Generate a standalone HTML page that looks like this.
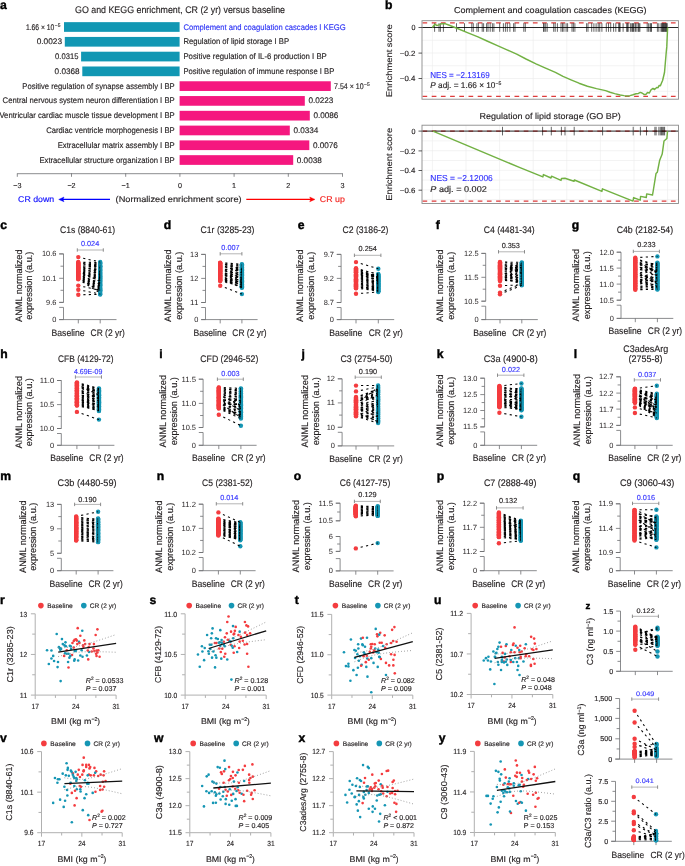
<!DOCTYPE html><html><head><meta charset="utf-8"><style>html,body{margin:0;padding:0;background:#fff;}svg{display:block;will-change:transform;}text{font-family:"Liberation Sans", sans-serif;}</style></head><body><svg width="685" height="866" viewBox="0 0 685 866" text-rendering="geometricPrecision" fill="#231f20"><text x="-0.1" y="8.8" font-size="12.2" fill="#000" font-weight="bold" stroke="#000" stroke-width="0.4">a</text>
<text x="75" y="12.9" font-size="9.6" textLength="210" lengthAdjust="spacingAndGlyphs" stroke="#231f20" stroke-width="0.15">GO and KEGG enrichment, CR (2 yr) versus baseline</text>
<rect x="64" y="22.15" width="115.6" height="9.7" fill="#1197b3"/>
<text x="183.4" y="29.5" font-size="8.2" fill="#2f35f5" textLength="162.3" lengthAdjust="spacingAndGlyphs" stroke="#2f35f5" stroke-width="0.15">Complement and coagulation cascades I KEGG</text>
<text x="25.9" y="29.5" font-size="8.1" textLength="28.5" lengthAdjust="spacingAndGlyphs" stroke="#231f20" stroke-width="0.15">1.66 × 10</text>
<text x="54.8" y="26.6" font-size="5.2" textLength="5.6" lengthAdjust="spacingAndGlyphs" stroke="#231f20" stroke-width="0.15">−5</text>
<rect x="64.8" y="36.93" width="114.8" height="9.7" fill="#1197b3"/>
<text x="183.4" y="44.28" font-size="8.2" textLength="105.7" lengthAdjust="spacingAndGlyphs" stroke="#231f20" stroke-width="0.15">Regulation of lipid storage I BP</text>
<text x="62.1" y="44.28" font-size="8.1" text-anchor="end" textLength="25.4" lengthAdjust="spacingAndGlyphs" stroke="#231f20" stroke-width="0.15">0.0023</text>
<rect x="81.1" y="51.71" width="98.5" height="9.7" fill="#1197b3"/>
<text x="183.4" y="59.06" font-size="8.2" textLength="143.4" lengthAdjust="spacingAndGlyphs" stroke="#231f20" stroke-width="0.15">Positive regulation of IL-6 production I BP</text>
<text x="78.4" y="59.06" font-size="8.1" text-anchor="end" textLength="23.3" lengthAdjust="spacingAndGlyphs" stroke="#231f20" stroke-width="0.15">0.0315</text>
<rect x="82.3" y="66.49" width="97.3" height="9.7" fill="#1197b3"/>
<text x="183.4" y="73.84" font-size="8.2" textLength="150.9" lengthAdjust="spacingAndGlyphs" stroke="#231f20" stroke-width="0.15">Positive regulation of immune response I BP</text>
<text x="79.6" y="73.84" font-size="8.1" text-anchor="end" textLength="25" lengthAdjust="spacingAndGlyphs" stroke="#231f20" stroke-width="0.15">0.0368</text>
<rect x="179.6" y="81.27" width="151.2" height="9.7" fill="#f5177f"/>
<text x="174.7" y="88.62" font-size="8.2" text-anchor="end" textLength="152.4" lengthAdjust="spacingAndGlyphs" stroke="#231f20" stroke-width="0.15">Positive regulation of synapse assembly I BP</text>
<text x="334.1" y="88.62" font-size="8.1" textLength="29.5" lengthAdjust="spacingAndGlyphs" stroke="#231f20" stroke-width="0.15">7.54 × 10</text>
<text x="364.1" y="85.72" font-size="5.2" textLength="5.6" lengthAdjust="spacingAndGlyphs" stroke="#231f20" stroke-width="0.15">−5</text>
<rect x="179.6" y="96.05" width="125.2" height="9.7" fill="#f5177f"/>
<text x="174.7" y="103.4" font-size="8.2" text-anchor="end" textLength="172.1" lengthAdjust="spacingAndGlyphs" stroke="#231f20" stroke-width="0.15">Central nervous system neuron differentiation I BP</text>
<text x="308.4" y="103.4" font-size="8.1" textLength="25" lengthAdjust="spacingAndGlyphs" stroke="#231f20" stroke-width="0.15">0.0223</text>
<rect x="179.6" y="110.83" width="130.2" height="9.7" fill="#f5177f"/>
<text x="174.7" y="118.18" font-size="8.2" text-anchor="end" textLength="175.3" lengthAdjust="spacingAndGlyphs" stroke="#231f20" stroke-width="0.15">Ventricular cardiac muscle tissue development I BP</text>
<text x="313.4" y="118.18" font-size="8.1" textLength="25" lengthAdjust="spacingAndGlyphs" stroke="#231f20" stroke-width="0.15">0.0086</text>
<rect x="179.6" y="125.61" width="110.2" height="9.7" fill="#f5177f"/>
<text x="174.7" y="132.96" font-size="8.2" text-anchor="end" textLength="128.5" lengthAdjust="spacingAndGlyphs" stroke="#231f20" stroke-width="0.15">Cardiac ventricle morphogenesis I BP</text>
<text x="293.4" y="132.96" font-size="8.1" textLength="25" lengthAdjust="spacingAndGlyphs" stroke="#231f20" stroke-width="0.15">0.0334</text>
<rect x="179.6" y="140.39" width="129.7" height="9.7" fill="#f5177f"/>
<text x="174.7" y="147.74" font-size="8.2" text-anchor="end" textLength="117" lengthAdjust="spacingAndGlyphs" stroke="#231f20" stroke-width="0.15">Extracellular matrix assembly I BP</text>
<text x="312.9" y="147.74" font-size="8.1" textLength="25" lengthAdjust="spacingAndGlyphs" stroke="#231f20" stroke-width="0.15">0.0076</text>
<rect x="179.6" y="155.17" width="113.6" height="9.7" fill="#f5177f"/>
<text x="174.7" y="162.52" font-size="8.2" text-anchor="end" textLength="135.3" lengthAdjust="spacingAndGlyphs" stroke="#231f20" stroke-width="0.15">Extracellular structure organization I BP</text>
<text x="296.8" y="162.52" font-size="8.1" textLength="25" lengthAdjust="spacingAndGlyphs" stroke="#231f20" stroke-width="0.15">0.0038</text>
<line x1="17.3" y1="173.7" x2="342.5" y2="173.7" stroke="#6d6e71" stroke-width="0.8"/>
<line x1="17.3" y1="173.3" x2="17.3" y2="176.8" stroke="#6d6e71" stroke-width="0.8"/>
<text x="17.3" y="187.6" font-size="7.2" text-anchor="middle" stroke="#231f20" stroke-width="0.15">−3</text>
<line x1="71.5" y1="173.3" x2="71.5" y2="176.8" stroke="#6d6e71" stroke-width="0.8"/>
<text x="71.5" y="187.6" font-size="7.2" text-anchor="middle" stroke="#231f20" stroke-width="0.15">−2</text>
<line x1="125.7" y1="173.3" x2="125.7" y2="176.8" stroke="#6d6e71" stroke-width="0.8"/>
<text x="125.7" y="187.6" font-size="7.2" text-anchor="middle" stroke="#231f20" stroke-width="0.15">−1</text>
<line x1="179.9" y1="173.3" x2="179.9" y2="176.8" stroke="#6d6e71" stroke-width="0.8"/>
<text x="179.9" y="187.6" font-size="7.2" text-anchor="middle" stroke="#231f20" stroke-width="0.15">0</text>
<line x1="234.1" y1="173.3" x2="234.1" y2="176.8" stroke="#6d6e71" stroke-width="0.8"/>
<text x="234.1" y="187.6" font-size="7.2" text-anchor="middle" stroke="#231f20" stroke-width="0.15">1</text>
<line x1="288.3" y1="173.3" x2="288.3" y2="176.8" stroke="#6d6e71" stroke-width="0.8"/>
<text x="288.3" y="187.6" font-size="7.2" text-anchor="middle" stroke="#231f20" stroke-width="0.15">2</text>
<line x1="342.5" y1="173.3" x2="342.5" y2="176.8" stroke="#6d6e71" stroke-width="0.8"/>
<text x="342.5" y="187.6" font-size="7.2" text-anchor="middle" stroke="#231f20" stroke-width="0.15">3</text>
<text x="18.1" y="201.8" font-size="8.4" fill="#1010ff" textLength="36.1" lengthAdjust="spacingAndGlyphs" stroke="#1010ff" stroke-width="0.15">CR down</text>
<path d="M110 199.4 H62" stroke="#0000ff" stroke-width="1.3" fill="none"/>
<path d="M58.7 199.4 L64 197 L63 199.4 L64 201.8 Z" stroke="#0000ff" stroke-width="0.4" fill="#0000ff"/>
<text x="115.6" y="201.8" font-size="8.4" textLength="126" lengthAdjust="spacingAndGlyphs" stroke="#231f20" stroke-width="0.15">(Normalized enrichment score)</text>
<path d="M246.3 199.4 H311" stroke="#ff0000" stroke-width="1.3" fill="none"/>
<path d="M315 199.4 L309.7 197 L310.7 199.4 L309.7 201.8 Z" stroke="#ff0000" stroke-width="0.4" fill="#ff0000"/>
<text x="319.8" y="201.8" font-size="8.4" fill="#f3211d" textLength="25" lengthAdjust="spacingAndGlyphs" stroke="#f3211d" stroke-width="0.15">CR up</text>
<text x="385.1" y="8.8" font-size="12.2" fill="#000" font-weight="bold" stroke="#000" stroke-width="0.4">b</text>
<g stroke="#ebebeb" stroke-width="0.6">
<line x1="432.4" y1="20.7" x2="432.4" y2="99.2"/>
<line x1="466" y1="20.7" x2="466" y2="99.2"/>
<line x1="499.6" y1="20.7" x2="499.6" y2="99.2"/>
<line x1="533.2" y1="20.7" x2="533.2" y2="99.2"/>
<line x1="566.8" y1="20.7" x2="566.8" y2="99.2"/>
<line x1="600.4" y1="20.7" x2="600.4" y2="99.2"/>
<line x1="634" y1="20.7" x2="634" y2="99.2"/>
<line x1="667.6" y1="20.7" x2="667.6" y2="99.2"/>
<line x1="422" y1="27.5" x2="678.5" y2="27.5"/>
<line x1="422" y1="40.25" x2="678.5" y2="40.25"/>
<line x1="422" y1="53" x2="678.5" y2="53"/>
<line x1="422" y1="65.75" x2="678.5" y2="65.75"/>
<line x1="422" y1="78.5" x2="678.5" y2="78.5"/>
<line x1="422" y1="91.25" x2="678.5" y2="91.25"/>
</g>
<line x1="422.5" y1="22.8" x2="678" y2="22.8" stroke="#de3b3b" stroke-width="1.2" stroke-dasharray="4.7 4.5"/>
<line x1="422.5" y1="96.4" x2="678" y2="96.4" stroke="#de3b3b" stroke-width="1.2" stroke-dasharray="4.7 4.5"/>
<line x1="422" y1="27.5" x2="678.5" y2="27.5" stroke="#111" stroke-width="0.9"/>
<path d="M434.6 23.2V31.8M439 23.2V31.8M440.4 23.2V31.8M443.4 23.2V31.8M456.5 23.2V31.8M464.5 23.2V31.8M471.8 23.2V31.8M473.3 23.2V31.8M476.9 23.2V31.8M478.4 23.2V31.8M482.2 23.2V31.8M483.6 23.2V31.8M486.6 23.2V31.8M488 23.2V31.8M490.2 23.2V31.8M492.4 23.2V31.8M493.9 23.2V31.8M499.7 23.2V31.8M503.4 23.2V31.8M505.4 23.2V31.8M507.3 23.2V31.8M509.9 23.2V31.8M513.6 23.2V31.8M515 23.2V31.8M523.8 23.2V31.8M525.3 23.2V31.8M543.5 23.2V31.8M544.2 23.2V31.8M545.7 23.2V31.8M547.2 23.2V31.8M553.7 23.2V31.8M555.2 23.2V31.8M557.4 23.2V31.8M561 23.2V31.8M562.5 23.2V31.8M563.9 23.2V31.8M566.1 23.2V31.8M567.6 23.2V31.8M572 23.2V31.8M573.4 23.2V31.8M574.9 23.2V31.8M586.6 23.2V31.8M588 23.2V31.8M591.7 23.2V31.8M593.9 23.2V31.8M596.1 23.2V31.8M598.2 23.2V31.8M599.7 23.2V31.8M601.9 23.2V31.8M606.3 23.2V31.8M608.5 23.2V31.8M610.7 23.2V31.8M613.6 23.2V31.8M615.8 23.2V31.8M618.7 23.2V31.8M619.4 23.2V31.8M620.1 23.2V31.8M623.1 23.2V31.8M626.7 23.2V31.8M627.4 23.2V31.8M628.2 23.2V31.8M630.4 23.2V31.8M631.8 23.2V31.8M632.6 23.2V31.8M633.3 23.2V31.8M634 23.2V31.8M635.5 23.2V31.8M636.9 23.2V31.8M638.4 23.2V31.8M639.1 23.2V31.8M639.9 23.2V31.8M647.2 23.2V31.8M648.6 23.2V31.8M650.1 23.2V31.8M650.8 23.2V31.8M651.5 23.2V31.8M657.4 23.2V31.8M658.8 23.2V31.8M661 23.2V31.8M661.8 23.2V31.8M662.4 23.2V31.8M663 23.2V31.8M663.6 23.2V31.8M664.2 23.2V31.8M664.8 23.2V31.8M665.4 23.2V31.8M666 23.2V31.8M666.6 23.2V31.8M667.2 23.2V31.8" stroke="#000" stroke-width="0.6" fill="none"/>
<path d="M432.4 27.5 L434.9 24.2 L437 25.6 L439.5 24.6 L441.5 23.8 L445 23.6 L450 25.5 L458.7 29 L468 32.8 L478 36.8 L487 41 L497.4 45.6 L507 49.8 L516.7 54.2 L526 59 L536 63.8 L545 67.8 L555.4 72.4 L563 76.4 L571 79.8 L579 83.2 L587.4 86.2 L596.5 88.6 L605.6 90.6 L610 92.2 L614.7 93.6 L620.2 95 L624 95.6 L627.5 96 L630 95.6 L633 94.8 L636 93.8 L638 93.6 L640.3 92.4 L642 93 L644 94.4 L645.8 94.4 L647.5 92.5 L649.4 93 L651 89.8 L653 88.4 L654.5 89.6 L656.7 87.4 L658 87.8 L659.2 85.4 L660.4 85.8 L661.6 82.8 L662.6 80.5 L664.5 72.5 L666 55 L666.8 46.4 L667.6 27.5" stroke="#72b143" stroke-width="1.45" fill="none" stroke-linejoin="round"/>
<rect x="422" y="20.7" width="256.5" height="78.5" fill="none" stroke="#8a8a8a" stroke-width="0.9"/>
<line x1="418.5" y1="27.5" x2="422" y2="27.5" stroke="#333" stroke-width="0.8"/>
<text x="415.4" y="30.1" font-size="7.5" text-anchor="end" textLength="3.96" lengthAdjust="spacingAndGlyphs" stroke="#231f20" stroke-width="0.15">0</text>
<line x1="418.5" y1="53.1" x2="422" y2="53.1" stroke="#333" stroke-width="0.8"/>
<text x="415.4" y="55.7" font-size="7.5" text-anchor="end" textLength="15.51" lengthAdjust="spacingAndGlyphs" stroke="#231f20" stroke-width="0.15">−0.2</text>
<line x1="418.5" y1="78.5" x2="422" y2="78.5" stroke="#333" stroke-width="0.8"/>
<text x="415.4" y="81.1" font-size="7.5" text-anchor="end" textLength="15.51" lengthAdjust="spacingAndGlyphs" stroke="#231f20" stroke-width="0.15">−0.4</text>
<text x="550.2" y="13.2" font-size="8.5" text-anchor="middle" textLength="192.6" lengthAdjust="spacingAndGlyphs" stroke="#231f20" stroke-width="0.15">Complement and coagulation cascades (KEGG)</text>
<text x="430.3" y="77.7" font-size="8.6" fill="#3333ff" textLength="59.3" lengthAdjust="spacingAndGlyphs" stroke="#3333ff" stroke-width="0.15">NES = −2.13169</text>
<text x="430.3" y="87.6" font-size="8.4" textLength="71" lengthAdjust="spacingAndGlyphs" stroke="#231f20" stroke-width="0.15"><tspan font-style="italic">P</tspan> adj. = 1.66 × 10<tspan font-size="5.2" dy="-3">−5</tspan></text>
<g stroke="#ebebeb" stroke-width="0.6">
<line x1="432.4" y1="125.2" x2="432.4" y2="203.5"/>
<line x1="466" y1="125.2" x2="466" y2="203.5"/>
<line x1="499.6" y1="125.2" x2="499.6" y2="203.5"/>
<line x1="533.2" y1="125.2" x2="533.2" y2="203.5"/>
<line x1="566.8" y1="125.2" x2="566.8" y2="203.5"/>
<line x1="600.4" y1="125.2" x2="600.4" y2="203.5"/>
<line x1="634" y1="125.2" x2="634" y2="203.5"/>
<line x1="667.6" y1="125.2" x2="667.6" y2="203.5"/>
<line x1="422" y1="131.1" x2="678.5" y2="131.1"/>
<line x1="422" y1="140.9" x2="678.5" y2="140.9"/>
<line x1="422" y1="150.7" x2="678.5" y2="150.7"/>
<line x1="422" y1="160.5" x2="678.5" y2="160.5"/>
<line x1="422" y1="170.3" x2="678.5" y2="170.3"/>
<line x1="422" y1="180.1" x2="678.5" y2="180.1"/>
<line x1="422" y1="189.9" x2="678.5" y2="189.9"/>
<line x1="422" y1="199.7" x2="678.5" y2="199.7"/>
</g>
<line x1="422.5" y1="131.1" x2="678" y2="131.1" stroke="#de3b3b" stroke-width="1.2" stroke-dasharray="4.7 4.5"/>
<line x1="422.5" y1="201.1" x2="678" y2="201.1" stroke="#de3b3b" stroke-width="1.2" stroke-dasharray="4.7 4.5"/>
<line x1="422" y1="131.1" x2="678.5" y2="131.1" stroke="#111" stroke-width="0.9"/>
<path d="M502.5 126.8V135.4M542.6 126.8V135.4M551.3 126.8V135.4M561.4 126.8V135.4M565 126.8V135.4M574.2 126.8V135.4M602.6 126.8V135.4M633.2 126.8V135.4M640.4 126.8V135.4M646.5 126.8V135.4M654.9 126.8V135.4M656.1 126.8V135.4M658.9 126.8V135.4M660.3 126.8V135.4M661.5 126.8V135.4M662.6 126.8V135.4M663.7 126.8V135.4M664.6 126.8V135.4" stroke="#000" stroke-width="0.6" fill="none"/>
<path d="M432.9 131.1 L520 167.7 L542.9 176.9 L543.4 174.6 L551 178 L551.5 176.2 L561 180.4 L561.5 178.5 L565 178.3 L574 181.2 L574.4 180 L601.9 191.4 L602.4 188.8 L633 201.1 L633.6 197.6 L640.2 200.2 L640.6 196.4 L646.3 197.5 L646.7 193.9 L652.5 195 L653.2 191 L656 173.6 L657.3 172.3 L659.7 160.2 L662.2 154.1 L664 141 L666.9 138.5 L667.5 131.1" stroke="#72b143" stroke-width="1.45" fill="none" stroke-linejoin="round"/>
<rect x="422" y="125.2" width="256.5" height="78.3" fill="none" stroke="#8a8a8a" stroke-width="0.9"/>
<line x1="418.5" y1="131.1" x2="422" y2="131.1" stroke="#333" stroke-width="0.8"/>
<text x="415.4" y="133.7" font-size="7.5" text-anchor="end" textLength="3.96" lengthAdjust="spacingAndGlyphs" stroke="#231f20" stroke-width="0.15">0</text>
<line x1="418.5" y1="150.9" x2="422" y2="150.9" stroke="#333" stroke-width="0.8"/>
<text x="415.4" y="153.5" font-size="7.5" text-anchor="end" textLength="15.51" lengthAdjust="spacingAndGlyphs" stroke="#231f20" stroke-width="0.15">−0.2</text>
<line x1="418.5" y1="170.5" x2="422" y2="170.5" stroke="#333" stroke-width="0.8"/>
<text x="415.4" y="173.1" font-size="7.5" text-anchor="end" textLength="15.51" lengthAdjust="spacingAndGlyphs" stroke="#231f20" stroke-width="0.15">−0.4</text>
<line x1="418.5" y1="190.2" x2="422" y2="190.2" stroke="#333" stroke-width="0.8"/>
<text x="415.4" y="192.8" font-size="7.5" text-anchor="end" textLength="15.51" lengthAdjust="spacingAndGlyphs" stroke="#231f20" stroke-width="0.15">−0.6</text>
<text x="550.1" y="118.7" font-size="8.5" text-anchor="middle" textLength="141.1" lengthAdjust="spacingAndGlyphs" stroke="#231f20" stroke-width="0.15">Regulation of lipid storage (GO BP)</text>
<text x="430.3" y="181.1" font-size="8.6" fill="#3333ff" textLength="62.5" lengthAdjust="spacingAndGlyphs" stroke="#3333ff" stroke-width="0.15">NES = −2.12006</text>
<text x="430.3" y="191.6" font-size="8.4" textLength="56.5" lengthAdjust="spacingAndGlyphs" stroke="#231f20" stroke-width="0.15"><tspan font-style="italic">P</tspan> adj. = 0.002</text>
<text x="391.9" y="60.7" font-size="8.3" text-anchor="middle" textLength="73" lengthAdjust="spacingAndGlyphs" transform="rotate(-90 391.9 60.7)" stroke="#231f20" stroke-width="0.15">Enrichment score</text>
<text x="392.2" y="164.3" font-size="8.3" text-anchor="middle" textLength="73" lengthAdjust="spacingAndGlyphs" transform="rotate(-90 392.2 164.3)" stroke="#231f20" stroke-width="0.15">Enrichment score</text>
<text x="0.2" y="228.6" font-size="12.2" fill="#000" font-weight="bold" stroke="#000" stroke-width="0.4">c</text>
<text x="87.5" y="232.9" font-size="9.5" text-anchor="middle" textLength="55.2" lengthAdjust="spacingAndGlyphs" stroke="#231f20" stroke-width="0.15">C1s (8840-61)</text>
<text x="90.1" y="245.7" font-size="7.3" text-anchor="middle" fill="#3a3aff" textLength="18.3" lengthAdjust="spacingAndGlyphs" stroke="#3a3aff" stroke-width="0.15">0.024</text>
<path d="M77.3 250H103.3" stroke="#b5b5b5" stroke-width="1" fill="none"/>
<path d="M77.3 248.3V251.7M103.3 248.3V251.7" stroke="#808080" stroke-width="0.9" fill="none"/>
<path d="M63.5 253.9V302.4M63.5 307.4V319.6M59.2 253.9H63.5M59.2 302.4H63.5M59.2 307.4H63.5M59.2 319.6H63.5M60.5 266.2H63.5M60.5 290.3H63.5M59.2 253.9H63.5M59.2 278.3H63.5M59.2 302.4H63.5M59.2 319.6H116.5M78.3 319.6V323.4M100.2 319.6V323.4" stroke="#6d6e71" stroke-width="0.8" fill="none"/>
<text x="56.4" y="256.4" font-size="7.5" text-anchor="end" textLength="14.51" lengthAdjust="spacingAndGlyphs" stroke-width="0">10.6</text>
<text x="56.4" y="280.8" font-size="7.5" text-anchor="end" textLength="14.51" lengthAdjust="spacingAndGlyphs" stroke-width="0">10.1</text>
<text x="56.4" y="304.9" font-size="7.5" text-anchor="end" textLength="10.36" lengthAdjust="spacingAndGlyphs" stroke-width="0">9.6</text>
<text x="56.4" y="322.1" font-size="7.5" text-anchor="end" textLength="4.14" lengthAdjust="spacingAndGlyphs" stroke-width="0">0</text>
<text x="84.6" y="335.5" font-size="9.5" text-anchor="end" textLength="33" lengthAdjust="spacingAndGlyphs" stroke="#231f20" stroke-width="0.15">Baseline</text>
<text x="90.6" y="335.5" font-size="9.5" textLength="34.2" lengthAdjust="spacingAndGlyphs" stroke="#231f20" stroke-width="0.15">CR (2 yr)</text>
<text x="22.3" y="285.7" font-size="9.4" text-anchor="middle" textLength="72.5" lengthAdjust="spacingAndGlyphs" transform="rotate(-90 22.3 285.7)" stroke="#231f20" stroke-width="0.15">ANML normalized</text>
<text x="32.3" y="285.7" font-size="9.4" text-anchor="middle" textLength="68" lengthAdjust="spacingAndGlyphs" transform="rotate(-90 32.3 285.7)" stroke="#231f20" stroke-width="0.15">expression (a.u.)</text>
<circle cx="100.2" cy="262.03" r="2.2" fill="#1596b4"/>
<circle cx="100.2" cy="262.68" r="2.2" fill="#1596b4"/>
<circle cx="100.2" cy="263.57" r="2.2" fill="#1596b4"/>
<circle cx="100.2" cy="267.56" r="2.2" fill="#1596b4"/>
<circle cx="100.2" cy="266.23" r="2.2" fill="#1596b4"/>
<circle cx="100.2" cy="265.48" r="2.2" fill="#1596b4"/>
<circle cx="100.2" cy="264.1" r="2.2" fill="#1596b4"/>
<circle cx="100.2" cy="268.66" r="2.2" fill="#1596b4"/>
<circle cx="100.2" cy="266.58" r="2.2" fill="#1596b4"/>
<circle cx="100.2" cy="272.08" r="2.2" fill="#1596b4"/>
<circle cx="100.2" cy="270.48" r="2.2" fill="#1596b4"/>
<circle cx="100.2" cy="270.97" r="2.2" fill="#1596b4"/>
<circle cx="100.2" cy="274.44" r="2.2" fill="#1596b4"/>
<circle cx="100.2" cy="269.49" r="2.2" fill="#1596b4"/>
<circle cx="100.2" cy="272.81" r="2.2" fill="#1596b4"/>
<circle cx="100.2" cy="273.41" r="2.2" fill="#1596b4"/>
<circle cx="100.2" cy="275.47" r="2.2" fill="#1596b4"/>
<circle cx="100.2" cy="276.29" r="2.2" fill="#1596b4"/>
<circle cx="100.2" cy="281.7" r="2.2" fill="#1596b4"/>
<circle cx="100.2" cy="277.79" r="2.2" fill="#1596b4"/>
<circle cx="100.2" cy="276.9" r="2.2" fill="#1596b4"/>
<circle cx="100.2" cy="279.24" r="2.2" fill="#1596b4"/>
<circle cx="100.2" cy="281.03" r="2.2" fill="#1596b4"/>
<circle cx="100.2" cy="278.26" r="2.2" fill="#1596b4"/>
<circle cx="100.2" cy="280.45" r="2.2" fill="#1596b4"/>
<circle cx="100.2" cy="284.56" r="2.2" fill="#1596b4"/>
<circle cx="100.2" cy="283.74" r="2.2" fill="#1596b4"/>
<circle cx="100.2" cy="282.79" r="2.2" fill="#1596b4"/>
<circle cx="100.2" cy="285.19" r="2.2" fill="#1596b4"/>
<circle cx="100.2" cy="286.96" r="2.2" fill="#1596b4"/>
<circle cx="100.2" cy="286.07" r="2.2" fill="#1596b4"/>
<circle cx="100.2" cy="287.98" r="2.2" fill="#1596b4"/>
<circle cx="100.2" cy="291.68" r="2.2" fill="#1596b4"/>
<circle cx="100.2" cy="288.64" r="2.2" fill="#1596b4"/>
<circle cx="100.2" cy="289.4" r="2.2" fill="#1596b4"/>
<circle cx="100.2" cy="290.83" r="2.2" fill="#1596b4"/>
<circle cx="100.2" cy="292.96" r="2.2" fill="#1596b4"/>
<circle cx="100.2" cy="290.3" r="2.2" fill="#1596b4"/>
<circle cx="100.2" cy="293.99" r="2.2" fill="#1596b4"/>
<circle cx="100.2" cy="294.5" r="2.2" fill="#1596b4"/>
<path d="M78.3 257.1L100.2 262.03M78.3 262L100.2 262.68M78.3 262.64L100.2 263.57M78.3 263.11L100.2 267.56M78.3 263.4L100.2 266.23M78.3 264L100.2 265.48M78.3 264.48L100.2 264.1M78.3 265.06L100.2 268.66M78.3 265.62L100.2 266.58M78.3 265.84L100.2 272.08M78.3 266.31L100.2 270.48M78.3 267.13L100.2 270.97M78.3 267.47L100.2 274.44M78.3 268.1L100.2 269.49M78.3 268.3L100.2 272.81M78.3 268.98L100.2 273.41M78.3 269.59L100.2 275.47M78.3 269.89L100.2 276.29M78.3 270.68L100.2 281.7M78.3 271.16L100.2 277.79M78.3 271.31L100.2 276.9M78.3 271.81L100.2 279.24M78.3 272.52L100.2 281.03M78.3 273.18L100.2 278.26M78.3 273.45L100.2 280.45M78.3 273.89L100.2 284.56M78.3 274.47L100.2 283.74M78.3 274.81L100.2 282.79M78.3 275.39L100.2 285.19M78.3 275.98L100.2 286.96M78.3 276.5L100.2 286.07M78.3 276.89L100.2 287.98M78.3 277.39L100.2 291.68M78.3 277.89L100.2 288.64M78.3 278.48L100.2 289.4M78.3 278.92L100.2 290.83M78.3 279.31L100.2 292.96M78.3 285.6L100.2 290.3M78.3 289.7L100.2 293.99M78.3 294.7L100.2 294.5" stroke="#000" stroke-width="1.05" fill="none" stroke-dasharray="2.2 3.3" stroke-dashoffset="0.5"/>
<circle cx="78.3" cy="257.1" r="2.2" fill="#f43c3f"/>
<circle cx="78.3" cy="262" r="2.2" fill="#f43c3f"/>
<circle cx="78.3" cy="262.64" r="2.2" fill="#f43c3f"/>
<circle cx="78.3" cy="263.11" r="2.2" fill="#f43c3f"/>
<circle cx="78.3" cy="263.4" r="2.2" fill="#f43c3f"/>
<circle cx="78.3" cy="264" r="2.2" fill="#f43c3f"/>
<circle cx="78.3" cy="264.48" r="2.2" fill="#f43c3f"/>
<circle cx="78.3" cy="265.06" r="2.2" fill="#f43c3f"/>
<circle cx="78.3" cy="265.62" r="2.2" fill="#f43c3f"/>
<circle cx="78.3" cy="265.84" r="2.2" fill="#f43c3f"/>
<circle cx="78.3" cy="266.31" r="2.2" fill="#f43c3f"/>
<circle cx="78.3" cy="267.13" r="2.2" fill="#f43c3f"/>
<circle cx="78.3" cy="267.47" r="2.2" fill="#f43c3f"/>
<circle cx="78.3" cy="268.1" r="2.2" fill="#f43c3f"/>
<circle cx="78.3" cy="268.3" r="2.2" fill="#f43c3f"/>
<circle cx="78.3" cy="268.98" r="2.2" fill="#f43c3f"/>
<circle cx="78.3" cy="269.59" r="2.2" fill="#f43c3f"/>
<circle cx="78.3" cy="269.89" r="2.2" fill="#f43c3f"/>
<circle cx="78.3" cy="270.68" r="2.2" fill="#f43c3f"/>
<circle cx="78.3" cy="271.16" r="2.2" fill="#f43c3f"/>
<circle cx="78.3" cy="271.31" r="2.2" fill="#f43c3f"/>
<circle cx="78.3" cy="271.81" r="2.2" fill="#f43c3f"/>
<circle cx="78.3" cy="272.52" r="2.2" fill="#f43c3f"/>
<circle cx="78.3" cy="273.18" r="2.2" fill="#f43c3f"/>
<circle cx="78.3" cy="273.45" r="2.2" fill="#f43c3f"/>
<circle cx="78.3" cy="273.89" r="2.2" fill="#f43c3f"/>
<circle cx="78.3" cy="274.47" r="2.2" fill="#f43c3f"/>
<circle cx="78.3" cy="274.81" r="2.2" fill="#f43c3f"/>
<circle cx="78.3" cy="275.39" r="2.2" fill="#f43c3f"/>
<circle cx="78.3" cy="275.98" r="2.2" fill="#f43c3f"/>
<circle cx="78.3" cy="276.5" r="2.2" fill="#f43c3f"/>
<circle cx="78.3" cy="276.89" r="2.2" fill="#f43c3f"/>
<circle cx="78.3" cy="277.39" r="2.2" fill="#f43c3f"/>
<circle cx="78.3" cy="277.89" r="2.2" fill="#f43c3f"/>
<circle cx="78.3" cy="278.48" r="2.2" fill="#f43c3f"/>
<circle cx="78.3" cy="278.92" r="2.2" fill="#f43c3f"/>
<circle cx="78.3" cy="279.31" r="2.2" fill="#f43c3f"/>
<circle cx="78.3" cy="285.6" r="2.2" fill="#f43c3f"/>
<circle cx="78.3" cy="289.7" r="2.2" fill="#f43c3f"/>
<circle cx="78.3" cy="294.7" r="2.2" fill="#f43c3f"/>
<text x="163.8" y="228.6" font-size="12.2" fill="#000" font-weight="bold" stroke="#000" stroke-width="0.4">d</text>
<text x="227.5" y="232.9" font-size="9.5" text-anchor="middle" textLength="54" lengthAdjust="spacingAndGlyphs" stroke="#231f20" stroke-width="0.15">C1r (3285-23)</text>
<text x="230.5" y="249.8" font-size="7.3" text-anchor="middle" fill="#3a3aff" textLength="18.3" lengthAdjust="spacingAndGlyphs" stroke="#3a3aff" stroke-width="0.15">0.007</text>
<path d="M220.2 253.8H241.9" stroke="#b5b5b5" stroke-width="1" fill="none"/>
<path d="M220.2 252.1V255.5M241.9 252.1V255.5" stroke="#808080" stroke-width="0.9" fill="none"/>
<path d="M205.5 254.4V302.5M205.5 307.5V319.6M201.2 254.4H205.5M201.2 302.5H205.5M201.2 307.5H205.5M201.2 319.6H205.5M202.5 266.4H205.5M202.5 290.4H205.5M201.2 254.4H205.5M201.2 278.4H205.5M201.2 302.5H205.5M201.2 319.6H257.6M220.2 319.6V323.4M241.9 319.6V323.4" stroke="#6d6e71" stroke-width="0.8" fill="none"/>
<text x="198.4" y="256.9" font-size="7.5" text-anchor="end" textLength="8.29" lengthAdjust="spacingAndGlyphs" stroke-width="0">13</text>
<text x="198.4" y="280.9" font-size="7.5" text-anchor="end" textLength="8.29" lengthAdjust="spacingAndGlyphs" stroke-width="0">12</text>
<text x="198.4" y="305" font-size="7.5" text-anchor="end" textLength="8.29" lengthAdjust="spacingAndGlyphs" stroke-width="0">11</text>
<text x="198.4" y="322.1" font-size="7.5" text-anchor="end" textLength="4.14" lengthAdjust="spacingAndGlyphs" stroke-width="0">0</text>
<text x="226.5" y="335.5" font-size="9.5" text-anchor="end" textLength="33" lengthAdjust="spacingAndGlyphs" stroke="#231f20" stroke-width="0.15">Baseline</text>
<text x="232.3" y="335.5" font-size="9.5" textLength="34.2" lengthAdjust="spacingAndGlyphs" stroke="#231f20" stroke-width="0.15">CR (2 yr)</text>
<text x="170.6" y="285.7" font-size="9.4" text-anchor="middle" textLength="72.5" lengthAdjust="spacingAndGlyphs" transform="rotate(-90 170.6 285.7)" stroke="#231f20" stroke-width="0.15">ANML normalized</text>
<text x="181.6" y="285.7" font-size="9.4" text-anchor="middle" textLength="68" lengthAdjust="spacingAndGlyphs" transform="rotate(-90 181.6 285.7)" stroke="#231f20" stroke-width="0.15">expression (a.u.)</text>
<circle cx="241.9" cy="264.21" r="2.2" fill="#1596b4"/>
<circle cx="241.9" cy="269.66" r="2.2" fill="#1596b4"/>
<circle cx="241.9" cy="265.82" r="2.2" fill="#1596b4"/>
<circle cx="241.9" cy="268.55" r="2.2" fill="#1596b4"/>
<circle cx="241.9" cy="265.41" r="2.2" fill="#1596b4"/>
<circle cx="241.9" cy="273.01" r="2.2" fill="#1596b4"/>
<circle cx="241.9" cy="270.94" r="2.2" fill="#1596b4"/>
<circle cx="241.9" cy="271.79" r="2.2" fill="#1596b4"/>
<circle cx="241.9" cy="267.39" r="2.2" fill="#1596b4"/>
<circle cx="241.9" cy="264.76" r="2.2" fill="#1596b4"/>
<circle cx="241.9" cy="266.77" r="2.2" fill="#1596b4"/>
<circle cx="241.9" cy="274.94" r="2.2" fill="#1596b4"/>
<circle cx="241.9" cy="275.35" r="2.2" fill="#1596b4"/>
<circle cx="241.9" cy="277.89" r="2.2" fill="#1596b4"/>
<circle cx="241.9" cy="269.16" r="2.2" fill="#1596b4"/>
<circle cx="241.9" cy="270.33" r="2.2" fill="#1596b4"/>
<circle cx="241.9" cy="267.62" r="2.2" fill="#1596b4"/>
<circle cx="241.9" cy="273.4" r="2.2" fill="#1596b4"/>
<circle cx="241.9" cy="279.07" r="2.2" fill="#1596b4"/>
<circle cx="241.9" cy="280.25" r="2.2" fill="#1596b4"/>
<circle cx="241.9" cy="276.84" r="2.2" fill="#1596b4"/>
<circle cx="241.9" cy="281.57" r="2.2" fill="#1596b4"/>
<circle cx="241.9" cy="278.39" r="2.2" fill="#1596b4"/>
<circle cx="241.9" cy="282.85" r="2.2" fill="#1596b4"/>
<circle cx="241.9" cy="272.21" r="2.2" fill="#1596b4"/>
<circle cx="241.9" cy="274.3" r="2.2" fill="#1596b4"/>
<circle cx="241.9" cy="277.38" r="2.2" fill="#1596b4"/>
<circle cx="241.9" cy="283.81" r="2.2" fill="#1596b4"/>
<circle cx="241.9" cy="284.84" r="2.2" fill="#1596b4"/>
<circle cx="241.9" cy="276.03" r="2.2" fill="#1596b4"/>
<circle cx="241.9" cy="285.48" r="2.2" fill="#1596b4"/>
<circle cx="241.9" cy="287.27" r="2.2" fill="#1596b4"/>
<circle cx="241.9" cy="279.89" r="2.2" fill="#1596b4"/>
<circle cx="241.9" cy="287.85" r="2.2" fill="#1596b4"/>
<circle cx="241.9" cy="282.52" r="2.2" fill="#1596b4"/>
<circle cx="241.9" cy="286.78" r="2.2" fill="#1596b4"/>
<circle cx="241.9" cy="281.26" r="2.2" fill="#1596b4"/>
<circle cx="241.9" cy="284.31" r="2.2" fill="#1596b4"/>
<circle cx="241.9" cy="286.18" r="2.2" fill="#1596b4"/>
<circle cx="241.9" cy="294.1" r="2.2" fill="#1596b4"/>
<path d="M220.2 262.58L241.9 264.21M220.2 263.06L241.9 269.66M220.2 263.21L241.9 265.82M220.2 263.71L241.9 268.55M220.2 264.49L241.9 265.41M220.2 264.94L241.9 273.01M220.2 265.4L241.9 270.94M220.2 265.75L241.9 271.79M220.2 266.36L241.9 267.39M220.2 266.85L241.9 264.76M220.2 267.33L241.9 266.77M220.2 267.65L241.9 274.94M220.2 268.25L241.9 275.35M220.2 268.72L241.9 277.89M220.2 269.34L241.9 269.16M220.2 269.94L241.9 270.33M220.2 270.41L241.9 267.62M220.2 270.74L241.9 273.4M220.2 271.19L241.9 279.07M220.2 271.61L241.9 280.25M220.2 272.01L241.9 276.84M220.2 272.49L241.9 281.57M220.2 273.15L241.9 278.39M220.2 273.59L241.9 282.85M220.2 274.1L241.9 272.21M220.2 274.79L241.9 274.3M220.2 275.14L241.9 277.38M220.2 275.64L241.9 283.81M220.2 276L241.9 284.84M220.2 276.41L241.9 276.03M220.2 277.02L241.9 285.48M220.2 277.43L241.9 287.27M220.2 278.07L241.9 279.89M220.2 278.75L241.9 287.85M220.2 279.11L241.9 282.52M220.2 279.41L241.9 286.78M220.2 280.18L241.9 281.26M220.2 280.63L241.9 284.31M220.2 281L241.9 286.18M220.2 285.7L241.9 294.1" stroke="#000" stroke-width="1.05" fill="none" stroke-dasharray="2.2 3.3" stroke-dashoffset="0.5"/>
<circle cx="220.2" cy="262.58" r="2.2" fill="#f43c3f"/>
<circle cx="220.2" cy="263.06" r="2.2" fill="#f43c3f"/>
<circle cx="220.2" cy="263.21" r="2.2" fill="#f43c3f"/>
<circle cx="220.2" cy="263.71" r="2.2" fill="#f43c3f"/>
<circle cx="220.2" cy="264.49" r="2.2" fill="#f43c3f"/>
<circle cx="220.2" cy="264.94" r="2.2" fill="#f43c3f"/>
<circle cx="220.2" cy="265.4" r="2.2" fill="#f43c3f"/>
<circle cx="220.2" cy="265.75" r="2.2" fill="#f43c3f"/>
<circle cx="220.2" cy="266.36" r="2.2" fill="#f43c3f"/>
<circle cx="220.2" cy="266.85" r="2.2" fill="#f43c3f"/>
<circle cx="220.2" cy="267.33" r="2.2" fill="#f43c3f"/>
<circle cx="220.2" cy="267.65" r="2.2" fill="#f43c3f"/>
<circle cx="220.2" cy="268.25" r="2.2" fill="#f43c3f"/>
<circle cx="220.2" cy="268.72" r="2.2" fill="#f43c3f"/>
<circle cx="220.2" cy="269.34" r="2.2" fill="#f43c3f"/>
<circle cx="220.2" cy="269.94" r="2.2" fill="#f43c3f"/>
<circle cx="220.2" cy="270.41" r="2.2" fill="#f43c3f"/>
<circle cx="220.2" cy="270.74" r="2.2" fill="#f43c3f"/>
<circle cx="220.2" cy="271.19" r="2.2" fill="#f43c3f"/>
<circle cx="220.2" cy="271.61" r="2.2" fill="#f43c3f"/>
<circle cx="220.2" cy="272.01" r="2.2" fill="#f43c3f"/>
<circle cx="220.2" cy="272.49" r="2.2" fill="#f43c3f"/>
<circle cx="220.2" cy="273.15" r="2.2" fill="#f43c3f"/>
<circle cx="220.2" cy="273.59" r="2.2" fill="#f43c3f"/>
<circle cx="220.2" cy="274.1" r="2.2" fill="#f43c3f"/>
<circle cx="220.2" cy="274.79" r="2.2" fill="#f43c3f"/>
<circle cx="220.2" cy="275.14" r="2.2" fill="#f43c3f"/>
<circle cx="220.2" cy="275.64" r="2.2" fill="#f43c3f"/>
<circle cx="220.2" cy="276" r="2.2" fill="#f43c3f"/>
<circle cx="220.2" cy="276.41" r="2.2" fill="#f43c3f"/>
<circle cx="220.2" cy="277.02" r="2.2" fill="#f43c3f"/>
<circle cx="220.2" cy="277.43" r="2.2" fill="#f43c3f"/>
<circle cx="220.2" cy="278.07" r="2.2" fill="#f43c3f"/>
<circle cx="220.2" cy="278.75" r="2.2" fill="#f43c3f"/>
<circle cx="220.2" cy="279.11" r="2.2" fill="#f43c3f"/>
<circle cx="220.2" cy="279.41" r="2.2" fill="#f43c3f"/>
<circle cx="220.2" cy="280.18" r="2.2" fill="#f43c3f"/>
<circle cx="220.2" cy="280.63" r="2.2" fill="#f43c3f"/>
<circle cx="220.2" cy="281" r="2.2" fill="#f43c3f"/>
<circle cx="220.2" cy="285.7" r="2.2" fill="#f43c3f"/>
<text x="297.7" y="228.6" font-size="12.2" fill="#000" font-weight="bold" stroke="#000" stroke-width="0.4">e</text>
<text x="365.5" y="232.9" font-size="9.5" text-anchor="middle" textLength="46" lengthAdjust="spacingAndGlyphs" stroke="#231f20" stroke-width="0.15">C2 (3186-2)</text>
<text x="367.7" y="250.8" font-size="7.3" text-anchor="middle" textLength="18.3" lengthAdjust="spacingAndGlyphs" stroke="#231f20" stroke-width="0.15">0.254</text>
<path d="M354.4 255.3H380.9" stroke="#b5b5b5" stroke-width="1" fill="none"/>
<path d="M354.4 253.6V257M380.9 253.6V257" stroke="#808080" stroke-width="0.9" fill="none"/>
<path d="M341.1 254.4V302.5M341.1 307.5V319.6M336.8 254.4H341.1M336.8 302.5H341.1M336.8 307.5H341.1M336.8 319.6H341.1M338.1 266.4H341.1M338.1 290.4H341.1M336.8 254.4H341.1M336.8 278.4H341.1M336.8 302.5H341.1M336.8 319.6H394.2M356 319.6V323.4M378.3 319.6V323.4" stroke="#6d6e71" stroke-width="0.8" fill="none"/>
<text x="334" y="256.9" font-size="7.5" text-anchor="end" textLength="10.36" lengthAdjust="spacingAndGlyphs" stroke-width="0">9.7</text>
<text x="334" y="280.9" font-size="7.5" text-anchor="end" textLength="10.36" lengthAdjust="spacingAndGlyphs" stroke-width="0">9.2</text>
<text x="334" y="305" font-size="7.5" text-anchor="end" textLength="10.36" lengthAdjust="spacingAndGlyphs" stroke-width="0">8.7</text>
<text x="334" y="322.1" font-size="7.5" text-anchor="end" textLength="4.14" lengthAdjust="spacingAndGlyphs" stroke-width="0">0</text>
<text x="362.3" y="335.5" font-size="9.5" text-anchor="end" textLength="33" lengthAdjust="spacingAndGlyphs" stroke="#231f20" stroke-width="0.15">Baseline</text>
<text x="368.7" y="335.5" font-size="9.5" textLength="34.2" lengthAdjust="spacingAndGlyphs" stroke="#231f20" stroke-width="0.15">CR (2 yr)</text>
<text x="303.5" y="285.7" font-size="9.4" text-anchor="middle" textLength="72.5" lengthAdjust="spacingAndGlyphs" transform="rotate(-90 303.5 285.7)" stroke="#231f20" stroke-width="0.15">ANML normalized</text>
<text x="314.5" y="285.7" font-size="9.4" text-anchor="middle" textLength="68" lengthAdjust="spacingAndGlyphs" transform="rotate(-90 314.5 285.7)" stroke="#231f20" stroke-width="0.15">expression (a.u.)</text>
<circle cx="378.3" cy="268.7" r="2.2" fill="#1596b4"/>
<circle cx="378.3" cy="274.37" r="2.2" fill="#1596b4"/>
<circle cx="378.3" cy="277.27" r="2.2" fill="#1596b4"/>
<circle cx="378.3" cy="274" r="2.2" fill="#1596b4"/>
<circle cx="378.3" cy="278.3" r="2.2" fill="#1596b4"/>
<circle cx="378.3" cy="276.84" r="2.2" fill="#1596b4"/>
<circle cx="378.3" cy="275.94" r="2.2" fill="#1596b4"/>
<circle cx="378.3" cy="278.77" r="2.2" fill="#1596b4"/>
<circle cx="378.3" cy="275.12" r="2.2" fill="#1596b4"/>
<circle cx="378.3" cy="280.77" r="2.2" fill="#1596b4"/>
<circle cx="378.3" cy="275.4" r="2.2" fill="#1596b4"/>
<circle cx="378.3" cy="280.32" r="2.2" fill="#1596b4"/>
<circle cx="378.3" cy="277.73" r="2.2" fill="#1596b4"/>
<circle cx="378.3" cy="279.36" r="2.2" fill="#1596b4"/>
<circle cx="378.3" cy="276.29" r="2.2" fill="#1596b4"/>
<circle cx="378.3" cy="279.75" r="2.2" fill="#1596b4"/>
<circle cx="378.3" cy="281.64" r="2.2" fill="#1596b4"/>
<circle cx="378.3" cy="283.18" r="2.2" fill="#1596b4"/>
<circle cx="378.3" cy="281.29" r="2.2" fill="#1596b4"/>
<circle cx="378.3" cy="283.63" r="2.2" fill="#1596b4"/>
<circle cx="378.3" cy="283.97" r="2.2" fill="#1596b4"/>
<circle cx="378.3" cy="281.92" r="2.2" fill="#1596b4"/>
<circle cx="378.3" cy="282.66" r="2.2" fill="#1596b4"/>
<circle cx="378.3" cy="284.5" r="2.2" fill="#1596b4"/>
<circle cx="378.3" cy="284.79" r="2.2" fill="#1596b4"/>
<circle cx="378.3" cy="285.49" r="2.2" fill="#1596b4"/>
<circle cx="378.3" cy="285.87" r="2.2" fill="#1596b4"/>
<circle cx="378.3" cy="288.05" r="2.2" fill="#1596b4"/>
<circle cx="378.3" cy="286.62" r="2.2" fill="#1596b4"/>
<circle cx="378.3" cy="287.4" r="2.2" fill="#1596b4"/>
<circle cx="378.3" cy="288.8" r="2.2" fill="#1596b4"/>
<circle cx="378.3" cy="290.68" r="2.2" fill="#1596b4"/>
<circle cx="378.3" cy="286.23" r="2.2" fill="#1596b4"/>
<circle cx="378.3" cy="287.92" r="2.2" fill="#1596b4"/>
<circle cx="378.3" cy="291.35" r="2.2" fill="#1596b4"/>
<circle cx="378.3" cy="289.5" r="2.2" fill="#1596b4"/>
<circle cx="378.3" cy="290.03" r="2.2" fill="#1596b4"/>
<circle cx="378.3" cy="291.19" r="2.2" fill="#1596b4"/>
<circle cx="378.3" cy="289.12" r="2.2" fill="#1596b4"/>
<circle cx="378.3" cy="292" r="2.2" fill="#1596b4"/>
<path d="M356 262.1L378.3 268.7M356 268.3L378.3 274.37M356 268.86L378.3 277.27M356 269.33L378.3 274M356 269.97L378.3 278.3M356 270.53L378.3 276.84M356 270.83L378.3 275.94M356 271.35L378.3 278.77M356 272.25L378.3 275.12M356 272.54L378.3 280.77M356 273.07L378.3 275.4M356 273.95L378.3 280.32M356 274.26L378.3 277.73M356 274.97L378.3 279.36M356 275.35L378.3 276.29M356 275.97L378.3 279.75M356 276.3L378.3 281.64M356 277.05L378.3 283.18M356 277.7L378.3 281.29M356 278.09L378.3 283.63M356 278.73L378.3 283.97M356 279.24L378.3 281.92M356 279.52L378.3 282.66M356 280.36L378.3 284.5M356 280.83L378.3 284.79M356 281.25L378.3 285.49M356 281.68L378.3 285.87M356 282.58L378.3 288.05M356 282.96L378.3 286.62M356 283.61L378.3 287.4M356 284.22L378.3 288.8M356 284.69L378.3 290.68M356 285.32L378.3 286.23M356 285.64L378.3 287.92M356 286.36L378.3 291.35M356 286.75L378.3 289.5M356 287.5L378.3 290.03M356 288.02L378.3 291.19M356 288.23L378.3 289.12M356 293.7L378.3 292" stroke="#000" stroke-width="1.05" fill="none" stroke-dasharray="2.2 3.3" stroke-dashoffset="0.5"/>
<circle cx="356" cy="262.1" r="2.2" fill="#f43c3f"/>
<circle cx="356" cy="268.3" r="2.2" fill="#f43c3f"/>
<circle cx="356" cy="268.86" r="2.2" fill="#f43c3f"/>
<circle cx="356" cy="269.33" r="2.2" fill="#f43c3f"/>
<circle cx="356" cy="269.97" r="2.2" fill="#f43c3f"/>
<circle cx="356" cy="270.53" r="2.2" fill="#f43c3f"/>
<circle cx="356" cy="270.83" r="2.2" fill="#f43c3f"/>
<circle cx="356" cy="271.35" r="2.2" fill="#f43c3f"/>
<circle cx="356" cy="272.25" r="2.2" fill="#f43c3f"/>
<circle cx="356" cy="272.54" r="2.2" fill="#f43c3f"/>
<circle cx="356" cy="273.07" r="2.2" fill="#f43c3f"/>
<circle cx="356" cy="273.95" r="2.2" fill="#f43c3f"/>
<circle cx="356" cy="274.26" r="2.2" fill="#f43c3f"/>
<circle cx="356" cy="274.97" r="2.2" fill="#f43c3f"/>
<circle cx="356" cy="275.35" r="2.2" fill="#f43c3f"/>
<circle cx="356" cy="275.97" r="2.2" fill="#f43c3f"/>
<circle cx="356" cy="276.3" r="2.2" fill="#f43c3f"/>
<circle cx="356" cy="277.05" r="2.2" fill="#f43c3f"/>
<circle cx="356" cy="277.7" r="2.2" fill="#f43c3f"/>
<circle cx="356" cy="278.09" r="2.2" fill="#f43c3f"/>
<circle cx="356" cy="278.73" r="2.2" fill="#f43c3f"/>
<circle cx="356" cy="279.24" r="2.2" fill="#f43c3f"/>
<circle cx="356" cy="279.52" r="2.2" fill="#f43c3f"/>
<circle cx="356" cy="280.36" r="2.2" fill="#f43c3f"/>
<circle cx="356" cy="280.83" r="2.2" fill="#f43c3f"/>
<circle cx="356" cy="281.25" r="2.2" fill="#f43c3f"/>
<circle cx="356" cy="281.68" r="2.2" fill="#f43c3f"/>
<circle cx="356" cy="282.58" r="2.2" fill="#f43c3f"/>
<circle cx="356" cy="282.96" r="2.2" fill="#f43c3f"/>
<circle cx="356" cy="283.61" r="2.2" fill="#f43c3f"/>
<circle cx="356" cy="284.22" r="2.2" fill="#f43c3f"/>
<circle cx="356" cy="284.69" r="2.2" fill="#f43c3f"/>
<circle cx="356" cy="285.32" r="2.2" fill="#f43c3f"/>
<circle cx="356" cy="285.64" r="2.2" fill="#f43c3f"/>
<circle cx="356" cy="286.36" r="2.2" fill="#f43c3f"/>
<circle cx="356" cy="286.75" r="2.2" fill="#f43c3f"/>
<circle cx="356" cy="287.5" r="2.2" fill="#f43c3f"/>
<circle cx="356" cy="288.02" r="2.2" fill="#f43c3f"/>
<circle cx="356" cy="288.23" r="2.2" fill="#f43c3f"/>
<circle cx="356" cy="293.7" r="2.2" fill="#f43c3f"/>
<text x="435.7" y="228.6" font-size="12.2" fill="#000" font-weight="bold" stroke="#000" stroke-width="0.4">f</text>
<text x="509.2" y="232.9" font-size="9.5" text-anchor="middle" textLength="51" lengthAdjust="spacingAndGlyphs" stroke="#231f20" stroke-width="0.15">C4 (4481-34)</text>
<text x="510.8" y="247.7" font-size="7.3" text-anchor="middle" textLength="18.3" lengthAdjust="spacingAndGlyphs" stroke="#231f20" stroke-width="0.15">0.353</text>
<path d="M498.5 251.8H524.5" stroke="#b5b5b5" stroke-width="1" fill="none"/>
<path d="M498.5 250.1V253.5M524.5 250.1V253.5" stroke="#808080" stroke-width="0.9" fill="none"/>
<path d="M485.7 253.4V301.2M485.7 306.2V319.6M481.4 253.4H485.7M481.4 301.2H485.7M481.4 306.2H485.7M481.4 319.6H485.7M482.7 265.3H485.7M482.7 289.2H485.7M481.4 253.4H485.7M481.4 277.3H485.7M481.4 301.2H485.7M481.4 319.6H537.8M500 319.6V323.4M521.8 319.6V323.4" stroke="#6d6e71" stroke-width="0.8" fill="none"/>
<text x="478.6" y="255.9" font-size="7.5" text-anchor="end" textLength="14.51" lengthAdjust="spacingAndGlyphs" stroke-width="0">12.5</text>
<text x="478.6" y="279.8" font-size="7.5" text-anchor="end" textLength="14.51" lengthAdjust="spacingAndGlyphs" stroke-width="0">11.5</text>
<text x="478.6" y="303.7" font-size="7.5" text-anchor="end" textLength="14.51" lengthAdjust="spacingAndGlyphs" stroke-width="0">10.5</text>
<text x="478.6" y="322.1" font-size="7.5" text-anchor="end" textLength="4.14" lengthAdjust="spacingAndGlyphs" stroke-width="0">0</text>
<text x="506.3" y="335.5" font-size="9.5" text-anchor="end" textLength="33" lengthAdjust="spacingAndGlyphs" stroke="#231f20" stroke-width="0.15">Baseline</text>
<text x="512.2" y="335.5" font-size="9.5" textLength="34.2" lengthAdjust="spacingAndGlyphs" stroke="#231f20" stroke-width="0.15">CR (2 yr)</text>
<text x="442.6" y="285.7" font-size="9.4" text-anchor="middle" textLength="72.5" lengthAdjust="spacingAndGlyphs" transform="rotate(-90 442.6 285.7)" stroke="#231f20" stroke-width="0.15">ANML normalized</text>
<text x="453.6" y="285.7" font-size="9.4" text-anchor="middle" textLength="68" lengthAdjust="spacingAndGlyphs" transform="rotate(-90 453.6 285.7)" stroke="#231f20" stroke-width="0.15">expression (a.u.)</text>
<circle cx="521.8" cy="262.33" r="2.2" fill="#1596b4"/>
<circle cx="521.8" cy="264.62" r="2.2" fill="#1596b4"/>
<circle cx="521.8" cy="269.44" r="2.2" fill="#1596b4"/>
<circle cx="521.8" cy="270.57" r="2.2" fill="#1596b4"/>
<circle cx="521.8" cy="272.77" r="2.2" fill="#1596b4"/>
<circle cx="521.8" cy="266.27" r="2.2" fill="#1596b4"/>
<circle cx="521.8" cy="268.57" r="2.2" fill="#1596b4"/>
<circle cx="521.8" cy="273.46" r="2.2" fill="#1596b4"/>
<circle cx="521.8" cy="263.07" r="2.2" fill="#1596b4"/>
<circle cx="521.8" cy="273.95" r="2.2" fill="#1596b4"/>
<circle cx="521.8" cy="269.86" r="2.2" fill="#1596b4"/>
<circle cx="521.8" cy="271.13" r="2.2" fill="#1596b4"/>
<circle cx="521.8" cy="272.56" r="2.2" fill="#1596b4"/>
<circle cx="521.8" cy="267.76" r="2.2" fill="#1596b4"/>
<circle cx="521.8" cy="276.57" r="2.2" fill="#1596b4"/>
<circle cx="521.8" cy="264.07" r="2.2" fill="#1596b4"/>
<circle cx="521.8" cy="265.81" r="2.2" fill="#1596b4"/>
<circle cx="521.8" cy="263.64" r="2.2" fill="#1596b4"/>
<circle cx="521.8" cy="278.62" r="2.2" fill="#1596b4"/>
<circle cx="521.8" cy="279.2" r="2.2" fill="#1596b4"/>
<circle cx="521.8" cy="275.8" r="2.2" fill="#1596b4"/>
<circle cx="521.8" cy="265.3" r="2.2" fill="#1596b4"/>
<circle cx="521.8" cy="275.17" r="2.2" fill="#1596b4"/>
<circle cx="521.8" cy="278.41" r="2.2" fill="#1596b4"/>
<circle cx="521.8" cy="267.98" r="2.2" fill="#1596b4"/>
<circle cx="521.8" cy="281.64" r="2.2" fill="#1596b4"/>
<circle cx="521.8" cy="266.93" r="2.2" fill="#1596b4"/>
<circle cx="521.8" cy="279.86" r="2.2" fill="#1596b4"/>
<circle cx="521.8" cy="281.23" r="2.2" fill="#1596b4"/>
<circle cx="521.8" cy="277.66" r="2.2" fill="#1596b4"/>
<circle cx="521.8" cy="283.9" r="2.2" fill="#1596b4"/>
<circle cx="521.8" cy="282.79" r="2.2" fill="#1596b4"/>
<circle cx="521.8" cy="271.66" r="2.2" fill="#1596b4"/>
<circle cx="521.8" cy="274.75" r="2.2" fill="#1596b4"/>
<circle cx="521.8" cy="282.27" r="2.2" fill="#1596b4"/>
<circle cx="521.8" cy="280.71" r="2.2" fill="#1596b4"/>
<circle cx="521.8" cy="276.96" r="2.2" fill="#1596b4"/>
<circle cx="521.8" cy="284.8" r="2.2" fill="#1596b4"/>
<circle cx="521.8" cy="283.51" r="2.2" fill="#1596b4"/>
<circle cx="521.8" cy="285.3" r="2.2" fill="#1596b4"/>
<path d="M500 262L521.8 262.33M500 262.36L521.8 264.62M500 263.01L521.8 269.44M500 263.44L521.8 270.57M500 263.93L521.8 272.77M500 264.6L521.8 266.27M500 265.34L521.8 268.57M500 265.82L521.8 273.46M500 266.33L521.8 263.07M500 266.63L521.8 273.95M500 267.29L521.8 269.86M500 267.71L521.8 271.13M500 268.2L521.8 272.56M500 268.69L521.8 267.76M500 269.27L521.8 276.57M500 270.1L521.8 264.07M500 270.58L521.8 265.81M500 271.1L521.8 263.64M500 271.63L521.8 278.62M500 271.9L521.8 279.2M500 272.48L521.8 275.8M500 273.14L521.8 265.3M500 273.71L521.8 275.17M500 274.29L521.8 278.41M500 274.83L521.8 267.98M500 275.02L521.8 281.64M500 275.77L521.8 266.93M500 276.32L521.8 279.86M500 276.78L521.8 281.23M500 277.17L521.8 277.66M500 277.82L521.8 283.9M500 278.19L521.8 282.79M500 279.07L521.8 271.66M500 279.57L521.8 274.75M500 279.96L521.8 282.27M500 280.39L521.8 280.71M500 281L521.8 276.96M500 285.7L521.8 284.8M500 292.6L521.8 283.51M500 294.2L521.8 285.3" stroke="#000" stroke-width="1.05" fill="none" stroke-dasharray="2.2 3.3" stroke-dashoffset="0.5"/>
<circle cx="500" cy="262" r="2.2" fill="#f43c3f"/>
<circle cx="500" cy="262.36" r="2.2" fill="#f43c3f"/>
<circle cx="500" cy="263.01" r="2.2" fill="#f43c3f"/>
<circle cx="500" cy="263.44" r="2.2" fill="#f43c3f"/>
<circle cx="500" cy="263.93" r="2.2" fill="#f43c3f"/>
<circle cx="500" cy="264.6" r="2.2" fill="#f43c3f"/>
<circle cx="500" cy="265.34" r="2.2" fill="#f43c3f"/>
<circle cx="500" cy="265.82" r="2.2" fill="#f43c3f"/>
<circle cx="500" cy="266.33" r="2.2" fill="#f43c3f"/>
<circle cx="500" cy="266.63" r="2.2" fill="#f43c3f"/>
<circle cx="500" cy="267.29" r="2.2" fill="#f43c3f"/>
<circle cx="500" cy="267.71" r="2.2" fill="#f43c3f"/>
<circle cx="500" cy="268.2" r="2.2" fill="#f43c3f"/>
<circle cx="500" cy="268.69" r="2.2" fill="#f43c3f"/>
<circle cx="500" cy="269.27" r="2.2" fill="#f43c3f"/>
<circle cx="500" cy="270.1" r="2.2" fill="#f43c3f"/>
<circle cx="500" cy="270.58" r="2.2" fill="#f43c3f"/>
<circle cx="500" cy="271.1" r="2.2" fill="#f43c3f"/>
<circle cx="500" cy="271.63" r="2.2" fill="#f43c3f"/>
<circle cx="500" cy="271.9" r="2.2" fill="#f43c3f"/>
<circle cx="500" cy="272.48" r="2.2" fill="#f43c3f"/>
<circle cx="500" cy="273.14" r="2.2" fill="#f43c3f"/>
<circle cx="500" cy="273.71" r="2.2" fill="#f43c3f"/>
<circle cx="500" cy="274.29" r="2.2" fill="#f43c3f"/>
<circle cx="500" cy="274.83" r="2.2" fill="#f43c3f"/>
<circle cx="500" cy="275.02" r="2.2" fill="#f43c3f"/>
<circle cx="500" cy="275.77" r="2.2" fill="#f43c3f"/>
<circle cx="500" cy="276.32" r="2.2" fill="#f43c3f"/>
<circle cx="500" cy="276.78" r="2.2" fill="#f43c3f"/>
<circle cx="500" cy="277.17" r="2.2" fill="#f43c3f"/>
<circle cx="500" cy="277.82" r="2.2" fill="#f43c3f"/>
<circle cx="500" cy="278.19" r="2.2" fill="#f43c3f"/>
<circle cx="500" cy="279.07" r="2.2" fill="#f43c3f"/>
<circle cx="500" cy="279.57" r="2.2" fill="#f43c3f"/>
<circle cx="500" cy="279.96" r="2.2" fill="#f43c3f"/>
<circle cx="500" cy="280.39" r="2.2" fill="#f43c3f"/>
<circle cx="500" cy="281" r="2.2" fill="#f43c3f"/>
<circle cx="500" cy="285.7" r="2.2" fill="#f43c3f"/>
<circle cx="500" cy="292.6" r="2.2" fill="#f43c3f"/>
<circle cx="500" cy="294.2" r="2.2" fill="#f43c3f"/>
<text x="571.8" y="228.6" font-size="12.2" fill="#000" font-weight="bold" stroke="#000" stroke-width="0.4">g</text>
<text x="644.9" y="232.9" font-size="9.5" text-anchor="middle" textLength="56.5" lengthAdjust="spacingAndGlyphs" stroke="#231f20" stroke-width="0.15">C4b (2182-54)</text>
<text x="646.4" y="247.1" font-size="7.3" text-anchor="middle" textLength="18.3" lengthAdjust="spacingAndGlyphs" stroke="#231f20" stroke-width="0.15">0.233</text>
<path d="M633.3 251.4H659.4" stroke="#b5b5b5" stroke-width="1" fill="none"/>
<path d="M633.3 249.7V253.1M659.4 249.7V253.1" stroke="#808080" stroke-width="0.9" fill="none"/>
<path d="M621 252.2V300.2M621 305.2V318.4M616.7 252.2H621M616.7 300.2H621M616.7 305.2H621M616.7 318.4H621M618 260.15H621M618 276.1H621M618 292.15H621M616.7 252.2H621M616.7 268.1H621M616.7 284.1H621M616.7 300.2H621M616.7 318.4H673.3M635.3 318.4V322.2M657.4 318.4V322.2" stroke="#6d6e71" stroke-width="0.8" fill="none"/>
<text x="613.9" y="254.7" font-size="7.5" text-anchor="end" textLength="14.51" lengthAdjust="spacingAndGlyphs" stroke-width="0">12.0</text>
<text x="613.9" y="270.6" font-size="7.5" text-anchor="end" textLength="14.51" lengthAdjust="spacingAndGlyphs" stroke-width="0">11.5</text>
<text x="613.9" y="286.6" font-size="7.5" text-anchor="end" textLength="14.51" lengthAdjust="spacingAndGlyphs" stroke-width="0">11.0</text>
<text x="613.9" y="302.7" font-size="7.5" text-anchor="end" textLength="14.51" lengthAdjust="spacingAndGlyphs" stroke-width="0">10.5</text>
<text x="613.9" y="320.9" font-size="7.5" text-anchor="end" textLength="4.14" lengthAdjust="spacingAndGlyphs" stroke-width="0">0</text>
<text x="641.6" y="334.3" font-size="9.5" text-anchor="end" textLength="33" lengthAdjust="spacingAndGlyphs" stroke="#231f20" stroke-width="0.15">Baseline</text>
<text x="647.8" y="334.3" font-size="9.5" textLength="34.2" lengthAdjust="spacingAndGlyphs" stroke="#231f20" stroke-width="0.15">CR (2 yr)</text>
<text x="578.6" y="285.2" font-size="9.4" text-anchor="middle" textLength="72.5" lengthAdjust="spacingAndGlyphs" transform="rotate(-90 578.6 285.2)" stroke="#231f20" stroke-width="0.15">ANML normalized</text>
<text x="589.6" y="285.2" font-size="9.4" text-anchor="middle" textLength="68" lengthAdjust="spacingAndGlyphs" transform="rotate(-90 589.6 285.2)" stroke="#231f20" stroke-width="0.15">expression (a.u.)</text>
<circle cx="657.4" cy="256.4" r="2.2" fill="#1596b4"/>
<circle cx="657.4" cy="265.25" r="2.2" fill="#1596b4"/>
<circle cx="657.4" cy="265.92" r="2.2" fill="#1596b4"/>
<circle cx="657.4" cy="272.48" r="2.2" fill="#1596b4"/>
<circle cx="657.4" cy="268.02" r="2.2" fill="#1596b4"/>
<circle cx="657.4" cy="271.86" r="2.2" fill="#1596b4"/>
<circle cx="657.4" cy="273.29" r="2.2" fill="#1596b4"/>
<circle cx="657.4" cy="270.34" r="2.2" fill="#1596b4"/>
<circle cx="657.4" cy="263.95" r="2.2" fill="#1596b4"/>
<circle cx="657.4" cy="275.88" r="2.2" fill="#1596b4"/>
<circle cx="657.4" cy="271.34" r="2.2" fill="#1596b4"/>
<circle cx="657.4" cy="262.82" r="2.2" fill="#1596b4"/>
<circle cx="657.4" cy="275.71" r="2.2" fill="#1596b4"/>
<circle cx="657.4" cy="266.77" r="2.2" fill="#1596b4"/>
<circle cx="657.4" cy="263.2" r="2.2" fill="#1596b4"/>
<circle cx="657.4" cy="269.64" r="2.2" fill="#1596b4"/>
<circle cx="657.4" cy="264.55" r="2.2" fill="#1596b4"/>
<circle cx="657.4" cy="282.39" r="2.2" fill="#1596b4"/>
<circle cx="657.4" cy="279.17" r="2.2" fill="#1596b4"/>
<circle cx="657.4" cy="283.82" r="2.2" fill="#1596b4"/>
<circle cx="657.4" cy="267.65" r="2.2" fill="#1596b4"/>
<circle cx="657.4" cy="278.01" r="2.2" fill="#1596b4"/>
<circle cx="657.4" cy="269.12" r="2.2" fill="#1596b4"/>
<circle cx="657.4" cy="274.13" r="2.2" fill="#1596b4"/>
<circle cx="657.4" cy="277.77" r="2.2" fill="#1596b4"/>
<circle cx="657.4" cy="286.39" r="2.2" fill="#1596b4"/>
<circle cx="657.4" cy="280.86" r="2.2" fill="#1596b4"/>
<circle cx="657.4" cy="281.6" r="2.2" fill="#1596b4"/>
<circle cx="657.4" cy="279.64" r="2.2" fill="#1596b4"/>
<circle cx="657.4" cy="287.48" r="2.2" fill="#1596b4"/>
<circle cx="657.4" cy="284.85" r="2.2" fill="#1596b4"/>
<circle cx="657.4" cy="274.47" r="2.2" fill="#1596b4"/>
<circle cx="657.4" cy="277.01" r="2.2" fill="#1596b4"/>
<circle cx="657.4" cy="280.47" r="2.2" fill="#1596b4"/>
<circle cx="657.4" cy="288.29" r="2.2" fill="#1596b4"/>
<circle cx="657.4" cy="286.76" r="2.2" fill="#1596b4"/>
<circle cx="657.4" cy="283.54" r="2.2" fill="#1596b4"/>
<circle cx="657.4" cy="285.67" r="2.2" fill="#1596b4"/>
<circle cx="657.4" cy="289.14" r="2.2" fill="#1596b4"/>
<circle cx="657.4" cy="289.48" r="2.2" fill="#1596b4"/>
<path d="M635.3 257.68L657.4 256.4M635.3 258.58L657.4 265.25M635.3 259.44L657.4 265.92M635.3 260.36L657.4 272.48M635.3 261.05L657.4 268.02M635.3 261.99L657.4 271.86M635.3 262.23L657.4 273.29M635.3 263.34L657.4 270.34M635.3 264.48L657.4 263.95M635.3 265.11L657.4 275.88M635.3 266.09L657.4 271.34M635.3 266.4L657.4 262.82M635.3 267.46L657.4 275.71M635.3 268.13L657.4 266.77M635.3 269.15L657.4 263.2M635.3 269.99L657.4 269.64M635.3 270.45L657.4 264.55M635.3 271.41L657.4 282.39M635.3 272.27L657.4 279.17M635.3 273.51L657.4 283.82M635.3 274.24L657.4 267.65M635.3 274.66L657.4 278.01M635.3 275.9L657.4 269.12M635.3 276.29L657.4 274.13M635.3 277.43L657.4 277.77M635.3 277.93L657.4 286.39M635.3 278.67L657.4 280.86M635.3 280.07L657.4 281.6M635.3 280.45L657.4 279.64M635.3 281.28L657.4 287.48M635.3 282.61L657.4 284.85M635.3 283.36L657.4 274.47M635.3 283.8L657.4 277.01M635.3 285.07L657.4 280.47M635.3 285.61L657.4 288.29M635.3 286.52L657.4 286.76M635.3 287.04L657.4 283.54M635.3 288.34L657.4 285.67M635.3 289L657.4 289.14M635.3 289.7L657.4 289.48" stroke="#000" stroke-width="1.05" fill="none" stroke-dasharray="2.2 3.3" stroke-dashoffset="0.5"/>
<circle cx="635.3" cy="257.68" r="2.2" fill="#f43c3f"/>
<circle cx="635.3" cy="258.58" r="2.2" fill="#f43c3f"/>
<circle cx="635.3" cy="259.44" r="2.2" fill="#f43c3f"/>
<circle cx="635.3" cy="260.36" r="2.2" fill="#f43c3f"/>
<circle cx="635.3" cy="261.05" r="2.2" fill="#f43c3f"/>
<circle cx="635.3" cy="261.99" r="2.2" fill="#f43c3f"/>
<circle cx="635.3" cy="262.23" r="2.2" fill="#f43c3f"/>
<circle cx="635.3" cy="263.34" r="2.2" fill="#f43c3f"/>
<circle cx="635.3" cy="264.48" r="2.2" fill="#f43c3f"/>
<circle cx="635.3" cy="265.11" r="2.2" fill="#f43c3f"/>
<circle cx="635.3" cy="266.09" r="2.2" fill="#f43c3f"/>
<circle cx="635.3" cy="266.4" r="2.2" fill="#f43c3f"/>
<circle cx="635.3" cy="267.46" r="2.2" fill="#f43c3f"/>
<circle cx="635.3" cy="268.13" r="2.2" fill="#f43c3f"/>
<circle cx="635.3" cy="269.15" r="2.2" fill="#f43c3f"/>
<circle cx="635.3" cy="269.99" r="2.2" fill="#f43c3f"/>
<circle cx="635.3" cy="270.45" r="2.2" fill="#f43c3f"/>
<circle cx="635.3" cy="271.41" r="2.2" fill="#f43c3f"/>
<circle cx="635.3" cy="272.27" r="2.2" fill="#f43c3f"/>
<circle cx="635.3" cy="273.51" r="2.2" fill="#f43c3f"/>
<circle cx="635.3" cy="274.24" r="2.2" fill="#f43c3f"/>
<circle cx="635.3" cy="274.66" r="2.2" fill="#f43c3f"/>
<circle cx="635.3" cy="275.9" r="2.2" fill="#f43c3f"/>
<circle cx="635.3" cy="276.29" r="2.2" fill="#f43c3f"/>
<circle cx="635.3" cy="277.43" r="2.2" fill="#f43c3f"/>
<circle cx="635.3" cy="277.93" r="2.2" fill="#f43c3f"/>
<circle cx="635.3" cy="278.67" r="2.2" fill="#f43c3f"/>
<circle cx="635.3" cy="280.07" r="2.2" fill="#f43c3f"/>
<circle cx="635.3" cy="280.45" r="2.2" fill="#f43c3f"/>
<circle cx="635.3" cy="281.28" r="2.2" fill="#f43c3f"/>
<circle cx="635.3" cy="282.61" r="2.2" fill="#f43c3f"/>
<circle cx="635.3" cy="283.36" r="2.2" fill="#f43c3f"/>
<circle cx="635.3" cy="283.8" r="2.2" fill="#f43c3f"/>
<circle cx="635.3" cy="285.07" r="2.2" fill="#f43c3f"/>
<circle cx="635.3" cy="285.61" r="2.2" fill="#f43c3f"/>
<circle cx="635.3" cy="286.52" r="2.2" fill="#f43c3f"/>
<circle cx="635.3" cy="287.04" r="2.2" fill="#f43c3f"/>
<circle cx="635.3" cy="288.34" r="2.2" fill="#f43c3f"/>
<circle cx="635.3" cy="289" r="2.2" fill="#f43c3f"/>
<circle cx="635.3" cy="289.7" r="2.2" fill="#f43c3f"/>
<text x="0.2" y="358.4" font-size="12.2" fill="#000" font-weight="bold" stroke="#000" stroke-width="0.4">h</text>
<text x="85.8" y="362.1" font-size="9.5" text-anchor="middle" textLength="55.5" lengthAdjust="spacingAndGlyphs" stroke="#231f20" stroke-width="0.15">CFB (4129-72)</text>
<text x="88.2" y="374.3" font-size="7.3" text-anchor="middle" fill="#3a3aff" textLength="28.4" lengthAdjust="spacingAndGlyphs" stroke="#3a3aff" stroke-width="0.15">4.69E-09</text>
<path d="M75.4 377H101.5" stroke="#b5b5b5" stroke-width="1" fill="none"/>
<path d="M75.4 375.3V378.7M101.5 375.3V378.7" stroke="#808080" stroke-width="0.9" fill="none"/>
<path d="M61.3 380.5V428.5M61.3 433.5V445.3M57 380.5H61.3M57 428.5H61.3M57 433.5H61.3M57 445.3H61.3M58.3 392.5H61.3M58.3 416.6H61.3M57 380.5H61.3M57 404.6H61.3M57 428.5H61.3M57 445.3H114.4M76.9 445.3V449.1M98.95 445.3V449.1" stroke="#6d6e71" stroke-width="0.8" fill="none"/>
<text x="54.2" y="383" font-size="7.5" text-anchor="end" textLength="14.51" lengthAdjust="spacingAndGlyphs" stroke-width="0">11.0</text>
<text x="54.2" y="407.1" font-size="7.5" text-anchor="end" textLength="14.51" lengthAdjust="spacingAndGlyphs" stroke-width="0">10.5</text>
<text x="54.2" y="431" font-size="7.5" text-anchor="end" textLength="14.51" lengthAdjust="spacingAndGlyphs" stroke-width="0">10.0</text>
<text x="54.2" y="447.8" font-size="7.5" text-anchor="end" textLength="4.14" lengthAdjust="spacingAndGlyphs" stroke-width="0">0</text>
<text x="83.2" y="461.2" font-size="9.5" text-anchor="end" textLength="33" lengthAdjust="spacingAndGlyphs" stroke="#231f20" stroke-width="0.15">Baseline</text>
<text x="89.35" y="461.2" font-size="9.5" textLength="34.2" lengthAdjust="spacingAndGlyphs" stroke="#231f20" stroke-width="0.15">CR (2 yr)</text>
<text x="22.3" y="412.2" font-size="9.4" text-anchor="middle" textLength="72.5" lengthAdjust="spacingAndGlyphs" transform="rotate(-90 22.3 412.2)" stroke="#231f20" stroke-width="0.15">ANML normalized</text>
<text x="32.3" y="412.2" font-size="9.4" text-anchor="middle" textLength="68" lengthAdjust="spacingAndGlyphs" transform="rotate(-90 32.3 412.2)" stroke="#231f20" stroke-width="0.15">expression (a.u.)</text>
<circle cx="98.95" cy="388.41" r="2.2" fill="#1596b4"/>
<circle cx="98.95" cy="389.69" r="2.2" fill="#1596b4"/>
<circle cx="98.95" cy="389.07" r="2.2" fill="#1596b4"/>
<circle cx="98.95" cy="391.02" r="2.2" fill="#1596b4"/>
<circle cx="98.95" cy="395.15" r="2.2" fill="#1596b4"/>
<circle cx="98.95" cy="392.63" r="2.2" fill="#1596b4"/>
<circle cx="98.95" cy="393.09" r="2.2" fill="#1596b4"/>
<circle cx="98.95" cy="390.34" r="2.2" fill="#1596b4"/>
<circle cx="98.95" cy="394.18" r="2.2" fill="#1596b4"/>
<circle cx="98.95" cy="391.16" r="2.2" fill="#1596b4"/>
<circle cx="98.95" cy="391.92" r="2.2" fill="#1596b4"/>
<circle cx="98.95" cy="395.98" r="2.2" fill="#1596b4"/>
<circle cx="98.95" cy="398.55" r="2.2" fill="#1596b4"/>
<circle cx="98.95" cy="393.82" r="2.2" fill="#1596b4"/>
<circle cx="98.95" cy="397.81" r="2.2" fill="#1596b4"/>
<circle cx="98.95" cy="398.98" r="2.2" fill="#1596b4"/>
<circle cx="98.95" cy="396.84" r="2.2" fill="#1596b4"/>
<circle cx="98.95" cy="395.58" r="2.2" fill="#1596b4"/>
<circle cx="98.95" cy="401.04" r="2.2" fill="#1596b4"/>
<circle cx="98.95" cy="400.52" r="2.2" fill="#1596b4"/>
<circle cx="98.95" cy="397.27" r="2.2" fill="#1596b4"/>
<circle cx="98.95" cy="399.61" r="2.2" fill="#1596b4"/>
<circle cx="98.95" cy="402.51" r="2.2" fill="#1596b4"/>
<circle cx="98.95" cy="401.31" r="2.2" fill="#1596b4"/>
<circle cx="98.95" cy="403.25" r="2.2" fill="#1596b4"/>
<circle cx="98.95" cy="405.03" r="2.2" fill="#1596b4"/>
<circle cx="98.95" cy="406.74" r="2.2" fill="#1596b4"/>
<circle cx="98.95" cy="402.27" r="2.2" fill="#1596b4"/>
<circle cx="98.95" cy="404.59" r="2.2" fill="#1596b4"/>
<circle cx="98.95" cy="405.67" r="2.2" fill="#1596b4"/>
<circle cx="98.95" cy="406.27" r="2.2" fill="#1596b4"/>
<circle cx="98.95" cy="407.75" r="2.2" fill="#1596b4"/>
<circle cx="98.95" cy="404.12" r="2.2" fill="#1596b4"/>
<circle cx="98.95" cy="407.9" r="2.2" fill="#1596b4"/>
<circle cx="98.95" cy="409.43" r="2.2" fill="#1596b4"/>
<circle cx="98.95" cy="410.98" r="2.2" fill="#1596b4"/>
<circle cx="98.95" cy="408.67" r="2.2" fill="#1596b4"/>
<circle cx="98.95" cy="409.86" r="2.2" fill="#1596b4"/>
<circle cx="98.95" cy="410.73" r="2.2" fill="#1596b4"/>
<circle cx="98.95" cy="419.6" r="2.2" fill="#1596b4"/>
<path d="M76.9 382.34L98.95 388.41M76.9 382.97L98.95 389.69M76.9 383.42L98.95 389.07M76.9 383.93L98.95 391.02M76.9 384.42L98.95 395.15M76.9 385.36L98.95 392.63M76.9 385.88L98.95 393.09M76.9 386.64L98.95 390.34M76.9 387.06L98.95 394.18M76.9 387.88L98.95 391.16M76.9 388.25L98.95 391.92M76.9 389.12L98.95 395.98M76.9 389.7L98.95 398.55M76.9 390.16L98.95 393.82M76.9 390.84L98.95 397.81M76.9 391.53L98.95 398.98M76.9 391.9L98.95 396.84M76.9 392.69L98.95 395.58M76.9 393.43L98.95 401.04M76.9 393.78L98.95 400.52M76.9 394.67L98.95 397.27M76.9 395.22L98.95 399.61M76.9 395.92L98.95 402.51M76.9 396.28L98.95 401.31M76.9 396.78L98.95 403.25M76.9 397.74L98.95 405.03M76.9 398.36L98.95 406.74M76.9 398.8L98.95 402.27M76.9 399.24L98.95 404.59M76.9 399.91L98.95 405.67M76.9 400.74L98.95 406.27M76.9 401.19L98.95 407.75M76.9 402.13L98.95 404.12M76.9 402.56L98.95 407.9M76.9 402.99L98.95 409.43M76.9 403.83L98.95 410.98M76.9 404.3L98.95 408.67M76.9 405.2L98.95 409.86M76.9 405.6L98.95 410.73M76.9 411.9L98.95 419.6" stroke="#000" stroke-width="1.05" fill="none" stroke-dasharray="2.2 3.3" stroke-dashoffset="0.5"/>
<circle cx="76.9" cy="382.34" r="2.2" fill="#f43c3f"/>
<circle cx="76.9" cy="382.97" r="2.2" fill="#f43c3f"/>
<circle cx="76.9" cy="383.42" r="2.2" fill="#f43c3f"/>
<circle cx="76.9" cy="383.93" r="2.2" fill="#f43c3f"/>
<circle cx="76.9" cy="384.42" r="2.2" fill="#f43c3f"/>
<circle cx="76.9" cy="385.36" r="2.2" fill="#f43c3f"/>
<circle cx="76.9" cy="385.88" r="2.2" fill="#f43c3f"/>
<circle cx="76.9" cy="386.64" r="2.2" fill="#f43c3f"/>
<circle cx="76.9" cy="387.06" r="2.2" fill="#f43c3f"/>
<circle cx="76.9" cy="387.88" r="2.2" fill="#f43c3f"/>
<circle cx="76.9" cy="388.25" r="2.2" fill="#f43c3f"/>
<circle cx="76.9" cy="389.12" r="2.2" fill="#f43c3f"/>
<circle cx="76.9" cy="389.7" r="2.2" fill="#f43c3f"/>
<circle cx="76.9" cy="390.16" r="2.2" fill="#f43c3f"/>
<circle cx="76.9" cy="390.84" r="2.2" fill="#f43c3f"/>
<circle cx="76.9" cy="391.53" r="2.2" fill="#f43c3f"/>
<circle cx="76.9" cy="391.9" r="2.2" fill="#f43c3f"/>
<circle cx="76.9" cy="392.69" r="2.2" fill="#f43c3f"/>
<circle cx="76.9" cy="393.43" r="2.2" fill="#f43c3f"/>
<circle cx="76.9" cy="393.78" r="2.2" fill="#f43c3f"/>
<circle cx="76.9" cy="394.67" r="2.2" fill="#f43c3f"/>
<circle cx="76.9" cy="395.22" r="2.2" fill="#f43c3f"/>
<circle cx="76.9" cy="395.92" r="2.2" fill="#f43c3f"/>
<circle cx="76.9" cy="396.28" r="2.2" fill="#f43c3f"/>
<circle cx="76.9" cy="396.78" r="2.2" fill="#f43c3f"/>
<circle cx="76.9" cy="397.74" r="2.2" fill="#f43c3f"/>
<circle cx="76.9" cy="398.36" r="2.2" fill="#f43c3f"/>
<circle cx="76.9" cy="398.8" r="2.2" fill="#f43c3f"/>
<circle cx="76.9" cy="399.24" r="2.2" fill="#f43c3f"/>
<circle cx="76.9" cy="399.91" r="2.2" fill="#f43c3f"/>
<circle cx="76.9" cy="400.74" r="2.2" fill="#f43c3f"/>
<circle cx="76.9" cy="401.19" r="2.2" fill="#f43c3f"/>
<circle cx="76.9" cy="402.13" r="2.2" fill="#f43c3f"/>
<circle cx="76.9" cy="402.56" r="2.2" fill="#f43c3f"/>
<circle cx="76.9" cy="402.99" r="2.2" fill="#f43c3f"/>
<circle cx="76.9" cy="403.83" r="2.2" fill="#f43c3f"/>
<circle cx="76.9" cy="404.3" r="2.2" fill="#f43c3f"/>
<circle cx="76.9" cy="405.2" r="2.2" fill="#f43c3f"/>
<circle cx="76.9" cy="405.6" r="2.2" fill="#f43c3f"/>
<circle cx="76.9" cy="411.9" r="2.2" fill="#f43c3f"/>
<text x="159.3" y="358.4" font-size="12.2" fill="#000" font-weight="bold" stroke="#000" stroke-width="0.4">i</text>
<text x="229.3" y="362.1" font-size="9.5" text-anchor="middle" textLength="58" lengthAdjust="spacingAndGlyphs" stroke="#231f20" stroke-width="0.15">CFD (2946-52)</text>
<text x="230.5" y="375.8" font-size="7.3" text-anchor="middle" fill="#3a3aff" textLength="18.3" lengthAdjust="spacingAndGlyphs" stroke="#3a3aff" stroke-width="0.15">0.003</text>
<path d="M217.4 379.2H243.3" stroke="#b5b5b5" stroke-width="1" fill="none"/>
<path d="M217.4 377.5V380.9M243.3 377.5V380.9" stroke="#808080" stroke-width="0.9" fill="none"/>
<path d="M203.1 379.2V427.5M203.1 432.5V445.3M198.8 379.2H203.1M198.8 427.5H203.1M198.8 432.5H203.1M198.8 445.3H203.1M200.1 391.3H203.1M200.1 415.5H203.1M198.8 379.2H203.1M198.8 403.4H203.1M198.8 427.5H203.1M198.8 445.3H256.6M218.8 445.3V449.1M240.9 445.3V449.1" stroke="#6d6e71" stroke-width="0.8" fill="none"/>
<text x="196" y="381.7" font-size="7.5" text-anchor="end" textLength="14.51" lengthAdjust="spacingAndGlyphs" stroke-width="0">11.5</text>
<text x="196" y="405.9" font-size="7.5" text-anchor="end" textLength="14.51" lengthAdjust="spacingAndGlyphs" stroke-width="0">11.0</text>
<text x="196" y="430" font-size="7.5" text-anchor="end" textLength="14.51" lengthAdjust="spacingAndGlyphs" stroke-width="0">10.5</text>
<text x="196" y="447.8" font-size="7.5" text-anchor="end" textLength="4.14" lengthAdjust="spacingAndGlyphs" stroke-width="0">0</text>
<text x="225.1" y="461.2" font-size="9.5" text-anchor="end" textLength="33" lengthAdjust="spacingAndGlyphs" stroke="#231f20" stroke-width="0.15">Baseline</text>
<text x="231.3" y="461.2" font-size="9.5" textLength="34.2" lengthAdjust="spacingAndGlyphs" stroke="#231f20" stroke-width="0.15">CR (2 yr)</text>
<text x="165.6" y="411.2" font-size="9.4" text-anchor="middle" textLength="72.5" lengthAdjust="spacingAndGlyphs" transform="rotate(-90 165.6 411.2)" stroke="#231f20" stroke-width="0.15">ANML normalized</text>
<text x="176.6" y="411.2" font-size="9.4" text-anchor="middle" textLength="68" lengthAdjust="spacingAndGlyphs" transform="rotate(-90 176.6 411.2)" stroke="#231f20" stroke-width="0.15">expression (a.u.)</text>
<circle cx="240.9" cy="388.35" r="2.2" fill="#1596b4"/>
<circle cx="240.9" cy="391.62" r="2.2" fill="#1596b4"/>
<circle cx="240.9" cy="390.88" r="2.2" fill="#1596b4"/>
<circle cx="240.9" cy="389.77" r="2.2" fill="#1596b4"/>
<circle cx="240.9" cy="393.13" r="2.2" fill="#1596b4"/>
<circle cx="240.9" cy="396.14" r="2.2" fill="#1596b4"/>
<circle cx="240.9" cy="389.07" r="2.2" fill="#1596b4"/>
<circle cx="240.9" cy="393.9" r="2.2" fill="#1596b4"/>
<circle cx="240.9" cy="394.92" r="2.2" fill="#1596b4"/>
<circle cx="240.9" cy="397.38" r="2.2" fill="#1596b4"/>
<circle cx="240.9" cy="401.05" r="2.2" fill="#1596b4"/>
<circle cx="240.9" cy="392.12" r="2.2" fill="#1596b4"/>
<circle cx="240.9" cy="405.28" r="2.2" fill="#1596b4"/>
<circle cx="240.9" cy="397.62" r="2.2" fill="#1596b4"/>
<circle cx="240.9" cy="405.72" r="2.2" fill="#1596b4"/>
<circle cx="240.9" cy="402.76" r="2.2" fill="#1596b4"/>
<circle cx="240.9" cy="401.56" r="2.2" fill="#1596b4"/>
<circle cx="240.9" cy="410.91" r="2.2" fill="#1596b4"/>
<circle cx="240.9" cy="406.76" r="2.2" fill="#1596b4"/>
<circle cx="240.9" cy="407.5" r="2.2" fill="#1596b4"/>
<circle cx="240.9" cy="395.62" r="2.2" fill="#1596b4"/>
<circle cx="240.9" cy="410.05" r="2.2" fill="#1596b4"/>
<circle cx="240.9" cy="399.63" r="2.2" fill="#1596b4"/>
<circle cx="240.9" cy="398.61" r="2.2" fill="#1596b4"/>
<circle cx="240.9" cy="400.04" r="2.2" fill="#1596b4"/>
<circle cx="240.9" cy="408.29" r="2.2" fill="#1596b4"/>
<circle cx="240.9" cy="417.73" r="2.2" fill="#1596b4"/>
<circle cx="240.9" cy="412.33" r="2.2" fill="#1596b4"/>
<circle cx="240.9" cy="411.41" r="2.2" fill="#1596b4"/>
<circle cx="240.9" cy="409" r="2.2" fill="#1596b4"/>
<circle cx="240.9" cy="403.62" r="2.2" fill="#1596b4"/>
<circle cx="240.9" cy="404.29" r="2.2" fill="#1596b4"/>
<circle cx="240.9" cy="412.74" r="2.2" fill="#1596b4"/>
<circle cx="240.9" cy="415.73" r="2.2" fill="#1596b4"/>
<circle cx="240.9" cy="414.71" r="2.2" fill="#1596b4"/>
<circle cx="240.9" cy="416.41" r="2.2" fill="#1596b4"/>
<circle cx="240.9" cy="416.87" r="2.2" fill="#1596b4"/>
<circle cx="240.9" cy="413.94" r="2.2" fill="#1596b4"/>
<circle cx="240.9" cy="418.6" r="2.2" fill="#1596b4"/>
<circle cx="240.9" cy="425.7" r="2.2" fill="#1596b4"/>
<path d="M218.8 387.4L240.9 388.35M218.8 387.8L240.9 391.62M218.8 388.59L240.9 390.88M218.8 388.89L240.9 389.77M218.8 389.66L240.9 393.13M218.8 390.14L240.9 396.14M218.8 390.56L240.9 389.07M218.8 391.33L240.9 393.9M218.8 391.68L240.9 394.92M218.8 392.41L240.9 397.38M218.8 392.81L240.9 401.05M218.8 393.38L240.9 392.12M218.8 394.09L240.9 405.28M218.8 394.83L240.9 397.62M218.8 395.08L240.9 405.72M218.8 395.68L240.9 402.76M218.8 396.43L240.9 401.56M218.8 397.13L240.9 410.91M218.8 397.52L240.9 406.76M218.8 398L240.9 407.5M218.8 398.82L240.9 395.62M218.8 398.97L240.9 410.05M218.8 399.89L240.9 399.63M218.8 400.2L240.9 398.61M218.8 400.69L240.9 400.04M218.8 401.24L240.9 408.29M218.8 401.89L240.9 417.73M218.8 402.68L240.9 412.33M218.8 402.95L240.9 411.41M218.8 403.69L240.9 409M218.8 404.28L240.9 403.62M218.8 404.72L240.9 404.29M218.8 405.36L240.9 412.74M218.8 405.7L240.9 415.73M218.8 406.26L240.9 414.71M218.8 406.89L240.9 416.41M218.8 407.66L240.9 416.87M218.8 408.11L240.9 413.94M218.8 408.62L240.9 418.6M218.8 414.7L240.9 425.7" stroke="#000" stroke-width="1.05" fill="none" stroke-dasharray="2.2 3.3" stroke-dashoffset="0.5"/>
<circle cx="218.8" cy="387.4" r="2.2" fill="#f43c3f"/>
<circle cx="218.8" cy="387.8" r="2.2" fill="#f43c3f"/>
<circle cx="218.8" cy="388.59" r="2.2" fill="#f43c3f"/>
<circle cx="218.8" cy="388.89" r="2.2" fill="#f43c3f"/>
<circle cx="218.8" cy="389.66" r="2.2" fill="#f43c3f"/>
<circle cx="218.8" cy="390.14" r="2.2" fill="#f43c3f"/>
<circle cx="218.8" cy="390.56" r="2.2" fill="#f43c3f"/>
<circle cx="218.8" cy="391.33" r="2.2" fill="#f43c3f"/>
<circle cx="218.8" cy="391.68" r="2.2" fill="#f43c3f"/>
<circle cx="218.8" cy="392.41" r="2.2" fill="#f43c3f"/>
<circle cx="218.8" cy="392.81" r="2.2" fill="#f43c3f"/>
<circle cx="218.8" cy="393.38" r="2.2" fill="#f43c3f"/>
<circle cx="218.8" cy="394.09" r="2.2" fill="#f43c3f"/>
<circle cx="218.8" cy="394.83" r="2.2" fill="#f43c3f"/>
<circle cx="218.8" cy="395.08" r="2.2" fill="#f43c3f"/>
<circle cx="218.8" cy="395.68" r="2.2" fill="#f43c3f"/>
<circle cx="218.8" cy="396.43" r="2.2" fill="#f43c3f"/>
<circle cx="218.8" cy="397.13" r="2.2" fill="#f43c3f"/>
<circle cx="218.8" cy="397.52" r="2.2" fill="#f43c3f"/>
<circle cx="218.8" cy="398" r="2.2" fill="#f43c3f"/>
<circle cx="218.8" cy="398.82" r="2.2" fill="#f43c3f"/>
<circle cx="218.8" cy="398.97" r="2.2" fill="#f43c3f"/>
<circle cx="218.8" cy="399.89" r="2.2" fill="#f43c3f"/>
<circle cx="218.8" cy="400.2" r="2.2" fill="#f43c3f"/>
<circle cx="218.8" cy="400.69" r="2.2" fill="#f43c3f"/>
<circle cx="218.8" cy="401.24" r="2.2" fill="#f43c3f"/>
<circle cx="218.8" cy="401.89" r="2.2" fill="#f43c3f"/>
<circle cx="218.8" cy="402.68" r="2.2" fill="#f43c3f"/>
<circle cx="218.8" cy="402.95" r="2.2" fill="#f43c3f"/>
<circle cx="218.8" cy="403.69" r="2.2" fill="#f43c3f"/>
<circle cx="218.8" cy="404.28" r="2.2" fill="#f43c3f"/>
<circle cx="218.8" cy="404.72" r="2.2" fill="#f43c3f"/>
<circle cx="218.8" cy="405.36" r="2.2" fill="#f43c3f"/>
<circle cx="218.8" cy="405.7" r="2.2" fill="#f43c3f"/>
<circle cx="218.8" cy="406.26" r="2.2" fill="#f43c3f"/>
<circle cx="218.8" cy="406.89" r="2.2" fill="#f43c3f"/>
<circle cx="218.8" cy="407.66" r="2.2" fill="#f43c3f"/>
<circle cx="218.8" cy="408.11" r="2.2" fill="#f43c3f"/>
<circle cx="218.8" cy="408.62" r="2.2" fill="#f43c3f"/>
<circle cx="218.8" cy="414.7" r="2.2" fill="#f43c3f"/>
<text x="301.4" y="358.4" font-size="12.2" fill="#000" font-weight="bold" stroke="#000" stroke-width="0.4">j</text>
<text x="366.5" y="362.1" font-size="9.5" text-anchor="middle" textLength="52" lengthAdjust="spacingAndGlyphs" stroke="#231f20" stroke-width="0.15">C3 (2754-50)</text>
<text x="368" y="373.8" font-size="7.3" text-anchor="middle" textLength="18.3" lengthAdjust="spacingAndGlyphs" stroke="#231f20" stroke-width="0.15">0.190</text>
<path d="M355.2 377.2H381.3" stroke="#b5b5b5" stroke-width="1" fill="none"/>
<path d="M355.2 375.5V378.9M381.3 375.5V378.9" stroke="#808080" stroke-width="0.9" fill="none"/>
<path d="M342.1 378.8V427.3M342.1 432.3V445.9M337.8 378.8H342.1M337.8 427.3H342.1M337.8 432.3H342.1M337.8 445.9H342.1M339.1 390.85H342.1M339.1 415.1H342.1M337.8 378.8H342.1M337.8 402.9H342.1M337.8 427.3H342.1M337.8 445.9H394.2M356 445.9V449.7M378.1 445.9V449.7" stroke="#6d6e71" stroke-width="0.8" fill="none"/>
<text x="335" y="381.3" font-size="7.5" text-anchor="end" textLength="8.29" lengthAdjust="spacingAndGlyphs" stroke-width="0">12</text>
<text x="335" y="405.4" font-size="7.5" text-anchor="end" textLength="8.29" lengthAdjust="spacingAndGlyphs" stroke-width="0">11</text>
<text x="335" y="429.8" font-size="7.5" text-anchor="end" textLength="8.29" lengthAdjust="spacingAndGlyphs" stroke-width="0">10</text>
<text x="335" y="448.4" font-size="7.5" text-anchor="end" textLength="4.14" lengthAdjust="spacingAndGlyphs" stroke-width="0">0</text>
<text x="362.3" y="461.8" font-size="9.5" text-anchor="end" textLength="33" lengthAdjust="spacingAndGlyphs" stroke="#231f20" stroke-width="0.15">Baseline</text>
<text x="368.5" y="461.8" font-size="9.5" textLength="34.2" lengthAdjust="spacingAndGlyphs" stroke="#231f20" stroke-width="0.15">CR (2 yr)</text>
<text x="307.6" y="411.2" font-size="9.4" text-anchor="middle" textLength="72.5" lengthAdjust="spacingAndGlyphs" transform="rotate(-90 307.6 411.2)" stroke="#231f20" stroke-width="0.15">ANML normalized</text>
<text x="318.6" y="411.2" font-size="9.4" text-anchor="middle" textLength="68" lengthAdjust="spacingAndGlyphs" transform="rotate(-90 318.6 411.2)" stroke="#231f20" stroke-width="0.15">expression (a.u.)</text>
<circle cx="378.1" cy="385.5" r="2.2" fill="#1596b4"/>
<circle cx="378.1" cy="386.81" r="2.2" fill="#1596b4"/>
<circle cx="378.1" cy="389.65" r="2.2" fill="#1596b4"/>
<circle cx="378.1" cy="391.17" r="2.2" fill="#1596b4"/>
<circle cx="378.1" cy="388.57" r="2.2" fill="#1596b4"/>
<circle cx="378.1" cy="397.23" r="2.2" fill="#1596b4"/>
<circle cx="378.1" cy="398.38" r="2.2" fill="#1596b4"/>
<circle cx="378.1" cy="399.26" r="2.2" fill="#1596b4"/>
<circle cx="378.1" cy="390.16" r="2.2" fill="#1596b4"/>
<circle cx="378.1" cy="392.54" r="2.2" fill="#1596b4"/>
<circle cx="378.1" cy="396.25" r="2.2" fill="#1596b4"/>
<circle cx="378.1" cy="392.93" r="2.2" fill="#1596b4"/>
<circle cx="378.1" cy="394.38" r="2.2" fill="#1596b4"/>
<circle cx="378.1" cy="406.72" r="2.2" fill="#1596b4"/>
<circle cx="378.1" cy="406.06" r="2.2" fill="#1596b4"/>
<circle cx="378.1" cy="387.49" r="2.2" fill="#1596b4"/>
<circle cx="378.1" cy="400.69" r="2.2" fill="#1596b4"/>
<circle cx="378.1" cy="394.83" r="2.2" fill="#1596b4"/>
<circle cx="378.1" cy="407.83" r="2.2" fill="#1596b4"/>
<circle cx="378.1" cy="413.4" r="2.2" fill="#1596b4"/>
<circle cx="378.1" cy="399.96" r="2.2" fill="#1596b4"/>
<circle cx="378.1" cy="402.88" r="2.2" fill="#1596b4"/>
<circle cx="378.1" cy="417.06" r="2.2" fill="#1596b4"/>
<circle cx="378.1" cy="408.42" r="2.2" fill="#1596b4"/>
<circle cx="378.1" cy="411.41" r="2.2" fill="#1596b4"/>
<circle cx="378.1" cy="415.65" r="2.2" fill="#1596b4"/>
<circle cx="378.1" cy="403.83" r="2.2" fill="#1596b4"/>
<circle cx="378.1" cy="401.62" r="2.2" fill="#1596b4"/>
<circle cx="378.1" cy="409.41" r="2.2" fill="#1596b4"/>
<circle cx="378.1" cy="421.91" r="2.2" fill="#1596b4"/>
<circle cx="378.1" cy="410.19" r="2.2" fill="#1596b4"/>
<circle cx="378.1" cy="404.45" r="2.2" fill="#1596b4"/>
<circle cx="378.1" cy="421.54" r="2.2" fill="#1596b4"/>
<circle cx="378.1" cy="414.33" r="2.2" fill="#1596b4"/>
<circle cx="378.1" cy="412.32" r="2.2" fill="#1596b4"/>
<circle cx="378.1" cy="418.99" r="2.2" fill="#1596b4"/>
<circle cx="378.1" cy="416.65" r="2.2" fill="#1596b4"/>
<circle cx="378.1" cy="418.2" r="2.2" fill="#1596b4"/>
<circle cx="378.1" cy="420.33" r="2.2" fill="#1596b4"/>
<circle cx="378.1" cy="423.1" r="2.2" fill="#1596b4"/>
<path d="M356 385.6L378.1 385.5M356 391.4L378.1 386.81M356 397L378.1 389.65M356 397.71L378.1 391.17M356 397.88L378.1 388.57M356 398.64L378.1 397.23M356 398.9L378.1 398.38M356 399.49L378.1 399.26M356 400.32L378.1 390.16M356 400.51L378.1 392.54M356 401.21L378.1 396.25M356 401.65L378.1 392.93M356 402.17L378.1 394.38M356 402.71L378.1 406.72M356 403.1L378.1 406.06M356 403.88L378.1 387.49M356 404.09L378.1 400.69M356 404.67L378.1 394.83M356 405.1L378.1 407.83M356 405.72L378.1 413.4M356 406.3L378.1 399.96M356 407.03L378.1 402.88M356 407.33L378.1 417.06M356 407.74L378.1 408.42M356 408.32L378.1 411.41M356 409.14L378.1 415.65M356 409.27L378.1 403.83M356 410.02L378.1 401.62M356 410.44L378.1 409.41M356 411.08L378.1 421.91M356 411.46L378.1 410.19M356 412.13L378.1 404.45M356 412.57L378.1 421.54M356 413.15L378.1 414.33M356 413.77L378.1 412.32M356 414.16L378.1 418.99M356 414.49L378.1 416.65M356 414.98L378.1 418.2M356 415.87L378.1 420.33M356 416.2L378.1 423.1" stroke="#000" stroke-width="1.05" fill="none" stroke-dasharray="2.2 3.3" stroke-dashoffset="0.5"/>
<circle cx="356" cy="385.6" r="2.2" fill="#f43c3f"/>
<circle cx="356" cy="391.4" r="2.2" fill="#f43c3f"/>
<circle cx="356" cy="397" r="2.2" fill="#f43c3f"/>
<circle cx="356" cy="397.71" r="2.2" fill="#f43c3f"/>
<circle cx="356" cy="397.88" r="2.2" fill="#f43c3f"/>
<circle cx="356" cy="398.64" r="2.2" fill="#f43c3f"/>
<circle cx="356" cy="398.9" r="2.2" fill="#f43c3f"/>
<circle cx="356" cy="399.49" r="2.2" fill="#f43c3f"/>
<circle cx="356" cy="400.32" r="2.2" fill="#f43c3f"/>
<circle cx="356" cy="400.51" r="2.2" fill="#f43c3f"/>
<circle cx="356" cy="401.21" r="2.2" fill="#f43c3f"/>
<circle cx="356" cy="401.65" r="2.2" fill="#f43c3f"/>
<circle cx="356" cy="402.17" r="2.2" fill="#f43c3f"/>
<circle cx="356" cy="402.71" r="2.2" fill="#f43c3f"/>
<circle cx="356" cy="403.1" r="2.2" fill="#f43c3f"/>
<circle cx="356" cy="403.88" r="2.2" fill="#f43c3f"/>
<circle cx="356" cy="404.09" r="2.2" fill="#f43c3f"/>
<circle cx="356" cy="404.67" r="2.2" fill="#f43c3f"/>
<circle cx="356" cy="405.1" r="2.2" fill="#f43c3f"/>
<circle cx="356" cy="405.72" r="2.2" fill="#f43c3f"/>
<circle cx="356" cy="406.3" r="2.2" fill="#f43c3f"/>
<circle cx="356" cy="407.03" r="2.2" fill="#f43c3f"/>
<circle cx="356" cy="407.33" r="2.2" fill="#f43c3f"/>
<circle cx="356" cy="407.74" r="2.2" fill="#f43c3f"/>
<circle cx="356" cy="408.32" r="2.2" fill="#f43c3f"/>
<circle cx="356" cy="409.14" r="2.2" fill="#f43c3f"/>
<circle cx="356" cy="409.27" r="2.2" fill="#f43c3f"/>
<circle cx="356" cy="410.02" r="2.2" fill="#f43c3f"/>
<circle cx="356" cy="410.44" r="2.2" fill="#f43c3f"/>
<circle cx="356" cy="411.08" r="2.2" fill="#f43c3f"/>
<circle cx="356" cy="411.46" r="2.2" fill="#f43c3f"/>
<circle cx="356" cy="412.13" r="2.2" fill="#f43c3f"/>
<circle cx="356" cy="412.57" r="2.2" fill="#f43c3f"/>
<circle cx="356" cy="413.15" r="2.2" fill="#f43c3f"/>
<circle cx="356" cy="413.77" r="2.2" fill="#f43c3f"/>
<circle cx="356" cy="414.16" r="2.2" fill="#f43c3f"/>
<circle cx="356" cy="414.49" r="2.2" fill="#f43c3f"/>
<circle cx="356" cy="414.98" r="2.2" fill="#f43c3f"/>
<circle cx="356" cy="415.87" r="2.2" fill="#f43c3f"/>
<circle cx="356" cy="416.2" r="2.2" fill="#f43c3f"/>
<text x="436.8" y="358.4" font-size="12.2" fill="#000" font-weight="bold" stroke="#000" stroke-width="0.4">k</text>
<text x="510.7" y="362.1" font-size="9.5" text-anchor="middle" textLength="54" lengthAdjust="spacingAndGlyphs" stroke="#231f20" stroke-width="0.15">C3a (4900-8)</text>
<text x="511" y="371.7" font-size="7.3" text-anchor="middle" fill="#3a3aff" textLength="18.3" lengthAdjust="spacingAndGlyphs" stroke="#3a3aff" stroke-width="0.15">0.022</text>
<path d="M497.5 375.2H523.9" stroke="#b5b5b5" stroke-width="1" fill="none"/>
<path d="M497.5 373.5V376.9M523.9 373.5V376.9" stroke="#808080" stroke-width="0.9" fill="none"/>
<path d="M484.6 378.2V426.9M484.6 431.9V445.3M480.3 378.2H484.6M480.3 426.9H484.6M480.3 431.9H484.6M480.3 445.3H484.6M481.6 386.4H484.6M481.6 402.55H484.6M481.6 418.7H484.6M480.3 378.2H484.6M480.3 394.6H484.6M480.3 410.5H484.6M480.3 426.9H484.6M480.3 445.3H537.2M499.4 445.3V449.1M521.4 445.3V449.1" stroke="#6d6e71" stroke-width="0.8" fill="none"/>
<text x="477.5" y="380.7" font-size="7.5" text-anchor="end" textLength="14.51" lengthAdjust="spacingAndGlyphs" stroke-width="0">13.0</text>
<text x="477.5" y="397.1" font-size="7.5" text-anchor="end" textLength="14.51" lengthAdjust="spacingAndGlyphs" stroke-width="0">12.5</text>
<text x="477.5" y="413" font-size="7.5" text-anchor="end" textLength="14.51" lengthAdjust="spacingAndGlyphs" stroke-width="0">12.0</text>
<text x="477.5" y="429.4" font-size="7.5" text-anchor="end" textLength="14.51" lengthAdjust="spacingAndGlyphs" stroke-width="0">11.5</text>
<text x="477.5" y="447.8" font-size="7.5" text-anchor="end" textLength="4.14" lengthAdjust="spacingAndGlyphs" stroke-width="0">0</text>
<text x="505.7" y="461.2" font-size="9.5" text-anchor="end" textLength="33" lengthAdjust="spacingAndGlyphs" stroke="#231f20" stroke-width="0.15">Baseline</text>
<text x="511.8" y="461.2" font-size="9.5" textLength="34.2" lengthAdjust="spacingAndGlyphs" stroke="#231f20" stroke-width="0.15">CR (2 yr)</text>
<text x="442.6" y="410.7" font-size="9.4" text-anchor="middle" textLength="72.5" lengthAdjust="spacingAndGlyphs" transform="rotate(-90 442.6 410.7)" stroke="#231f20" stroke-width="0.15">ANML normalized</text>
<text x="453.6" y="410.7" font-size="9.4" text-anchor="middle" textLength="68" lengthAdjust="spacingAndGlyphs" transform="rotate(-90 453.6 410.7)" stroke="#231f20" stroke-width="0.15">expression (a.u.)</text>
<circle cx="521.4" cy="383.5" r="2.2" fill="#1596b4"/>
<circle cx="521.4" cy="390.39" r="2.2" fill="#1596b4"/>
<circle cx="521.4" cy="394.77" r="2.2" fill="#1596b4"/>
<circle cx="521.4" cy="390.6" r="2.2" fill="#1596b4"/>
<circle cx="521.4" cy="388.77" r="2.2" fill="#1596b4"/>
<circle cx="521.4" cy="388.4" r="2.2" fill="#1596b4"/>
<circle cx="521.4" cy="393.37" r="2.2" fill="#1596b4"/>
<circle cx="521.4" cy="392.62" r="2.2" fill="#1596b4"/>
<circle cx="521.4" cy="399.1" r="2.2" fill="#1596b4"/>
<circle cx="521.4" cy="397.36" r="2.2" fill="#1596b4"/>
<circle cx="521.4" cy="395.93" r="2.2" fill="#1596b4"/>
<circle cx="521.4" cy="391.8" r="2.2" fill="#1596b4"/>
<circle cx="521.4" cy="401.38" r="2.2" fill="#1596b4"/>
<circle cx="521.4" cy="400.15" r="2.2" fill="#1596b4"/>
<circle cx="521.4" cy="389.56" r="2.2" fill="#1596b4"/>
<circle cx="521.4" cy="394.14" r="2.2" fill="#1596b4"/>
<circle cx="521.4" cy="398.52" r="2.2" fill="#1596b4"/>
<circle cx="521.4" cy="396.56" r="2.2" fill="#1596b4"/>
<circle cx="521.4" cy="398.16" r="2.2" fill="#1596b4"/>
<circle cx="521.4" cy="391.43" r="2.2" fill="#1596b4"/>
<circle cx="521.4" cy="404.58" r="2.2" fill="#1596b4"/>
<circle cx="521.4" cy="395.59" r="2.2" fill="#1596b4"/>
<circle cx="521.4" cy="406.56" r="2.2" fill="#1596b4"/>
<circle cx="521.4" cy="393.63" r="2.2" fill="#1596b4"/>
<circle cx="521.4" cy="399.81" r="2.2" fill="#1596b4"/>
<circle cx="521.4" cy="403.12" r="2.2" fill="#1596b4"/>
<circle cx="521.4" cy="405.61" r="2.2" fill="#1596b4"/>
<circle cx="521.4" cy="410.28" r="2.2" fill="#1596b4"/>
<circle cx="521.4" cy="400.98" r="2.2" fill="#1596b4"/>
<circle cx="521.4" cy="407.33" r="2.2" fill="#1596b4"/>
<circle cx="521.4" cy="408.21" r="2.2" fill="#1596b4"/>
<circle cx="521.4" cy="402.19" r="2.2" fill="#1596b4"/>
<circle cx="521.4" cy="409.18" r="2.2" fill="#1596b4"/>
<circle cx="521.4" cy="403.96" r="2.2" fill="#1596b4"/>
<circle cx="521.4" cy="402.95" r="2.2" fill="#1596b4"/>
<circle cx="521.4" cy="404.96" r="2.2" fill="#1596b4"/>
<circle cx="521.4" cy="409.96" r="2.2" fill="#1596b4"/>
<circle cx="521.4" cy="407.15" r="2.2" fill="#1596b4"/>
<circle cx="521.4" cy="408.92" r="2.2" fill="#1596b4"/>
<circle cx="521.4" cy="416.8" r="2.2" fill="#1596b4"/>
<path d="M499.4 386L521.4 383.5M499.4 386.5L521.4 390.39M499.4 386.96L521.4 394.77M499.4 387.85L521.4 390.6M499.4 388.02L521.4 388.77M499.4 388.8L521.4 388.4M499.4 389.54L521.4 393.37M499.4 389.74L521.4 392.62M499.4 390.51L521.4 399.1M499.4 391.1L521.4 397.36M499.4 391.4L521.4 395.93M499.4 392.11L521.4 391.8M499.4 392.82L521.4 401.38M499.4 393.27L521.4 400.15M499.4 393.95L521.4 389.56M499.4 394.25L521.4 394.14M499.4 394.85L521.4 398.52M499.4 395.35L521.4 396.56M499.4 396.09L521.4 398.16M499.4 396.84L521.4 391.43M499.4 397.25L521.4 404.58M499.4 397.89L521.4 395.59M499.4 398.28L521.4 406.56M499.4 399L521.4 393.63M499.4 399.27L521.4 399.81M499.4 399.92L521.4 403.12M499.4 400.65L521.4 405.61M499.4 401.24L521.4 410.28M499.4 401.66L521.4 400.98M499.4 402.07L521.4 407.33M499.4 402.71L521.4 408.21M499.4 403.25L521.4 402.19M499.4 403.84L521.4 409.18M499.4 404.64L521.4 403.96M499.4 404.92L521.4 402.95M499.4 405.79L521.4 404.96M499.4 406.35L521.4 409.96M499.4 406.54L521.4 407.15M499.4 407.25L521.4 408.92M499.4 412.7L521.4 416.8" stroke="#000" stroke-width="1.05" fill="none" stroke-dasharray="2.2 3.3" stroke-dashoffset="0.5"/>
<circle cx="499.4" cy="386" r="2.2" fill="#f43c3f"/>
<circle cx="499.4" cy="386.5" r="2.2" fill="#f43c3f"/>
<circle cx="499.4" cy="386.96" r="2.2" fill="#f43c3f"/>
<circle cx="499.4" cy="387.85" r="2.2" fill="#f43c3f"/>
<circle cx="499.4" cy="388.02" r="2.2" fill="#f43c3f"/>
<circle cx="499.4" cy="388.8" r="2.2" fill="#f43c3f"/>
<circle cx="499.4" cy="389.54" r="2.2" fill="#f43c3f"/>
<circle cx="499.4" cy="389.74" r="2.2" fill="#f43c3f"/>
<circle cx="499.4" cy="390.51" r="2.2" fill="#f43c3f"/>
<circle cx="499.4" cy="391.1" r="2.2" fill="#f43c3f"/>
<circle cx="499.4" cy="391.4" r="2.2" fill="#f43c3f"/>
<circle cx="499.4" cy="392.11" r="2.2" fill="#f43c3f"/>
<circle cx="499.4" cy="392.82" r="2.2" fill="#f43c3f"/>
<circle cx="499.4" cy="393.27" r="2.2" fill="#f43c3f"/>
<circle cx="499.4" cy="393.95" r="2.2" fill="#f43c3f"/>
<circle cx="499.4" cy="394.25" r="2.2" fill="#f43c3f"/>
<circle cx="499.4" cy="394.85" r="2.2" fill="#f43c3f"/>
<circle cx="499.4" cy="395.35" r="2.2" fill="#f43c3f"/>
<circle cx="499.4" cy="396.09" r="2.2" fill="#f43c3f"/>
<circle cx="499.4" cy="396.84" r="2.2" fill="#f43c3f"/>
<circle cx="499.4" cy="397.25" r="2.2" fill="#f43c3f"/>
<circle cx="499.4" cy="397.89" r="2.2" fill="#f43c3f"/>
<circle cx="499.4" cy="398.28" r="2.2" fill="#f43c3f"/>
<circle cx="499.4" cy="399" r="2.2" fill="#f43c3f"/>
<circle cx="499.4" cy="399.27" r="2.2" fill="#f43c3f"/>
<circle cx="499.4" cy="399.92" r="2.2" fill="#f43c3f"/>
<circle cx="499.4" cy="400.65" r="2.2" fill="#f43c3f"/>
<circle cx="499.4" cy="401.24" r="2.2" fill="#f43c3f"/>
<circle cx="499.4" cy="401.66" r="2.2" fill="#f43c3f"/>
<circle cx="499.4" cy="402.07" r="2.2" fill="#f43c3f"/>
<circle cx="499.4" cy="402.71" r="2.2" fill="#f43c3f"/>
<circle cx="499.4" cy="403.25" r="2.2" fill="#f43c3f"/>
<circle cx="499.4" cy="403.84" r="2.2" fill="#f43c3f"/>
<circle cx="499.4" cy="404.64" r="2.2" fill="#f43c3f"/>
<circle cx="499.4" cy="404.92" r="2.2" fill="#f43c3f"/>
<circle cx="499.4" cy="405.79" r="2.2" fill="#f43c3f"/>
<circle cx="499.4" cy="406.35" r="2.2" fill="#f43c3f"/>
<circle cx="499.4" cy="406.54" r="2.2" fill="#f43c3f"/>
<circle cx="499.4" cy="407.25" r="2.2" fill="#f43c3f"/>
<circle cx="499.4" cy="412.7" r="2.2" fill="#f43c3f"/>
<text x="573.8" y="358.4" font-size="12.2" fill="#000" font-weight="bold" stroke="#000" stroke-width="0.4">l</text>
<text x="645.8" y="352.3" font-size="9.5" text-anchor="middle" textLength="45" lengthAdjust="spacingAndGlyphs" stroke="#231f20" stroke-width="0.15">C3adesArg</text>
<text x="645.6" y="362.1" font-size="9.5" text-anchor="middle" textLength="34" lengthAdjust="spacingAndGlyphs" stroke="#231f20" stroke-width="0.15">(2755-8)</text>
<text x="647.2" y="376.8" font-size="7.3" text-anchor="middle" fill="#3a3aff" textLength="18.3" lengthAdjust="spacingAndGlyphs" stroke="#3a3aff" stroke-width="0.15">0.037</text>
<path d="M634.3 379.9H660.5" stroke="#b5b5b5" stroke-width="1" fill="none"/>
<path d="M634.3 378.2V381.6M660.5 378.2V381.6" stroke="#808080" stroke-width="0.9" fill="none"/>
<path d="M620.6 376.8V425.4M620.6 430.4V445.3M616.3 376.8H620.6M616.3 425.4H620.6M616.3 430.4H620.6M616.3 445.3H620.6M617.6 384.95H620.6M617.6 401.1H620.6M617.6 417.25H620.6M616.3 376.8H620.6M616.3 393.1H620.6M616.3 409.1H620.6M616.3 425.4H620.6M616.3 445.3H672.7M634.9 445.3V449.1M656.8 445.3V449.1" stroke="#6d6e71" stroke-width="0.8" fill="none"/>
<text x="613.5" y="379.3" font-size="7.5" text-anchor="end" textLength="14.51" lengthAdjust="spacingAndGlyphs" stroke-width="0">12.7</text>
<text x="613.5" y="395.6" font-size="7.5" text-anchor="end" textLength="14.51" lengthAdjust="spacingAndGlyphs" stroke-width="0">12.2</text>
<text x="613.5" y="411.6" font-size="7.5" text-anchor="end" textLength="14.51" lengthAdjust="spacingAndGlyphs" stroke-width="0">11.7</text>
<text x="613.5" y="427.9" font-size="7.5" text-anchor="end" textLength="14.51" lengthAdjust="spacingAndGlyphs" stroke-width="0">11.2</text>
<text x="613.5" y="447.8" font-size="7.5" text-anchor="end" textLength="4.14" lengthAdjust="spacingAndGlyphs" stroke-width="0">0</text>
<text x="641.2" y="461.2" font-size="9.5" text-anchor="end" textLength="33" lengthAdjust="spacingAndGlyphs" stroke="#231f20" stroke-width="0.15">Baseline</text>
<text x="647.2" y="461.2" font-size="9.5" textLength="34.2" lengthAdjust="spacingAndGlyphs" stroke="#231f20" stroke-width="0.15">CR (2 yr)</text>
<text x="579.6" y="410.2" font-size="9.4" text-anchor="middle" textLength="72.5" lengthAdjust="spacingAndGlyphs" transform="rotate(-90 579.6 410.2)" stroke="#231f20" stroke-width="0.15">ANML normalized</text>
<text x="590.6" y="410.2" font-size="9.4" text-anchor="middle" textLength="68" lengthAdjust="spacingAndGlyphs" transform="rotate(-90 590.6 410.2)" stroke="#231f20" stroke-width="0.15">expression (a.u.)</text>
<circle cx="656.8" cy="385.8" r="2.2" fill="#1596b4"/>
<circle cx="656.8" cy="393.64" r="2.2" fill="#1596b4"/>
<circle cx="656.8" cy="400.51" r="2.2" fill="#1596b4"/>
<circle cx="656.8" cy="397.47" r="2.2" fill="#1596b4"/>
<circle cx="656.8" cy="394.42" r="2.2" fill="#1596b4"/>
<circle cx="656.8" cy="395.39" r="2.2" fill="#1596b4"/>
<circle cx="656.8" cy="394.71" r="2.2" fill="#1596b4"/>
<circle cx="656.8" cy="398.28" r="2.2" fill="#1596b4"/>
<circle cx="656.8" cy="399.42" r="2.2" fill="#1596b4"/>
<circle cx="656.8" cy="406.01" r="2.2" fill="#1596b4"/>
<circle cx="656.8" cy="396.58" r="2.2" fill="#1596b4"/>
<circle cx="656.8" cy="408.3" r="2.2" fill="#1596b4"/>
<circle cx="656.8" cy="408.96" r="2.2" fill="#1596b4"/>
<circle cx="656.8" cy="402.68" r="2.2" fill="#1596b4"/>
<circle cx="656.8" cy="401.37" r="2.2" fill="#1596b4"/>
<circle cx="656.8" cy="401.92" r="2.2" fill="#1596b4"/>
<circle cx="656.8" cy="403.07" r="2.2" fill="#1596b4"/>
<circle cx="656.8" cy="400.23" r="2.2" fill="#1596b4"/>
<circle cx="656.8" cy="410.2" r="2.2" fill="#1596b4"/>
<circle cx="656.8" cy="396.13" r="2.2" fill="#1596b4"/>
<circle cx="656.8" cy="410.81" r="2.2" fill="#1596b4"/>
<circle cx="656.8" cy="411.63" r="2.2" fill="#1596b4"/>
<circle cx="656.8" cy="405.03" r="2.2" fill="#1596b4"/>
<circle cx="656.8" cy="404.35" r="2.2" fill="#1596b4"/>
<circle cx="656.8" cy="406.73" r="2.2" fill="#1596b4"/>
<circle cx="656.8" cy="404.06" r="2.2" fill="#1596b4"/>
<circle cx="656.8" cy="398.84" r="2.2" fill="#1596b4"/>
<circle cx="656.8" cy="407.74" r="2.2" fill="#1596b4"/>
<circle cx="656.8" cy="409.78" r="2.2" fill="#1596b4"/>
<circle cx="656.8" cy="412.12" r="2.2" fill="#1596b4"/>
<circle cx="656.8" cy="413.75" r="2.2" fill="#1596b4"/>
<circle cx="656.8" cy="414.37" r="2.2" fill="#1596b4"/>
<circle cx="656.8" cy="414.87" r="2.2" fill="#1596b4"/>
<circle cx="656.8" cy="416.13" r="2.2" fill="#1596b4"/>
<circle cx="656.8" cy="415.44" r="2.2" fill="#1596b4"/>
<circle cx="656.8" cy="407.11" r="2.2" fill="#1596b4"/>
<circle cx="656.8" cy="416.56" r="2.2" fill="#1596b4"/>
<circle cx="656.8" cy="417.56" r="2.2" fill="#1596b4"/>
<circle cx="656.8" cy="413.02" r="2.2" fill="#1596b4"/>
<circle cx="656.8" cy="418.01" r="2.2" fill="#1596b4"/>
<path d="M634.9 388.62L656.8 385.8M634.9 388.97L656.8 393.64M634.9 389.4L656.8 400.51M634.9 389.68L656.8 397.47M634.9 390.25L656.8 394.42M634.9 390.65L656.8 395.39M634.9 390.98L656.8 394.71M634.9 391.22L656.8 398.28M634.9 391.72L656.8 399.42M634.9 392.05L656.8 406.01M634.9 392.41L656.8 396.58M634.9 393.02L656.8 408.3M634.9 393.42L656.8 408.96M634.9 393.52L656.8 402.68M634.9 394.16L656.8 401.37M634.9 394.47L656.8 401.92M634.9 394.79L656.8 403.07M634.9 395.15L656.8 400.23M634.9 395.66L656.8 410.2M634.9 395.98L656.8 396.13M634.9 396.44L656.8 410.81M634.9 396.82L656.8 411.63M634.9 397.05L656.8 405.03M634.9 397.63L656.8 404.35M634.9 398.09L656.8 406.73M634.9 398.48L656.8 404.06M634.9 398.75L656.8 398.84M634.9 398.97L656.8 407.74M634.9 399.34L656.8 409.78M634.9 399.77L656.8 412.12M634.9 400.41L656.8 413.75M634.9 400.6L656.8 414.37M634.9 401.01L656.8 414.87M634.9 401.57L656.8 416.13M634.9 401.77L656.8 415.44M634.9 402.24L656.8 407.11M634.9 402.59L656.8 416.56M634.9 402.86L656.8 417.56M634.9 407.4L656.8 413.02M634.9 413L656.8 418.01" stroke="#000" stroke-width="1.05" fill="none" stroke-dasharray="2.2 3.3" stroke-dashoffset="0.5"/>
<circle cx="634.9" cy="388.62" r="2.2" fill="#f43c3f"/>
<circle cx="634.9" cy="388.97" r="2.2" fill="#f43c3f"/>
<circle cx="634.9" cy="389.4" r="2.2" fill="#f43c3f"/>
<circle cx="634.9" cy="389.68" r="2.2" fill="#f43c3f"/>
<circle cx="634.9" cy="390.25" r="2.2" fill="#f43c3f"/>
<circle cx="634.9" cy="390.65" r="2.2" fill="#f43c3f"/>
<circle cx="634.9" cy="390.98" r="2.2" fill="#f43c3f"/>
<circle cx="634.9" cy="391.22" r="2.2" fill="#f43c3f"/>
<circle cx="634.9" cy="391.72" r="2.2" fill="#f43c3f"/>
<circle cx="634.9" cy="392.05" r="2.2" fill="#f43c3f"/>
<circle cx="634.9" cy="392.41" r="2.2" fill="#f43c3f"/>
<circle cx="634.9" cy="393.02" r="2.2" fill="#f43c3f"/>
<circle cx="634.9" cy="393.42" r="2.2" fill="#f43c3f"/>
<circle cx="634.9" cy="393.52" r="2.2" fill="#f43c3f"/>
<circle cx="634.9" cy="394.16" r="2.2" fill="#f43c3f"/>
<circle cx="634.9" cy="394.47" r="2.2" fill="#f43c3f"/>
<circle cx="634.9" cy="394.79" r="2.2" fill="#f43c3f"/>
<circle cx="634.9" cy="395.15" r="2.2" fill="#f43c3f"/>
<circle cx="634.9" cy="395.66" r="2.2" fill="#f43c3f"/>
<circle cx="634.9" cy="395.98" r="2.2" fill="#f43c3f"/>
<circle cx="634.9" cy="396.44" r="2.2" fill="#f43c3f"/>
<circle cx="634.9" cy="396.82" r="2.2" fill="#f43c3f"/>
<circle cx="634.9" cy="397.05" r="2.2" fill="#f43c3f"/>
<circle cx="634.9" cy="397.63" r="2.2" fill="#f43c3f"/>
<circle cx="634.9" cy="398.09" r="2.2" fill="#f43c3f"/>
<circle cx="634.9" cy="398.48" r="2.2" fill="#f43c3f"/>
<circle cx="634.9" cy="398.75" r="2.2" fill="#f43c3f"/>
<circle cx="634.9" cy="398.97" r="2.2" fill="#f43c3f"/>
<circle cx="634.9" cy="399.34" r="2.2" fill="#f43c3f"/>
<circle cx="634.9" cy="399.77" r="2.2" fill="#f43c3f"/>
<circle cx="634.9" cy="400.41" r="2.2" fill="#f43c3f"/>
<circle cx="634.9" cy="400.6" r="2.2" fill="#f43c3f"/>
<circle cx="634.9" cy="401.01" r="2.2" fill="#f43c3f"/>
<circle cx="634.9" cy="401.57" r="2.2" fill="#f43c3f"/>
<circle cx="634.9" cy="401.77" r="2.2" fill="#f43c3f"/>
<circle cx="634.9" cy="402.24" r="2.2" fill="#f43c3f"/>
<circle cx="634.9" cy="402.59" r="2.2" fill="#f43c3f"/>
<circle cx="634.9" cy="402.86" r="2.2" fill="#f43c3f"/>
<circle cx="634.9" cy="407.4" r="2.2" fill="#f43c3f"/>
<circle cx="634.9" cy="413" r="2.2" fill="#f43c3f"/>
<text x="0.2" y="479.8" font-size="12.2" fill="#000" font-weight="bold" stroke="#000" stroke-width="0.4">m</text>
<text x="87.1" y="485.5" font-size="9.5" text-anchor="middle" textLength="59" lengthAdjust="spacingAndGlyphs" stroke="#231f20" stroke-width="0.15">C3b (4480-59)</text>
<text x="87.4" y="502.2" font-size="7.3" text-anchor="middle" textLength="18.3" lengthAdjust="spacingAndGlyphs" stroke="#231f20" stroke-width="0.15">0.190</text>
<path d="M74.6 504.4H100.6" stroke="#b5b5b5" stroke-width="1" fill="none"/>
<path d="M74.6 502.7V506.1M100.6 502.7V506.1" stroke="#808080" stroke-width="0.9" fill="none"/>
<path d="M61.3 504.4V553.3M61.3 558.3V570.7M57 504.4H61.3M57 553.3H61.3M57 558.3H61.3M57 570.7H61.3M58.3 516.6H61.3M58.3 541H61.3M57 504.4H61.3M57 528.8H61.3M57 553.3H61.3M57 570.7H113.4M76.2 570.7V574.5M98.1 570.7V574.5" stroke="#6d6e71" stroke-width="0.8" fill="none"/>
<text x="54.2" y="506.9" font-size="7.5" text-anchor="end" textLength="8.29" lengthAdjust="spacingAndGlyphs" stroke-width="0">13</text>
<text x="54.2" y="531.3" font-size="7.5" text-anchor="end" textLength="4.14" lengthAdjust="spacingAndGlyphs" stroke-width="0">9</text>
<text x="54.2" y="555.8" font-size="7.5" text-anchor="end" textLength="4.14" lengthAdjust="spacingAndGlyphs" stroke-width="0">5</text>
<text x="54.2" y="573.2" font-size="7.5" text-anchor="end" textLength="4.14" lengthAdjust="spacingAndGlyphs" stroke-width="0">0</text>
<text x="82.5" y="586.6" font-size="9.5" text-anchor="end" textLength="33" lengthAdjust="spacingAndGlyphs" stroke="#231f20" stroke-width="0.15">Baseline</text>
<text x="88.5" y="586.6" font-size="9.5" textLength="34.2" lengthAdjust="spacingAndGlyphs" stroke="#231f20" stroke-width="0.15">CR (2 yr)</text>
<text x="26.4" y="536.7" font-size="9.4" text-anchor="middle" textLength="72.5" lengthAdjust="spacingAndGlyphs" transform="rotate(-90 26.4 536.7)" stroke="#231f20" stroke-width="0.15">ANML normalized</text>
<text x="36.4" y="536.7" font-size="9.4" text-anchor="middle" textLength="68" lengthAdjust="spacingAndGlyphs" transform="rotate(-90 36.4 536.7)" stroke="#231f20" stroke-width="0.15">expression (a.u.)</text>
<circle cx="98.1" cy="511.8" r="2.2" fill="#1596b4"/>
<circle cx="98.1" cy="519.55" r="2.2" fill="#1596b4"/>
<circle cx="98.1" cy="521.05" r="2.2" fill="#1596b4"/>
<circle cx="98.1" cy="523.66" r="2.2" fill="#1596b4"/>
<circle cx="98.1" cy="521.49" r="2.2" fill="#1596b4"/>
<circle cx="98.1" cy="518.89" r="2.2" fill="#1596b4"/>
<circle cx="98.1" cy="518.4" r="2.2" fill="#1596b4"/>
<circle cx="98.1" cy="524.44" r="2.2" fill="#1596b4"/>
<circle cx="98.1" cy="520.07" r="2.2" fill="#1596b4"/>
<circle cx="98.1" cy="525.17" r="2.2" fill="#1596b4"/>
<circle cx="98.1" cy="522.75" r="2.2" fill="#1596b4"/>
<circle cx="98.1" cy="527.78" r="2.2" fill="#1596b4"/>
<circle cx="98.1" cy="522.35" r="2.2" fill="#1596b4"/>
<circle cx="98.1" cy="526.56" r="2.2" fill="#1596b4"/>
<circle cx="98.1" cy="528.25" r="2.2" fill="#1596b4"/>
<circle cx="98.1" cy="527.45" r="2.2" fill="#1596b4"/>
<circle cx="98.1" cy="524.24" r="2.2" fill="#1596b4"/>
<circle cx="98.1" cy="529.86" r="2.2" fill="#1596b4"/>
<circle cx="98.1" cy="526.15" r="2.2" fill="#1596b4"/>
<circle cx="98.1" cy="529.16" r="2.2" fill="#1596b4"/>
<circle cx="98.1" cy="530.77" r="2.2" fill="#1596b4"/>
<circle cx="98.1" cy="530.23" r="2.2" fill="#1596b4"/>
<circle cx="98.1" cy="531.52" r="2.2" fill="#1596b4"/>
<circle cx="98.1" cy="534.55" r="2.2" fill="#1596b4"/>
<circle cx="98.1" cy="533" r="2.2" fill="#1596b4"/>
<circle cx="98.1" cy="535.16" r="2.2" fill="#1596b4"/>
<circle cx="98.1" cy="533.3" r="2.2" fill="#1596b4"/>
<circle cx="98.1" cy="537.3" r="2.2" fill="#1596b4"/>
<circle cx="98.1" cy="537.87" r="2.2" fill="#1596b4"/>
<circle cx="98.1" cy="532.47" r="2.2" fill="#1596b4"/>
<circle cx="98.1" cy="534" r="2.2" fill="#1596b4"/>
<circle cx="98.1" cy="539.6" r="2.2" fill="#1596b4"/>
<circle cx="98.1" cy="536.48" r="2.2" fill="#1596b4"/>
<circle cx="98.1" cy="536.16" r="2.2" fill="#1596b4"/>
<circle cx="98.1" cy="538.37" r="2.2" fill="#1596b4"/>
<circle cx="98.1" cy="540.85" r="2.2" fill="#1596b4"/>
<circle cx="98.1" cy="541.63" r="2.2" fill="#1596b4"/>
<circle cx="98.1" cy="539.27" r="2.2" fill="#1596b4"/>
<circle cx="98.1" cy="540.49" r="2.2" fill="#1596b4"/>
<circle cx="98.1" cy="542.16" r="2.2" fill="#1596b4"/>
<path d="M76.2 516.4L98.1 511.8M76.2 517.05L98.1 519.55M76.2 517.85L98.1 521.05M76.2 518.24L98.1 523.66M76.2 518.89L98.1 521.49M76.2 519.55L98.1 518.89M76.2 519.97L98.1 518.4M76.2 520.75L98.1 524.44M76.2 521.43L98.1 520.07M76.2 522.13L98.1 525.17M76.2 522.4L98.1 522.75M76.2 523.13L98.1 527.78M76.2 523.64L98.1 522.35M76.2 524.62L98.1 526.56M76.2 525.18L98.1 528.25M76.2 525.48L98.1 527.45M76.2 526.57L98.1 524.24M76.2 527.18L98.1 529.86M76.2 527.65L98.1 526.15M76.2 528.25L98.1 529.16M76.2 528.64L98.1 530.77M76.2 529.19L98.1 530.23M76.2 530.07L98.1 531.52M76.2 530.45L98.1 534.55M76.2 531.14L98.1 533M76.2 531.78L98.1 535.16M76.2 532.3L98.1 533.3M76.2 533.14L98.1 537.3M76.2 533.74L98.1 537.87M76.2 534.56L98.1 532.47M76.2 535.02L98.1 534M76.2 535.71L98.1 539.6M76.2 536.26L98.1 536.48M76.2 536.96L98.1 536.16M76.2 537.48L98.1 538.37M76.2 538.01L98.1 540.85M76.2 538.99L98.1 541.63M76.2 539.61L98.1 539.27M76.2 540.15L98.1 540.49M76.2 540.6L98.1 542.16" stroke="#000" stroke-width="1.05" fill="none" stroke-dasharray="2.2 3.3" stroke-dashoffset="0.5"/>
<circle cx="76.2" cy="516.4" r="2.2" fill="#f43c3f"/>
<circle cx="76.2" cy="517.05" r="2.2" fill="#f43c3f"/>
<circle cx="76.2" cy="517.85" r="2.2" fill="#f43c3f"/>
<circle cx="76.2" cy="518.24" r="2.2" fill="#f43c3f"/>
<circle cx="76.2" cy="518.89" r="2.2" fill="#f43c3f"/>
<circle cx="76.2" cy="519.55" r="2.2" fill="#f43c3f"/>
<circle cx="76.2" cy="519.97" r="2.2" fill="#f43c3f"/>
<circle cx="76.2" cy="520.75" r="2.2" fill="#f43c3f"/>
<circle cx="76.2" cy="521.43" r="2.2" fill="#f43c3f"/>
<circle cx="76.2" cy="522.13" r="2.2" fill="#f43c3f"/>
<circle cx="76.2" cy="522.4" r="2.2" fill="#f43c3f"/>
<circle cx="76.2" cy="523.13" r="2.2" fill="#f43c3f"/>
<circle cx="76.2" cy="523.64" r="2.2" fill="#f43c3f"/>
<circle cx="76.2" cy="524.62" r="2.2" fill="#f43c3f"/>
<circle cx="76.2" cy="525.18" r="2.2" fill="#f43c3f"/>
<circle cx="76.2" cy="525.48" r="2.2" fill="#f43c3f"/>
<circle cx="76.2" cy="526.57" r="2.2" fill="#f43c3f"/>
<circle cx="76.2" cy="527.18" r="2.2" fill="#f43c3f"/>
<circle cx="76.2" cy="527.65" r="2.2" fill="#f43c3f"/>
<circle cx="76.2" cy="528.25" r="2.2" fill="#f43c3f"/>
<circle cx="76.2" cy="528.64" r="2.2" fill="#f43c3f"/>
<circle cx="76.2" cy="529.19" r="2.2" fill="#f43c3f"/>
<circle cx="76.2" cy="530.07" r="2.2" fill="#f43c3f"/>
<circle cx="76.2" cy="530.45" r="2.2" fill="#f43c3f"/>
<circle cx="76.2" cy="531.14" r="2.2" fill="#f43c3f"/>
<circle cx="76.2" cy="531.78" r="2.2" fill="#f43c3f"/>
<circle cx="76.2" cy="532.3" r="2.2" fill="#f43c3f"/>
<circle cx="76.2" cy="533.14" r="2.2" fill="#f43c3f"/>
<circle cx="76.2" cy="533.74" r="2.2" fill="#f43c3f"/>
<circle cx="76.2" cy="534.56" r="2.2" fill="#f43c3f"/>
<circle cx="76.2" cy="535.02" r="2.2" fill="#f43c3f"/>
<circle cx="76.2" cy="535.71" r="2.2" fill="#f43c3f"/>
<circle cx="76.2" cy="536.26" r="2.2" fill="#f43c3f"/>
<circle cx="76.2" cy="536.96" r="2.2" fill="#f43c3f"/>
<circle cx="76.2" cy="537.48" r="2.2" fill="#f43c3f"/>
<circle cx="76.2" cy="538.01" r="2.2" fill="#f43c3f"/>
<circle cx="76.2" cy="538.99" r="2.2" fill="#f43c3f"/>
<circle cx="76.2" cy="539.61" r="2.2" fill="#f43c3f"/>
<circle cx="76.2" cy="540.15" r="2.2" fill="#f43c3f"/>
<circle cx="76.2" cy="540.6" r="2.2" fill="#f43c3f"/>
<text x="156.7" y="479.8" font-size="12.2" fill="#000" font-weight="bold" stroke="#000" stroke-width="0.4">n</text>
<text x="227.3" y="485.5" font-size="9.5" text-anchor="middle" textLength="50.5" lengthAdjust="spacingAndGlyphs" stroke="#231f20" stroke-width="0.15">C5 (2381-52)</text>
<text x="229.3" y="500.2" font-size="7.3" text-anchor="middle" fill="#3a3aff" textLength="18.3" lengthAdjust="spacingAndGlyphs" stroke="#3a3aff" stroke-width="0.15">0.014</text>
<path d="M216.3 503.8H242.7" stroke="#b5b5b5" stroke-width="1" fill="none"/>
<path d="M216.3 502.1V505.5M242.7 502.1V505.5" stroke="#808080" stroke-width="0.9" fill="none"/>
<path d="M203.1 504.2V552.5M203.1 557.5V570.7M198.8 504.2H203.1M198.8 552.5H203.1M198.8 557.5H203.1M198.8 570.7H203.1M200.1 516.3H203.1M200.1 540.45H203.1M198.8 504.2H203.1M198.8 528.4H203.1M198.8 552.5H203.1M198.8 570.7H255.6M218.4 570.7V574.5M240.3 570.7V574.5" stroke="#6d6e71" stroke-width="0.8" fill="none"/>
<text x="196" y="506.7" font-size="7.5" text-anchor="end" textLength="14.51" lengthAdjust="spacingAndGlyphs" stroke-width="0">11.2</text>
<text x="196" y="530.9" font-size="7.5" text-anchor="end" textLength="14.51" lengthAdjust="spacingAndGlyphs" stroke-width="0">10.7</text>
<text x="196" y="555" font-size="7.5" text-anchor="end" textLength="14.51" lengthAdjust="spacingAndGlyphs" stroke-width="0">10.2</text>
<text x="196" y="573.2" font-size="7.5" text-anchor="end" textLength="4.14" lengthAdjust="spacingAndGlyphs" stroke-width="0">0</text>
<text x="224.7" y="586.6" font-size="9.5" text-anchor="end" textLength="33" lengthAdjust="spacingAndGlyphs" stroke="#231f20" stroke-width="0.15">Baseline</text>
<text x="230.7" y="586.6" font-size="9.5" textLength="34.2" lengthAdjust="spacingAndGlyphs" stroke="#231f20" stroke-width="0.15">CR (2 yr)</text>
<text x="162.5" y="536.7" font-size="9.4" text-anchor="middle" textLength="72.5" lengthAdjust="spacingAndGlyphs" transform="rotate(-90 162.5 536.7)" stroke="#231f20" stroke-width="0.15">ANML normalized</text>
<text x="173.5" y="536.7" font-size="9.4" text-anchor="middle" textLength="68" lengthAdjust="spacingAndGlyphs" transform="rotate(-90 173.5 536.7)" stroke="#231f20" stroke-width="0.15">expression (a.u.)</text>
<circle cx="240.3" cy="522.32" r="2.2" fill="#1596b4"/>
<circle cx="240.3" cy="522.64" r="2.2" fill="#1596b4"/>
<circle cx="240.3" cy="523.12" r="2.2" fill="#1596b4"/>
<circle cx="240.3" cy="524.88" r="2.2" fill="#1596b4"/>
<circle cx="240.3" cy="524.1" r="2.2" fill="#1596b4"/>
<circle cx="240.3" cy="526.67" r="2.2" fill="#1596b4"/>
<circle cx="240.3" cy="526.19" r="2.2" fill="#1596b4"/>
<circle cx="240.3" cy="527.86" r="2.2" fill="#1596b4"/>
<circle cx="240.3" cy="523.67" r="2.2" fill="#1596b4"/>
<circle cx="240.3" cy="524.54" r="2.2" fill="#1596b4"/>
<circle cx="240.3" cy="528.46" r="2.2" fill="#1596b4"/>
<circle cx="240.3" cy="525.62" r="2.2" fill="#1596b4"/>
<circle cx="240.3" cy="530.25" r="2.2" fill="#1596b4"/>
<circle cx="240.3" cy="527.03" r="2.2" fill="#1596b4"/>
<circle cx="240.3" cy="530.78" r="2.2" fill="#1596b4"/>
<circle cx="240.3" cy="529.72" r="2.2" fill="#1596b4"/>
<circle cx="240.3" cy="529.2" r="2.2" fill="#1596b4"/>
<circle cx="240.3" cy="527.38" r="2.2" fill="#1596b4"/>
<circle cx="240.3" cy="528.93" r="2.2" fill="#1596b4"/>
<circle cx="240.3" cy="533.13" r="2.2" fill="#1596b4"/>
<circle cx="240.3" cy="531.37" r="2.2" fill="#1596b4"/>
<circle cx="240.3" cy="532.8" r="2.2" fill="#1596b4"/>
<circle cx="240.3" cy="533.64" r="2.2" fill="#1596b4"/>
<circle cx="240.3" cy="531.73" r="2.2" fill="#1596b4"/>
<circle cx="240.3" cy="535.64" r="2.2" fill="#1596b4"/>
<circle cx="240.3" cy="532.02" r="2.2" fill="#1596b4"/>
<circle cx="240.3" cy="534" r="2.2" fill="#1596b4"/>
<circle cx="240.3" cy="535.02" r="2.2" fill="#1596b4"/>
<circle cx="240.3" cy="535.86" r="2.2" fill="#1596b4"/>
<circle cx="240.3" cy="534.56" r="2.2" fill="#1596b4"/>
<circle cx="240.3" cy="537.52" r="2.2" fill="#1596b4"/>
<circle cx="240.3" cy="536.51" r="2.2" fill="#1596b4"/>
<circle cx="240.3" cy="538.81" r="2.2" fill="#1596b4"/>
<circle cx="240.3" cy="536.84" r="2.2" fill="#1596b4"/>
<circle cx="240.3" cy="539.4" r="2.2" fill="#1596b4"/>
<circle cx="240.3" cy="540.28" r="2.2" fill="#1596b4"/>
<circle cx="240.3" cy="537.74" r="2.2" fill="#1596b4"/>
<circle cx="240.3" cy="538.31" r="2.2" fill="#1596b4"/>
<circle cx="240.3" cy="539.65" r="2.2" fill="#1596b4"/>
<circle cx="240.3" cy="546.3" r="2.2" fill="#1596b4"/>
<path d="M218.4 512.4L240.3 522.32M218.4 518.7L240.3 522.64M218.4 519.2L240.3 523.12M218.4 519.65L240.3 524.88M218.4 519.91L240.3 524.1M218.4 520.3L240.3 526.67M218.4 520.88L240.3 526.19M218.4 521.29L240.3 527.86M218.4 521.92L240.3 523.67M218.4 522.33L240.3 524.54M218.4 522.74L240.3 528.46M218.4 523.17L240.3 525.62M218.4 523.65L240.3 530.25M218.4 523.91L240.3 527.03M218.4 524.46L240.3 530.78M218.4 524.81L240.3 529.72M218.4 525.52L240.3 529.2M218.4 525.66L240.3 527.38M218.4 526.37L240.3 528.93M218.4 526.55L240.3 533.13M218.4 527.22L240.3 531.37M218.4 527.54L240.3 532.8M218.4 528.01L240.3 533.64M218.4 528.61L240.3 531.73M218.4 528.76L240.3 535.64M218.4 529.22L240.3 532.02M218.4 529.97L240.3 534M218.4 530.27L240.3 535.02M218.4 530.56L240.3 535.86M218.4 531.33L240.3 534.56M218.4 531.76L240.3 537.52M218.4 531.9L240.3 536.51M218.4 532.46L240.3 538.81M218.4 532.8L240.3 536.84M218.4 533.31L240.3 539.4M218.4 533.86L240.3 540.28M218.4 534.15L240.3 537.74M218.4 534.78L240.3 538.31M218.4 535L240.3 539.65M218.4 535.48L240.3 546.3" stroke="#000" stroke-width="1.05" fill="none" stroke-dasharray="2.2 3.3" stroke-dashoffset="0.5"/>
<circle cx="218.4" cy="512.4" r="2.2" fill="#f43c3f"/>
<circle cx="218.4" cy="518.7" r="2.2" fill="#f43c3f"/>
<circle cx="218.4" cy="519.2" r="2.2" fill="#f43c3f"/>
<circle cx="218.4" cy="519.65" r="2.2" fill="#f43c3f"/>
<circle cx="218.4" cy="519.91" r="2.2" fill="#f43c3f"/>
<circle cx="218.4" cy="520.3" r="2.2" fill="#f43c3f"/>
<circle cx="218.4" cy="520.88" r="2.2" fill="#f43c3f"/>
<circle cx="218.4" cy="521.29" r="2.2" fill="#f43c3f"/>
<circle cx="218.4" cy="521.92" r="2.2" fill="#f43c3f"/>
<circle cx="218.4" cy="522.33" r="2.2" fill="#f43c3f"/>
<circle cx="218.4" cy="522.74" r="2.2" fill="#f43c3f"/>
<circle cx="218.4" cy="523.17" r="2.2" fill="#f43c3f"/>
<circle cx="218.4" cy="523.65" r="2.2" fill="#f43c3f"/>
<circle cx="218.4" cy="523.91" r="2.2" fill="#f43c3f"/>
<circle cx="218.4" cy="524.46" r="2.2" fill="#f43c3f"/>
<circle cx="218.4" cy="524.81" r="2.2" fill="#f43c3f"/>
<circle cx="218.4" cy="525.52" r="2.2" fill="#f43c3f"/>
<circle cx="218.4" cy="525.66" r="2.2" fill="#f43c3f"/>
<circle cx="218.4" cy="526.37" r="2.2" fill="#f43c3f"/>
<circle cx="218.4" cy="526.55" r="2.2" fill="#f43c3f"/>
<circle cx="218.4" cy="527.22" r="2.2" fill="#f43c3f"/>
<circle cx="218.4" cy="527.54" r="2.2" fill="#f43c3f"/>
<circle cx="218.4" cy="528.01" r="2.2" fill="#f43c3f"/>
<circle cx="218.4" cy="528.61" r="2.2" fill="#f43c3f"/>
<circle cx="218.4" cy="528.76" r="2.2" fill="#f43c3f"/>
<circle cx="218.4" cy="529.22" r="2.2" fill="#f43c3f"/>
<circle cx="218.4" cy="529.97" r="2.2" fill="#f43c3f"/>
<circle cx="218.4" cy="530.27" r="2.2" fill="#f43c3f"/>
<circle cx="218.4" cy="530.56" r="2.2" fill="#f43c3f"/>
<circle cx="218.4" cy="531.33" r="2.2" fill="#f43c3f"/>
<circle cx="218.4" cy="531.76" r="2.2" fill="#f43c3f"/>
<circle cx="218.4" cy="531.9" r="2.2" fill="#f43c3f"/>
<circle cx="218.4" cy="532.46" r="2.2" fill="#f43c3f"/>
<circle cx="218.4" cy="532.8" r="2.2" fill="#f43c3f"/>
<circle cx="218.4" cy="533.31" r="2.2" fill="#f43c3f"/>
<circle cx="218.4" cy="533.86" r="2.2" fill="#f43c3f"/>
<circle cx="218.4" cy="534.15" r="2.2" fill="#f43c3f"/>
<circle cx="218.4" cy="534.78" r="2.2" fill="#f43c3f"/>
<circle cx="218.4" cy="535" r="2.2" fill="#f43c3f"/>
<circle cx="218.4" cy="535.48" r="2.2" fill="#f43c3f"/>
<text x="293.7" y="479.8" font-size="12.2" fill="#000" font-weight="bold" stroke="#000" stroke-width="0.4">o</text>
<text x="365" y="485.5" font-size="9.5" text-anchor="middle" textLength="50.5" lengthAdjust="spacingAndGlyphs" stroke="#231f20" stroke-width="0.15">C6 (4127-75)</text>
<text x="367.5" y="497.1" font-size="7.3" text-anchor="middle" textLength="18.3" lengthAdjust="spacingAndGlyphs" stroke="#231f20" stroke-width="0.15">0.129</text>
<path d="M354.4 501.4H380.3" stroke="#b5b5b5" stroke-width="1" fill="none"/>
<path d="M354.4 499.7V503.1M380.3 499.7V503.1" stroke="#808080" stroke-width="0.9" fill="none"/>
<path d="M340.1 503.2V520.8M340.1 536.5V551.4M340.1 558.6V570.9M335.8 503.2H340.1M335.8 520.8H340.1M335.8 536.5H340.1M335.8 551.4H340.1M335.8 558.6H340.1M335.8 570.9H340.1M337.1 512H340.1M337.1 544H340.1M335.8 503.2H340.1M335.8 520.8H340.1M335.8 536.5H340.1M335.8 551.4H340.1M335.8 570.9H393.6M355.8 570.9V574.7M377.7 570.9V574.7" stroke="#6d6e71" stroke-width="0.8" fill="none"/>
<text x="333" y="505.7" font-size="7.5" text-anchor="end" textLength="14.51" lengthAdjust="spacingAndGlyphs" stroke-width="0">11.5</text>
<text x="333" y="523.3" font-size="7.5" text-anchor="end" textLength="14.51" lengthAdjust="spacingAndGlyphs" stroke-width="0">10.5</text>
<text x="333" y="573.4" font-size="7.5" text-anchor="end" textLength="4.14" lengthAdjust="spacingAndGlyphs" stroke-width="0">0</text>
<text x="333" y="539" font-size="7.5" text-anchor="end" textLength="4.14" lengthAdjust="spacingAndGlyphs" stroke-width="0">6</text>
<text x="333" y="553.9" font-size="7.5" text-anchor="end" textLength="4.14" lengthAdjust="spacingAndGlyphs" stroke-width="0">5</text>
<text x="362.1" y="586.8" font-size="9.5" text-anchor="end" textLength="33" lengthAdjust="spacingAndGlyphs" stroke="#231f20" stroke-width="0.15">Baseline</text>
<text x="368.1" y="586.8" font-size="9.5" textLength="34.2" lengthAdjust="spacingAndGlyphs" stroke="#231f20" stroke-width="0.15">CR (2 yr)</text>
<text x="299.5" y="536.2" font-size="9.4" text-anchor="middle" textLength="72.5" lengthAdjust="spacingAndGlyphs" transform="rotate(-90 299.5 536.2)" stroke="#231f20" stroke-width="0.15">ANML normalized</text>
<text x="310.5" y="536.2" font-size="9.4" text-anchor="middle" textLength="68" lengthAdjust="spacingAndGlyphs" transform="rotate(-90 310.5 536.2)" stroke="#231f20" stroke-width="0.15">expression (a.u.)</text>
<circle cx="377.7" cy="510.23" r="2.2" fill="#1596b4"/>
<circle cx="377.7" cy="509.13" r="2.2" fill="#1596b4"/>
<circle cx="377.7" cy="513.85" r="2.2" fill="#1596b4"/>
<circle cx="377.7" cy="514.5" r="2.2" fill="#1596b4"/>
<circle cx="377.7" cy="513.04" r="2.2" fill="#1596b4"/>
<circle cx="377.7" cy="509.48" r="2.2" fill="#1596b4"/>
<circle cx="377.7" cy="512.92" r="2.2" fill="#1596b4"/>
<circle cx="377.7" cy="512.78" r="2.2" fill="#1596b4"/>
<circle cx="377.7" cy="509.41" r="2.2" fill="#1596b4"/>
<circle cx="377.7" cy="511.98" r="2.2" fill="#1596b4"/>
<circle cx="377.7" cy="512.93" r="2.2" fill="#1596b4"/>
<circle cx="377.7" cy="514.4" r="2.2" fill="#1596b4"/>
<circle cx="377.7" cy="512.53" r="2.2" fill="#1596b4"/>
<circle cx="377.7" cy="508.76" r="2.2" fill="#1596b4"/>
<circle cx="377.7" cy="506.88" r="2.2" fill="#1596b4"/>
<circle cx="377.7" cy="515.72" r="2.2" fill="#1596b4"/>
<circle cx="377.7" cy="512.24" r="2.2" fill="#1596b4"/>
<circle cx="377.7" cy="515.04" r="2.2" fill="#1596b4"/>
<circle cx="377.7" cy="510.15" r="2.2" fill="#1596b4"/>
<circle cx="377.7" cy="510.57" r="2.2" fill="#1596b4"/>
<circle cx="377.7" cy="510.68" r="2.2" fill="#1596b4"/>
<circle cx="377.7" cy="513.47" r="2.2" fill="#1596b4"/>
<circle cx="377.7" cy="513.08" r="2.2" fill="#1596b4"/>
<circle cx="377.7" cy="510.79" r="2.2" fill="#1596b4"/>
<circle cx="377.7" cy="515.89" r="2.2" fill="#1596b4"/>
<circle cx="377.7" cy="507.22" r="2.2" fill="#1596b4"/>
<circle cx="377.7" cy="510.25" r="2.2" fill="#1596b4"/>
<circle cx="377.7" cy="511.31" r="2.2" fill="#1596b4"/>
<circle cx="377.7" cy="507.83" r="2.2" fill="#1596b4"/>
<circle cx="377.7" cy="507.33" r="2.2" fill="#1596b4"/>
<circle cx="377.7" cy="506.23" r="2.2" fill="#1596b4"/>
<circle cx="377.7" cy="510.84" r="2.2" fill="#1596b4"/>
<circle cx="377.7" cy="513.85" r="2.2" fill="#1596b4"/>
<circle cx="377.7" cy="514.63" r="2.2" fill="#1596b4"/>
<circle cx="377.7" cy="512.06" r="2.2" fill="#1596b4"/>
<circle cx="377.7" cy="507.94" r="2.2" fill="#1596b4"/>
<circle cx="377.7" cy="507.14" r="2.2" fill="#1596b4"/>
<circle cx="377.7" cy="508.18" r="2.2" fill="#1596b4"/>
<circle cx="377.7" cy="507.61" r="2.2" fill="#1596b4"/>
<circle cx="377.7" cy="543.1" r="2.2" fill="#1596b4"/>
<path d="M355.8 509.94L377.7 510.23M355.8 508.23L377.7 509.13M355.8 513.86L377.7 513.85M355.8 513.03L377.7 514.5M355.8 511.42L377.7 513.04M355.8 510.14L377.7 509.48M355.8 512.25L377.7 512.92M355.8 509.61L377.7 512.78M355.8 509.77L377.7 509.41M355.8 512.77L377.7 511.98M355.8 514.85L377.7 512.93M355.8 511.32L377.7 514.4M355.8 514.02L377.7 512.53M355.8 508.46L377.7 508.76M355.8 505.58L377.7 506.88M355.8 511.38L377.7 515.72M355.8 510.58L377.7 512.24M355.8 516.24L377.7 515.04M355.8 509.43L377.7 510.15M355.8 507.27L377.7 510.57M355.8 514.21L377.7 510.68M355.8 515.88L377.7 513.47M355.8 512.76L377.7 513.08M355.8 510.71L377.7 510.79M355.8 514.52L377.7 515.89M355.8 506.45L377.7 507.22M355.8 508.91L377.7 510.25M355.8 511.26L377.7 511.31M355.8 507.71L377.7 507.83M355.8 507.83L377.7 507.33M355.8 508.33L377.7 506.23M355.8 509.39L377.7 510.84M355.8 513.14L377.7 513.85M355.8 515L377.7 514.63M355.8 512.1L377.7 512.06M355.8 509.99L377.7 507.94M355.8 506.56L377.7 507.14M355.8 507.45L377.7 508.18M355.8 507.1L377.7 507.61M355.8 548.4L377.7 543.1" stroke="#000" stroke-width="1.05" fill="none" stroke-dasharray="2.2 3.3" stroke-dashoffset="0.5"/>
<circle cx="355.8" cy="509.94" r="2.2" fill="#f43c3f"/>
<circle cx="355.8" cy="508.23" r="2.2" fill="#f43c3f"/>
<circle cx="355.8" cy="513.86" r="2.2" fill="#f43c3f"/>
<circle cx="355.8" cy="513.03" r="2.2" fill="#f43c3f"/>
<circle cx="355.8" cy="511.42" r="2.2" fill="#f43c3f"/>
<circle cx="355.8" cy="510.14" r="2.2" fill="#f43c3f"/>
<circle cx="355.8" cy="512.25" r="2.2" fill="#f43c3f"/>
<circle cx="355.8" cy="509.61" r="2.2" fill="#f43c3f"/>
<circle cx="355.8" cy="509.77" r="2.2" fill="#f43c3f"/>
<circle cx="355.8" cy="512.77" r="2.2" fill="#f43c3f"/>
<circle cx="355.8" cy="514.85" r="2.2" fill="#f43c3f"/>
<circle cx="355.8" cy="511.32" r="2.2" fill="#f43c3f"/>
<circle cx="355.8" cy="514.02" r="2.2" fill="#f43c3f"/>
<circle cx="355.8" cy="508.46" r="2.2" fill="#f43c3f"/>
<circle cx="355.8" cy="505.58" r="2.2" fill="#f43c3f"/>
<circle cx="355.8" cy="511.38" r="2.2" fill="#f43c3f"/>
<circle cx="355.8" cy="510.58" r="2.2" fill="#f43c3f"/>
<circle cx="355.8" cy="516.24" r="2.2" fill="#f43c3f"/>
<circle cx="355.8" cy="509.43" r="2.2" fill="#f43c3f"/>
<circle cx="355.8" cy="507.27" r="2.2" fill="#f43c3f"/>
<circle cx="355.8" cy="514.21" r="2.2" fill="#f43c3f"/>
<circle cx="355.8" cy="515.88" r="2.2" fill="#f43c3f"/>
<circle cx="355.8" cy="512.76" r="2.2" fill="#f43c3f"/>
<circle cx="355.8" cy="510.71" r="2.2" fill="#f43c3f"/>
<circle cx="355.8" cy="514.52" r="2.2" fill="#f43c3f"/>
<circle cx="355.8" cy="506.45" r="2.2" fill="#f43c3f"/>
<circle cx="355.8" cy="508.91" r="2.2" fill="#f43c3f"/>
<circle cx="355.8" cy="511.26" r="2.2" fill="#f43c3f"/>
<circle cx="355.8" cy="507.71" r="2.2" fill="#f43c3f"/>
<circle cx="355.8" cy="507.83" r="2.2" fill="#f43c3f"/>
<circle cx="355.8" cy="508.33" r="2.2" fill="#f43c3f"/>
<circle cx="355.8" cy="509.39" r="2.2" fill="#f43c3f"/>
<circle cx="355.8" cy="513.14" r="2.2" fill="#f43c3f"/>
<circle cx="355.8" cy="515" r="2.2" fill="#f43c3f"/>
<circle cx="355.8" cy="512.1" r="2.2" fill="#f43c3f"/>
<circle cx="355.8" cy="509.99" r="2.2" fill="#f43c3f"/>
<circle cx="355.8" cy="506.56" r="2.2" fill="#f43c3f"/>
<circle cx="355.8" cy="507.45" r="2.2" fill="#f43c3f"/>
<circle cx="355.8" cy="507.1" r="2.2" fill="#f43c3f"/>
<circle cx="355.8" cy="548.4" r="2.2" fill="#f43c3f"/>
<text x="436.8" y="479.8" font-size="12.2" fill="#000" font-weight="bold" stroke="#000" stroke-width="0.4">p</text>
<text x="510.2" y="485.5" font-size="9.5" text-anchor="middle" textLength="52.5" lengthAdjust="spacingAndGlyphs" stroke="#231f20" stroke-width="0.15">C7 (2888-49)</text>
<text x="508.1" y="503.3" font-size="7.3" text-anchor="middle" textLength="18.3" lengthAdjust="spacingAndGlyphs" stroke="#231f20" stroke-width="0.15">0.132</text>
<path d="M496.5 507.9H523.1" stroke="#b5b5b5" stroke-width="1" fill="none"/>
<path d="M496.5 506.2V509.6M523.1 506.2V509.6" stroke="#808080" stroke-width="0.9" fill="none"/>
<path d="M484.2 503.2V551.5M484.2 556.5V570.7M479.9 503.2H484.2M479.9 551.5H484.2M479.9 556.5H484.2M479.9 570.7H484.2M481.2 515.25H484.2M481.2 539.4H484.2M479.9 503.2H484.2M479.9 527.3H484.2M479.9 551.5H484.2M479.9 570.7H536.8M498.9 570.7V574.5M520.8 570.7V574.5" stroke="#6d6e71" stroke-width="0.8" fill="none"/>
<text x="477.1" y="505.7" font-size="7.5" text-anchor="end" textLength="14.51" lengthAdjust="spacingAndGlyphs" stroke-width="0">12.2</text>
<text x="477.1" y="529.8" font-size="7.5" text-anchor="end" textLength="14.51" lengthAdjust="spacingAndGlyphs" stroke-width="0">11.7</text>
<text x="477.1" y="554" font-size="7.5" text-anchor="end" textLength="14.51" lengthAdjust="spacingAndGlyphs" stroke-width="0">11.2</text>
<text x="477.1" y="573.2" font-size="7.5" text-anchor="end" textLength="4.14" lengthAdjust="spacingAndGlyphs" stroke-width="0">0</text>
<text x="505.2" y="586.6" font-size="9.5" text-anchor="end" textLength="33" lengthAdjust="spacingAndGlyphs" stroke="#231f20" stroke-width="0.15">Baseline</text>
<text x="511.2" y="586.6" font-size="9.5" textLength="34.2" lengthAdjust="spacingAndGlyphs" stroke="#231f20" stroke-width="0.15">CR (2 yr)</text>
<text x="443" y="536.2" font-size="9.4" text-anchor="middle" textLength="72.5" lengthAdjust="spacingAndGlyphs" transform="rotate(-90 443 536.2)" stroke="#231f20" stroke-width="0.15">ANML normalized</text>
<text x="454" y="536.2" font-size="9.4" text-anchor="middle" textLength="68" lengthAdjust="spacingAndGlyphs" transform="rotate(-90 454 536.2)" stroke="#231f20" stroke-width="0.15">expression (a.u.)</text>
<circle cx="520.8" cy="520.6" r="2.2" fill="#1596b4"/>
<circle cx="520.8" cy="521.64" r="2.2" fill="#1596b4"/>
<circle cx="520.8" cy="521.27" r="2.2" fill="#1596b4"/>
<circle cx="520.8" cy="524.23" r="2.2" fill="#1596b4"/>
<circle cx="520.8" cy="523.07" r="2.2" fill="#1596b4"/>
<circle cx="520.8" cy="522.65" r="2.2" fill="#1596b4"/>
<circle cx="520.8" cy="522.03" r="2.2" fill="#1596b4"/>
<circle cx="520.8" cy="523.83" r="2.2" fill="#1596b4"/>
<circle cx="520.8" cy="524.58" r="2.2" fill="#1596b4"/>
<circle cx="520.8" cy="526.21" r="2.2" fill="#1596b4"/>
<circle cx="520.8" cy="528.38" r="2.2" fill="#1596b4"/>
<circle cx="520.8" cy="525.61" r="2.2" fill="#1596b4"/>
<circle cx="520.8" cy="527.69" r="2.2" fill="#1596b4"/>
<circle cx="520.8" cy="527.43" r="2.2" fill="#1596b4"/>
<circle cx="520.8" cy="528.72" r="2.2" fill="#1596b4"/>
<circle cx="520.8" cy="525.39" r="2.2" fill="#1596b4"/>
<circle cx="520.8" cy="529.4" r="2.2" fill="#1596b4"/>
<circle cx="520.8" cy="530" r="2.2" fill="#1596b4"/>
<circle cx="520.8" cy="526.62" r="2.2" fill="#1596b4"/>
<circle cx="520.8" cy="530.94" r="2.2" fill="#1596b4"/>
<circle cx="520.8" cy="531.47" r="2.2" fill="#1596b4"/>
<circle cx="520.8" cy="532.86" r="2.2" fill="#1596b4"/>
<circle cx="520.8" cy="530.46" r="2.2" fill="#1596b4"/>
<circle cx="520.8" cy="531.97" r="2.2" fill="#1596b4"/>
<circle cx="520.8" cy="533.96" r="2.2" fill="#1596b4"/>
<circle cx="520.8" cy="532.55" r="2.2" fill="#1596b4"/>
<circle cx="520.8" cy="534.74" r="2.2" fill="#1596b4"/>
<circle cx="520.8" cy="533.54" r="2.2" fill="#1596b4"/>
<circle cx="520.8" cy="535.28" r="2.2" fill="#1596b4"/>
<circle cx="520.8" cy="536.74" r="2.2" fill="#1596b4"/>
<circle cx="520.8" cy="537.49" r="2.2" fill="#1596b4"/>
<circle cx="520.8" cy="535.99" r="2.2" fill="#1596b4"/>
<circle cx="520.8" cy="538.3" r="2.2" fill="#1596b4"/>
<circle cx="520.8" cy="535.44" r="2.2" fill="#1596b4"/>
<circle cx="520.8" cy="537.2" r="2.2" fill="#1596b4"/>
<circle cx="520.8" cy="540.31" r="2.2" fill="#1596b4"/>
<circle cx="520.8" cy="539.21" r="2.2" fill="#1596b4"/>
<circle cx="520.8" cy="538.91" r="2.2" fill="#1596b4"/>
<circle cx="520.8" cy="539.7" r="2.2" fill="#1596b4"/>
<circle cx="520.8" cy="540.8" r="2.2" fill="#1596b4"/>
<path d="M498.9 512.5L520.8 520.6M498.9 513.26L520.8 521.64M498.9 513.88L520.8 521.27M498.9 514.69L520.8 524.23M498.9 514.99L520.8 523.07M498.9 515.64L520.8 522.65M498.9 516.54L520.8 522.03M498.9 517.15L520.8 523.83M498.9 517.62L520.8 524.58M498.9 518.47L520.8 526.21M498.9 518.97L520.8 528.38M498.9 519.82L520.8 525.61M498.9 520.13L520.8 527.69M498.9 520.84L520.8 527.43M498.9 521.85L520.8 528.72M498.9 522.22L520.8 525.39M498.9 522.82L520.8 529.4M498.9 523.75L520.8 530M498.9 524.32L520.8 526.62M498.9 524.72L520.8 530.94M498.9 525.58L520.8 531.47M498.9 526.29L520.8 532.86M498.9 526.68L520.8 530.46M498.9 527.59L520.8 531.97M498.9 527.97L520.8 533.96M498.9 528.73L520.8 532.55M498.9 529.25L520.8 534.74M498.9 529.97L520.8 533.54M498.9 531.02L520.8 535.28M498.9 531.38L520.8 536.74M498.9 532.34L520.8 537.49M498.9 532.7L520.8 535.99M498.9 533.44L520.8 538.3M498.9 534.23L520.8 535.44M498.9 534.79L520.8 537.2M498.9 535.14L520.8 540.31M498.9 536.04L520.8 539.21M498.9 536.72L520.8 538.91M498.9 537.13L520.8 539.7M498.9 543.2L520.8 540.8" stroke="#000" stroke-width="1.05" fill="none" stroke-dasharray="2.2 3.3" stroke-dashoffset="0.5"/>
<circle cx="498.9" cy="512.5" r="2.2" fill="#f43c3f"/>
<circle cx="498.9" cy="513.26" r="2.2" fill="#f43c3f"/>
<circle cx="498.9" cy="513.88" r="2.2" fill="#f43c3f"/>
<circle cx="498.9" cy="514.69" r="2.2" fill="#f43c3f"/>
<circle cx="498.9" cy="514.99" r="2.2" fill="#f43c3f"/>
<circle cx="498.9" cy="515.64" r="2.2" fill="#f43c3f"/>
<circle cx="498.9" cy="516.54" r="2.2" fill="#f43c3f"/>
<circle cx="498.9" cy="517.15" r="2.2" fill="#f43c3f"/>
<circle cx="498.9" cy="517.62" r="2.2" fill="#f43c3f"/>
<circle cx="498.9" cy="518.47" r="2.2" fill="#f43c3f"/>
<circle cx="498.9" cy="518.97" r="2.2" fill="#f43c3f"/>
<circle cx="498.9" cy="519.82" r="2.2" fill="#f43c3f"/>
<circle cx="498.9" cy="520.13" r="2.2" fill="#f43c3f"/>
<circle cx="498.9" cy="520.84" r="2.2" fill="#f43c3f"/>
<circle cx="498.9" cy="521.85" r="2.2" fill="#f43c3f"/>
<circle cx="498.9" cy="522.22" r="2.2" fill="#f43c3f"/>
<circle cx="498.9" cy="522.82" r="2.2" fill="#f43c3f"/>
<circle cx="498.9" cy="523.75" r="2.2" fill="#f43c3f"/>
<circle cx="498.9" cy="524.32" r="2.2" fill="#f43c3f"/>
<circle cx="498.9" cy="524.72" r="2.2" fill="#f43c3f"/>
<circle cx="498.9" cy="525.58" r="2.2" fill="#f43c3f"/>
<circle cx="498.9" cy="526.29" r="2.2" fill="#f43c3f"/>
<circle cx="498.9" cy="526.68" r="2.2" fill="#f43c3f"/>
<circle cx="498.9" cy="527.59" r="2.2" fill="#f43c3f"/>
<circle cx="498.9" cy="527.97" r="2.2" fill="#f43c3f"/>
<circle cx="498.9" cy="528.73" r="2.2" fill="#f43c3f"/>
<circle cx="498.9" cy="529.25" r="2.2" fill="#f43c3f"/>
<circle cx="498.9" cy="529.97" r="2.2" fill="#f43c3f"/>
<circle cx="498.9" cy="531.02" r="2.2" fill="#f43c3f"/>
<circle cx="498.9" cy="531.38" r="2.2" fill="#f43c3f"/>
<circle cx="498.9" cy="532.34" r="2.2" fill="#f43c3f"/>
<circle cx="498.9" cy="532.7" r="2.2" fill="#f43c3f"/>
<circle cx="498.9" cy="533.44" r="2.2" fill="#f43c3f"/>
<circle cx="498.9" cy="534.23" r="2.2" fill="#f43c3f"/>
<circle cx="498.9" cy="534.79" r="2.2" fill="#f43c3f"/>
<circle cx="498.9" cy="535.14" r="2.2" fill="#f43c3f"/>
<circle cx="498.9" cy="536.04" r="2.2" fill="#f43c3f"/>
<circle cx="498.9" cy="536.72" r="2.2" fill="#f43c3f"/>
<circle cx="498.9" cy="537.13" r="2.2" fill="#f43c3f"/>
<circle cx="498.9" cy="543.2" r="2.2" fill="#f43c3f"/>
<text x="572.8" y="479.8" font-size="12.2" fill="#000" font-weight="bold" stroke="#000" stroke-width="0.4">q</text>
<text x="647.2" y="485.5" font-size="9.5" text-anchor="middle" textLength="54.5" lengthAdjust="spacingAndGlyphs" stroke="#231f20" stroke-width="0.15">C9 (3060-43)</text>
<text x="645.9" y="500.2" font-size="7.3" text-anchor="middle" fill="#3a3aff" textLength="18.3" lengthAdjust="spacingAndGlyphs" stroke="#3a3aff" stroke-width="0.15">0.016</text>
<path d="M632.5 503.4H658.8" stroke="#b5b5b5" stroke-width="1" fill="none"/>
<path d="M632.5 501.7V505.1M658.8 501.7V505.1" stroke="#808080" stroke-width="0.9" fill="none"/>
<path d="M620.2 503.8V552.5M620.2 557.5V570.7M615.9 503.8H620.2M615.9 552.5H620.2M615.9 557.5H620.2M615.9 570.7H620.2M617.2 516.1H620.2M617.2 540.45H620.2M615.9 503.8H620.2M615.9 528.4H620.2M615.9 552.5H620.2M615.9 570.7H672.7M634.5 570.7V574.5M656.4 570.7V574.5" stroke="#6d6e71" stroke-width="0.8" fill="none"/>
<text x="613.1" y="506.3" font-size="7.5" text-anchor="end" textLength="14.51" lengthAdjust="spacingAndGlyphs" stroke-width="0">11.9</text>
<text x="613.1" y="530.9" font-size="7.5" text-anchor="end" textLength="14.51" lengthAdjust="spacingAndGlyphs" stroke-width="0">11.4</text>
<text x="613.1" y="555" font-size="7.5" text-anchor="end" textLength="14.51" lengthAdjust="spacingAndGlyphs" stroke-width="0">10.9</text>
<text x="613.1" y="573.2" font-size="7.5" text-anchor="end" textLength="4.14" lengthAdjust="spacingAndGlyphs" stroke-width="0">0</text>
<text x="640.8" y="586.6" font-size="9.5" text-anchor="end" textLength="33" lengthAdjust="spacingAndGlyphs" stroke="#231f20" stroke-width="0.15">Baseline</text>
<text x="646.8" y="586.6" font-size="9.5" textLength="34.2" lengthAdjust="spacingAndGlyphs" stroke="#231f20" stroke-width="0.15">CR (2 yr)</text>
<text x="578.6" y="536.7" font-size="9.4" text-anchor="middle" textLength="72.5" lengthAdjust="spacingAndGlyphs" transform="rotate(-90 578.6 536.7)" stroke="#231f20" stroke-width="0.15">ANML normalized</text>
<text x="589.6" y="536.7" font-size="9.4" text-anchor="middle" textLength="68" lengthAdjust="spacingAndGlyphs" transform="rotate(-90 589.6 536.7)" stroke="#231f20" stroke-width="0.15">expression (a.u.)</text>
<circle cx="656.4" cy="509.7" r="2.2" fill="#1596b4"/>
<circle cx="656.4" cy="518.21" r="2.2" fill="#1596b4"/>
<circle cx="656.4" cy="523.96" r="2.2" fill="#1596b4"/>
<circle cx="656.4" cy="523.27" r="2.2" fill="#1596b4"/>
<circle cx="656.4" cy="517.47" r="2.2" fill="#1596b4"/>
<circle cx="656.4" cy="516.4" r="2.2" fill="#1596b4"/>
<circle cx="656.4" cy="522.71" r="2.2" fill="#1596b4"/>
<circle cx="656.4" cy="519.93" r="2.2" fill="#1596b4"/>
<circle cx="656.4" cy="524.43" r="2.2" fill="#1596b4"/>
<circle cx="656.4" cy="519.29" r="2.2" fill="#1596b4"/>
<circle cx="656.4" cy="532.4" r="2.2" fill="#1596b4"/>
<circle cx="656.4" cy="526.37" r="2.2" fill="#1596b4"/>
<circle cx="656.4" cy="525.79" r="2.2" fill="#1596b4"/>
<circle cx="656.4" cy="521.39" r="2.2" fill="#1596b4"/>
<circle cx="656.4" cy="529.26" r="2.2" fill="#1596b4"/>
<circle cx="656.4" cy="522.21" r="2.2" fill="#1596b4"/>
<circle cx="656.4" cy="519.05" r="2.2" fill="#1596b4"/>
<circle cx="656.4" cy="520.53" r="2.2" fill="#1596b4"/>
<circle cx="656.4" cy="535.61" r="2.2" fill="#1596b4"/>
<circle cx="656.4" cy="517.05" r="2.2" fill="#1596b4"/>
<circle cx="656.4" cy="525.46" r="2.2" fill="#1596b4"/>
<circle cx="656.4" cy="527.05" r="2.2" fill="#1596b4"/>
<circle cx="656.4" cy="533.33" r="2.2" fill="#1596b4"/>
<circle cx="656.4" cy="536.29" r="2.2" fill="#1596b4"/>
<circle cx="656.4" cy="528.33" r="2.2" fill="#1596b4"/>
<circle cx="656.4" cy="534.16" r="2.2" fill="#1596b4"/>
<circle cx="656.4" cy="527.95" r="2.2" fill="#1596b4"/>
<circle cx="656.4" cy="537.24" r="2.2" fill="#1596b4"/>
<circle cx="656.4" cy="539.49" r="2.2" fill="#1596b4"/>
<circle cx="656.4" cy="534.73" r="2.2" fill="#1596b4"/>
<circle cx="656.4" cy="539.73" r="2.2" fill="#1596b4"/>
<circle cx="656.4" cy="532.87" r="2.2" fill="#1596b4"/>
<circle cx="656.4" cy="529.61" r="2.2" fill="#1596b4"/>
<circle cx="656.4" cy="530.3" r="2.2" fill="#1596b4"/>
<circle cx="656.4" cy="530.75" r="2.2" fill="#1596b4"/>
<circle cx="656.4" cy="531.82" r="2.2" fill="#1596b4"/>
<circle cx="656.4" cy="538.83" r="2.2" fill="#1596b4"/>
<circle cx="656.4" cy="536.83" r="2.2" fill="#1596b4"/>
<circle cx="656.4" cy="537.75" r="2.2" fill="#1596b4"/>
<circle cx="656.4" cy="547.4" r="2.2" fill="#1596b4"/>
<path d="M634.5 509.89L656.4 509.7M634.5 510.08L656.4 518.21M634.5 511.33L656.4 523.96M634.5 511.76L656.4 523.27M634.5 513.08L656.4 517.47M634.5 513.26L656.4 516.4M634.5 514.59L656.4 522.71M634.5 515.26L656.4 519.93M634.5 516.16L656.4 524.43M634.5 517.05L656.4 519.29M634.5 517.36L656.4 532.4M634.5 518.21L656.4 526.37M634.5 519.24L656.4 525.79M634.5 519.76L656.4 521.39M634.5 520.54L656.4 529.26M634.5 521.31L656.4 522.21M634.5 522.5L656.4 519.05M634.5 523.31L656.4 520.53M634.5 524.05L656.4 535.61M634.5 524.48L656.4 517.05M634.5 525.72L656.4 525.46M634.5 526.25L656.4 527.05M634.5 526.86L656.4 533.33M634.5 527.79L656.4 536.29M634.5 528.56L656.4 528.33M634.5 529.14L656.4 534.16M634.5 530.24L656.4 527.95M634.5 530.9L656.4 537.24M634.5 531.83L656.4 539.49M634.5 532.85L656.4 534.73M634.5 533.46L656.4 539.73M634.5 534.1L656.4 532.87M634.5 535.18L656.4 529.61M634.5 536.06L656.4 530.3M634.5 536.53L656.4 530.75M634.5 537.61L656.4 531.82M634.5 537.82L656.4 538.83M634.5 538.69L656.4 536.83M634.5 539.5L656.4 537.75M634.5 540.5L656.4 547.4" stroke="#000" stroke-width="1.05" fill="none" stroke-dasharray="2.2 3.3" stroke-dashoffset="0.5"/>
<circle cx="634.5" cy="509.89" r="2.2" fill="#f43c3f"/>
<circle cx="634.5" cy="510.08" r="2.2" fill="#f43c3f"/>
<circle cx="634.5" cy="511.33" r="2.2" fill="#f43c3f"/>
<circle cx="634.5" cy="511.76" r="2.2" fill="#f43c3f"/>
<circle cx="634.5" cy="513.08" r="2.2" fill="#f43c3f"/>
<circle cx="634.5" cy="513.26" r="2.2" fill="#f43c3f"/>
<circle cx="634.5" cy="514.59" r="2.2" fill="#f43c3f"/>
<circle cx="634.5" cy="515.26" r="2.2" fill="#f43c3f"/>
<circle cx="634.5" cy="516.16" r="2.2" fill="#f43c3f"/>
<circle cx="634.5" cy="517.05" r="2.2" fill="#f43c3f"/>
<circle cx="634.5" cy="517.36" r="2.2" fill="#f43c3f"/>
<circle cx="634.5" cy="518.21" r="2.2" fill="#f43c3f"/>
<circle cx="634.5" cy="519.24" r="2.2" fill="#f43c3f"/>
<circle cx="634.5" cy="519.76" r="2.2" fill="#f43c3f"/>
<circle cx="634.5" cy="520.54" r="2.2" fill="#f43c3f"/>
<circle cx="634.5" cy="521.31" r="2.2" fill="#f43c3f"/>
<circle cx="634.5" cy="522.5" r="2.2" fill="#f43c3f"/>
<circle cx="634.5" cy="523.31" r="2.2" fill="#f43c3f"/>
<circle cx="634.5" cy="524.05" r="2.2" fill="#f43c3f"/>
<circle cx="634.5" cy="524.48" r="2.2" fill="#f43c3f"/>
<circle cx="634.5" cy="525.72" r="2.2" fill="#f43c3f"/>
<circle cx="634.5" cy="526.25" r="2.2" fill="#f43c3f"/>
<circle cx="634.5" cy="526.86" r="2.2" fill="#f43c3f"/>
<circle cx="634.5" cy="527.79" r="2.2" fill="#f43c3f"/>
<circle cx="634.5" cy="528.56" r="2.2" fill="#f43c3f"/>
<circle cx="634.5" cy="529.14" r="2.2" fill="#f43c3f"/>
<circle cx="634.5" cy="530.24" r="2.2" fill="#f43c3f"/>
<circle cx="634.5" cy="530.9" r="2.2" fill="#f43c3f"/>
<circle cx="634.5" cy="531.83" r="2.2" fill="#f43c3f"/>
<circle cx="634.5" cy="532.85" r="2.2" fill="#f43c3f"/>
<circle cx="634.5" cy="533.46" r="2.2" fill="#f43c3f"/>
<circle cx="634.5" cy="534.1" r="2.2" fill="#f43c3f"/>
<circle cx="634.5" cy="535.18" r="2.2" fill="#f43c3f"/>
<circle cx="634.5" cy="536.06" r="2.2" fill="#f43c3f"/>
<circle cx="634.5" cy="536.53" r="2.2" fill="#f43c3f"/>
<circle cx="634.5" cy="537.61" r="2.2" fill="#f43c3f"/>
<circle cx="634.5" cy="537.82" r="2.2" fill="#f43c3f"/>
<circle cx="634.5" cy="538.69" r="2.2" fill="#f43c3f"/>
<circle cx="634.5" cy="539.5" r="2.2" fill="#f43c3f"/>
<circle cx="634.5" cy="540.5" r="2.2" fill="#f43c3f"/>
<text x="0" y="604.4" font-size="12.2" fill="#000" font-weight="bold" stroke="#000" stroke-width="0.4">r</text>
<circle cx="40.9" cy="605.6" r="2.8" fill="#f43c3f"/>
<text x="47.3" y="607.9" font-size="6.6" textLength="25.5" lengthAdjust="spacingAndGlyphs" stroke="#231f20" stroke-width="0.15">Baseline</text>
<circle cx="83.8" cy="605.6" r="2.8" fill="#1596b4"/>
<text x="89.7" y="607.9" font-size="6.6" textLength="26.6" lengthAdjust="spacingAndGlyphs" stroke="#231f20" stroke-width="0.15">CR (2 yr)</text>
<path d="M35.2 613.8V695.1H116.1M30.9 613.8H35.2M32.2 634.12H35.2M30.9 654.45H35.2M32.2 674.77H35.2M30.9 695.1H35.2M35.2 695.1V699.1M55.42 695.1V697.9M75.65 695.1V699.1M95.88 695.1V697.9M116.1 695.1V699.1" stroke="#b0b0b0" stroke-width="1" fill="none"/>
<text x="27.2" y="616.5" font-size="7.4" text-anchor="end" textLength="7.41" lengthAdjust="spacingAndGlyphs" stroke="#231f20" stroke-width="0.15">13</text>
<text x="27.2" y="657.15" font-size="7.4" text-anchor="end" textLength="7.41" lengthAdjust="spacingAndGlyphs" stroke="#231f20" stroke-width="0.15">12</text>
<text x="27.2" y="697.8" font-size="7.4" text-anchor="end" textLength="7.41" lengthAdjust="spacingAndGlyphs" stroke="#231f20" stroke-width="0.15">11</text>
<text x="35.2" y="708.6" font-size="7.4" text-anchor="middle" textLength="7.41" lengthAdjust="spacingAndGlyphs" stroke="#231f20" stroke-width="0.15">17</text>
<text x="75.65" y="708.6" font-size="7.4" text-anchor="middle" textLength="7.41" lengthAdjust="spacingAndGlyphs" stroke="#231f20" stroke-width="0.15">24</text>
<text x="116.1" y="708.6" font-size="7.4" text-anchor="middle" textLength="7.41" lengthAdjust="spacingAndGlyphs" stroke="#231f20" stroke-width="0.15">31</text>
<text x="51.1" y="724.3" font-size="8.2" textLength="40.2" lengthAdjust="spacingAndGlyphs" stroke="#231f20" stroke-width="0.15">BMI (kg m</text>
<text x="91.5" y="720.7" font-size="5.6" textLength="6" lengthAdjust="spacingAndGlyphs" stroke="#231f20" stroke-width="0.15">−2</text>
<text x="97.3" y="724.3" font-size="8.2" stroke="#231f20" stroke-width="0.15">)</text>
<text x="12.9" y="654.45" font-size="8.6" text-anchor="middle" textLength="56.2" lengthAdjust="spacingAndGlyphs" transform="rotate(-90 12.9 654.45)" stroke="#231f20" stroke-width="0.15">C1r (3285-23)</text>
<circle cx="58.01" cy="662.01" r="1.3" fill="#1596b4"/>
<circle cx="72.02" cy="655.03" r="1.3" fill="#f43c3f"/>
<circle cx="51.44" cy="650.47" r="1.3" fill="#1596b4"/>
<circle cx="68.52" cy="653.71" r="1.3" fill="#1596b4"/>
<circle cx="83.4" cy="646.71" r="1.3" fill="#f43c3f"/>
<circle cx="60.2" cy="649.77" r="1.3" fill="#1596b4"/>
<circle cx="51.44" cy="658.53" r="1.3" fill="#1596b4"/>
<circle cx="95.66" cy="635.06" r="1.3" fill="#f43c3f"/>
<circle cx="76.84" cy="640.58" r="1.3" fill="#f43c3f"/>
<circle cx="56.7" cy="634.01" r="1.3" fill="#1596b4"/>
<circle cx="79.03" cy="641.89" r="1.3" fill="#1596b4"/>
<circle cx="66.77" cy="653.71" r="1.3" fill="#1596b4"/>
<circle cx="88.22" cy="659.4" r="1.3" fill="#f43c3f"/>
<circle cx="73.77" cy="647.58" r="1.3" fill="#f43c3f"/>
<circle cx="94.35" cy="651.09" r="1.3" fill="#f43c3f"/>
<circle cx="74.65" cy="651.09" r="1.3" fill="#1596b4"/>
<circle cx="70.27" cy="655.9" r="1.3" fill="#1596b4"/>
<circle cx="58.89" cy="647.15" r="1.3" fill="#1596b4"/>
<circle cx="68.08" cy="662.01" r="1.3" fill="#1596b4"/>
<circle cx="93.47" cy="648.46" r="1.3" fill="#f43c3f"/>
<circle cx="65.89" cy="646.27" r="1.3" fill="#1596b4"/>
<circle cx="81.65" cy="650.21" r="1.3" fill="#1596b4"/>
<circle cx="47.06" cy="650.21" r="1.3" fill="#1596b4"/>
<circle cx="80.34" cy="635.76" r="1.3" fill="#f43c3f"/>
<circle cx="64.58" cy="645.39" r="1.3" fill="#1596b4"/>
<circle cx="74.65" cy="639.7" r="1.3" fill="#f43c3f"/>
<circle cx="89.53" cy="644.08" r="1.3" fill="#f43c3f"/>
<circle cx="98.29" cy="650.21" r="1.3" fill="#f43c3f"/>
<circle cx="91.72" cy="651.52" r="1.3" fill="#f43c3f"/>
<circle cx="57.57" cy="667.08" r="1.3" fill="#1596b4"/>
<circle cx="48.82" cy="664.02" r="1.3" fill="#1596b4"/>
<circle cx="93.91" cy="644.08" r="1.3" fill="#f43c3f"/>
<circle cx="74.65" cy="659.4" r="1.3" fill="#1596b4"/>
<circle cx="65.02" cy="653.27" r="1.3" fill="#1596b4"/>
<circle cx="88.66" cy="647.15" r="1.3" fill="#f43c3f"/>
<circle cx="99.6" cy="656.78" r="1.3" fill="#f43c3f"/>
<circle cx="96.54" cy="650.65" r="1.3" fill="#f43c3f"/>
<circle cx="86.91" cy="655.46" r="1.3" fill="#1596b4"/>
<circle cx="85.16" cy="644.08" r="1.3" fill="#f43c3f"/>
<circle cx="66.77" cy="650.21" r="1.3" fill="#f43c3f"/>
<circle cx="75.96" cy="639.26" r="1.3" fill="#f43c3f"/>
<circle cx="75.96" cy="650.65" r="1.3" fill="#1596b4"/>
<circle cx="71.15" cy="648.9" r="1.3" fill="#1596b4"/>
<circle cx="61.95" cy="639.09" r="1.3" fill="#1596b4"/>
<circle cx="80.34" cy="655.46" r="1.3" fill="#1596b4"/>
<circle cx="77.27" cy="644.08" r="1.3" fill="#f43c3f"/>
<circle cx="65.45" cy="642.33" r="1.3" fill="#1596b4"/>
<circle cx="96.1" cy="653.71" r="1.3" fill="#f43c3f"/>
<circle cx="70.71" cy="646.27" r="1.3" fill="#1596b4"/>
<circle cx="62.83" cy="644.08" r="1.3" fill="#1596b4"/>
<circle cx="78.15" cy="660.43" r="1.3" fill="#1596b4"/>
<circle cx="69.39" cy="657.65" r="1.3" fill="#1596b4"/>
<circle cx="64.14" cy="655.9" r="1.3" fill="#f43c3f"/>
<circle cx="97.42" cy="629.37" r="1.3" fill="#f43c3f"/>
<circle cx="89.1" cy="651.96" r="1.3" fill="#1596b4"/>
<circle cx="82.53" cy="656.78" r="1.3" fill="#1596b4"/>
<circle cx="74.21" cy="660.69" r="1.3" fill="#1596b4"/>
<circle cx="60.64" cy="681.09" r="1.3" fill="#1596b4"/>
<circle cx="79.46" cy="642.94" r="1.3" fill="#f43c3f"/>
<circle cx="82.27" cy="630.68" r="1.3" fill="#1596b4"/>
<circle cx="96.54" cy="655.9" r="1.3" fill="#f43c3f"/>
<circle cx="73.77" cy="641.02" r="1.3" fill="#f43c3f"/>
<circle cx="77.71" cy="628.14" r="1.3" fill="#f43c3f"/>
<circle cx="97.42" cy="652.4" r="1.3" fill="#f43c3f"/>
<circle cx="54.07" cy="660.95" r="1.3" fill="#1596b4"/>
<circle cx="61.08" cy="648.9" r="1.3" fill="#1596b4"/>
<circle cx="69.83" cy="645.83" r="1.3" fill="#1596b4"/>
<circle cx="87.78" cy="650.47" r="1.3" fill="#f43c3f"/>
<circle cx="84.28" cy="640.4" r="1.3" fill="#f43c3f"/>
<circle cx="68.52" cy="667.43" r="1.3" fill="#f43c3f"/>
<circle cx="82.97" cy="645.39" r="1.3" fill="#f43c3f"/>
<circle cx="53.19" cy="655.9" r="1.3" fill="#1596b4"/>
<circle cx="72.46" cy="642.94" r="1.3" fill="#f43c3f"/>
<circle cx="59.76" cy="648.02" r="1.3" fill="#1596b4"/>
<path d="M58.2 647.77 L61.82 647.72 L65.44 647.6 L69.06 647.36 L72.67 646.98 L76.29 646.43 L79.91 645.71 L83.53 644.85 L87.15 643.87 L90.77 642.82 L94.39 641.72 L98.01 640.57 L101.62 639.4 L105.24 638.21 L108.86 637 L112.48 635.78 L116.1 634.55" stroke="#8c8c8c" stroke-width="0.9" fill="none" stroke-dasharray="0.9 2.1"/>
<path d="M58.2 656.63 L61.82 655.58 L65.44 654.6 L69.06 653.74 L72.67 653.02 L76.29 652.47 L79.91 652.09 L83.53 651.85 L87.15 651.73 L90.77 651.68 L94.39 651.68 L98.01 651.73 L101.62 651.8 L105.24 651.89 L108.86 652 L112.48 652.12 L116.1 652.25" stroke="#8c8c8c" stroke-width="0.9" fill="none" stroke-dasharray="0.9 2.1"/>
<path d="M58.2 652.2L116.1 643.4" stroke="#111" stroke-width="1.3" fill="none"/>
<text x="85.8" y="682.5" font-size="7.1" stroke="#231f20" stroke-width="0.15"><tspan font-style="italic">R</tspan><tspan font-size="4.8" dy="-2.9">2</tspan><tspan dy="2.9"> = 0.0533</tspan></text>
<text x="85.8" y="690.6" font-size="7.1" stroke="#231f20" stroke-width="0.15"><tspan font-style="italic">P</tspan> = 0.037</text>
<text x="149.5" y="604.4" font-size="12.2" fill="#000" font-weight="bold" stroke="#000" stroke-width="0.4">s</text>
<circle cx="189.2" cy="605.6" r="2.8" fill="#f43c3f"/>
<text x="195.6" y="607.9" font-size="6.6" textLength="25.5" lengthAdjust="spacingAndGlyphs" stroke="#231f20" stroke-width="0.15">Baseline</text>
<circle cx="231.5" cy="605.6" r="2.8" fill="#1596b4"/>
<text x="237.4" y="607.9" font-size="6.6" textLength="26.6" lengthAdjust="spacingAndGlyphs" stroke="#231f20" stroke-width="0.15">CR (2 yr)</text>
<path d="M185.1 613.8V695.1H266.2M180.8 613.8H185.1M182.1 634.12H185.1M180.8 654.45H185.1M182.1 674.77H185.1M180.8 695.1H185.1M185.1 695.1V699.1M205.38 695.1V697.9M225.65 695.1V699.1M245.92 695.1V697.9M266.2 695.1V699.1" stroke="#b0b0b0" stroke-width="1" fill="none"/>
<text x="177.1" y="616.5" font-size="7.4" text-anchor="end" textLength="12.96" lengthAdjust="spacingAndGlyphs" stroke="#231f20" stroke-width="0.15">11.0</text>
<text x="177.1" y="657.15" font-size="7.4" text-anchor="end" textLength="12.96" lengthAdjust="spacingAndGlyphs" stroke="#231f20" stroke-width="0.15">10.5</text>
<text x="177.1" y="697.8" font-size="7.4" text-anchor="end" textLength="12.96" lengthAdjust="spacingAndGlyphs" stroke="#231f20" stroke-width="0.15">10.0</text>
<text x="185.1" y="708.6" font-size="7.4" text-anchor="middle" textLength="7.41" lengthAdjust="spacingAndGlyphs" stroke="#231f20" stroke-width="0.15">17</text>
<text x="225.65" y="708.6" font-size="7.4" text-anchor="middle" textLength="7.41" lengthAdjust="spacingAndGlyphs" stroke="#231f20" stroke-width="0.15">24</text>
<text x="266.2" y="708.6" font-size="7.4" text-anchor="middle" textLength="7.41" lengthAdjust="spacingAndGlyphs" stroke="#231f20" stroke-width="0.15">31</text>
<text x="200.9" y="724.3" font-size="8.2" textLength="40.2" lengthAdjust="spacingAndGlyphs" stroke="#231f20" stroke-width="0.15">BMI (kg m</text>
<text x="241.3" y="720.7" font-size="5.6" textLength="6" lengthAdjust="spacingAndGlyphs" stroke="#231f20" stroke-width="0.15">−2</text>
<text x="247.1" y="724.3" font-size="8.2" stroke="#231f20" stroke-width="0.15">)</text>
<text x="161.4" y="654.45" font-size="8.6" text-anchor="middle" textLength="57" lengthAdjust="spacingAndGlyphs" transform="rotate(-90 161.4 654.45)" stroke="#231f20" stroke-width="0.15">CFB (4129-72)</text>
<circle cx="233.71" cy="652.71" r="1.3" fill="#f43c3f"/>
<circle cx="237.18" cy="652.02" r="1.3" fill="#1596b4"/>
<circle cx="213.35" cy="651.52" r="1.3" fill="#1596b4"/>
<circle cx="204.12" cy="660.14" r="1.3" fill="#1596b4"/>
<circle cx="233.71" cy="634.34" r="1.3" fill="#f43c3f"/>
<circle cx="227.25" cy="621.93" r="1.3" fill="#f43c3f"/>
<circle cx="242.84" cy="640.8" r="1.3" fill="#f43c3f"/>
<circle cx="220.8" cy="652.02" r="1.3" fill="#f43c3f"/>
<circle cx="247.11" cy="653.71" r="1.3" fill="#f43c3f"/>
<circle cx="223.78" cy="641.79" r="1.3" fill="#f43c3f"/>
<circle cx="210.37" cy="648.94" r="1.3" fill="#1596b4"/>
<circle cx="240.86" cy="636.83" r="1.3" fill="#f43c3f"/>
<circle cx="202.43" cy="651.52" r="1.3" fill="#1596b4"/>
<circle cx="224.77" cy="646.26" r="1.3" fill="#1596b4"/>
<circle cx="215.54" cy="655.2" r="1.3" fill="#1596b4"/>
<circle cx="223.78" cy="644.77" r="1.3" fill="#1596b4"/>
<circle cx="224.97" cy="637.32" r="1.3" fill="#f43c3f"/>
<circle cx="204.71" cy="647.95" r="1.3" fill="#1596b4"/>
<circle cx="216.33" cy="642.98" r="1.3" fill="#f43c3f"/>
<circle cx="211.17" cy="638.32" r="1.3" fill="#1596b4"/>
<circle cx="218.81" cy="642.78" r="1.3" fill="#1596b4"/>
<circle cx="215.04" cy="667.39" r="1.3" fill="#1596b4"/>
<circle cx="209.87" cy="644.77" r="1.3" fill="#1596b4"/>
<circle cx="239.67" cy="631.66" r="1.3" fill="#1596b4"/>
<circle cx="244.63" cy="644.57" r="1.3" fill="#f43c3f"/>
<circle cx="208.88" cy="653.71" r="1.3" fill="#1596b4"/>
<circle cx="216.03" cy="638.32" r="1.3" fill="#1596b4"/>
<circle cx="233.21" cy="638.32" r="1.3" fill="#1596b4"/>
<circle cx="234.5" cy="646.26" r="1.3" fill="#f43c3f"/>
<circle cx="239.67" cy="641.59" r="1.3" fill="#f43c3f"/>
<circle cx="197.96" cy="654.5" r="1.3" fill="#1596b4"/>
<circle cx="216.33" cy="657.66" r="1.3" fill="#1596b4"/>
<circle cx="248.11" cy="626.4" r="1.3" fill="#f43c3f"/>
<circle cx="247.11" cy="643.98" r="1.3" fill="#f43c3f"/>
<circle cx="220.3" cy="630.17" r="1.3" fill="#1596b4"/>
<circle cx="230.73" cy="641.59" r="1.3" fill="#1596b4"/>
<circle cx="238.47" cy="635.04" r="1.3" fill="#f43c3f"/>
<circle cx="221.59" cy="640.1" r="1.3" fill="#1596b4"/>
<circle cx="247.11" cy="635.04" r="1.3" fill="#f43c3f"/>
<circle cx="231.03" cy="631.66" r="1.3" fill="#f43c3f"/>
<circle cx="221.79" cy="642.78" r="1.3" fill="#1596b4"/>
<circle cx="231.42" cy="679.61" r="1.3" fill="#1596b4"/>
<circle cx="229.24" cy="640.8" r="1.3" fill="#1596b4"/>
<circle cx="227.95" cy="639.81" r="1.3" fill="#f43c3f"/>
<circle cx="214.84" cy="642.98" r="1.3" fill="#f43c3f"/>
<circle cx="199.75" cy="666.7" r="1.3" fill="#1596b4"/>
<circle cx="221.29" cy="658.65" r="1.3" fill="#1596b4"/>
<circle cx="227.25" cy="659.45" r="1.3" fill="#1596b4"/>
<circle cx="207.09" cy="635.04" r="1.3" fill="#1596b4"/>
<circle cx="245.13" cy="632.66" r="1.3" fill="#f43c3f"/>
<circle cx="234.2" cy="633.65" r="1.3" fill="#f43c3f"/>
<circle cx="219.31" cy="648.54" r="1.3" fill="#f43c3f"/>
<circle cx="232.71" cy="647.75" r="1.3" fill="#1596b4"/>
<circle cx="244.93" cy="621.93" r="1.3" fill="#f43c3f"/>
<circle cx="250.09" cy="633.35" r="1.3" fill="#f43c3f"/>
<circle cx="228.54" cy="616.47" r="1.3" fill="#f43c3f"/>
<circle cx="234.9" cy="630.87" r="1.3" fill="#f43c3f"/>
<circle cx="246.42" cy="625.41" r="1.3" fill="#f43c3f"/>
<circle cx="208.39" cy="651.23" r="1.3" fill="#1596b4"/>
<circle cx="222.29" cy="648.74" r="1.3" fill="#f43c3f"/>
<circle cx="230.73" cy="644.77" r="1.3" fill="#f43c3f"/>
<circle cx="231.72" cy="645.76" r="1.3" fill="#1596b4"/>
<circle cx="239.17" cy="647.95" r="1.3" fill="#f43c3f"/>
<circle cx="235.69" cy="626.9" r="1.3" fill="#f43c3f"/>
<circle cx="220.3" cy="645.76" r="1.3" fill="#1596b4"/>
<circle cx="201.93" cy="646.26" r="1.3" fill="#1596b4"/>
<circle cx="212.06" cy="657.66" r="1.3" fill="#1596b4"/>
<circle cx="219.81" cy="642.29" r="1.3" fill="#1596b4"/>
<circle cx="233.01" cy="626.1" r="1.3" fill="#1596b4"/>
<circle cx="217.82" cy="639.01" r="1.3" fill="#1596b4"/>
<circle cx="225.27" cy="653.71" r="1.3" fill="#f43c3f"/>
<circle cx="211.36" cy="644.77" r="1.3" fill="#1596b4"/>
<circle cx="211.86" cy="633.35" r="1.3" fill="#1596b4"/>
<circle cx="226.76" cy="633.35" r="1.3" fill="#f43c3f"/>
<circle cx="224.27" cy="656.69" r="1.3" fill="#f43c3f"/>
<circle cx="212.56" cy="628.39" r="1.3" fill="#1596b4"/>
<circle cx="248.41" cy="666.7" r="1.3" fill="#f43c3f"/>
<path d="M208.6 644.13 L212.2 643.52 L215.8 642.82 L219.4 642.01 L223 641.06 L226.6 639.94 L230.2 638.65 L233.8 637.23 L237.4 635.69 L241 634.08 L244.6 632.42 L248.2 630.72 L251.8 628.99 L255.4 627.25 L259 625.49 L262.6 623.72 L266.2 621.94" stroke="#8c8c8c" stroke-width="0.9" fill="none" stroke-dasharray="0.9 2.1"/>
<path d="M208.6 652.87 L212.2 651.27 L215.8 649.75 L219.4 648.35 L223 647.09 L226.6 646 L230.2 645.07 L233.8 644.29 L237.4 643.61 L241 643 L244.6 642.45 L248.2 641.94 L251.8 641.46 L255.4 640.99 L259 640.54 L262.6 640.1 L266.2 639.66" stroke="#8c8c8c" stroke-width="0.9" fill="none" stroke-dasharray="0.9 2.1"/>
<path d="M208.6 648.5L266.2 630.8" stroke="#111" stroke-width="1.3" fill="none"/>
<text x="234.5" y="682.5" font-size="7.1" stroke="#231f20" stroke-width="0.15"><tspan font-style="italic">R</tspan><tspan font-size="4.8" dy="-2.9">2</tspan><tspan dy="2.9"> = 0.128</tspan></text>
<text x="234.5" y="690.6" font-size="7.1" stroke="#231f20" stroke-width="0.15"><tspan font-style="italic">P</tspan> = 0.001</text>
<text x="294.7" y="604.4" font-size="12.2" fill="#000" font-weight="bold" stroke="#000" stroke-width="0.4">t</text>
<circle cx="335.4" cy="605.6" r="2.8" fill="#f43c3f"/>
<text x="341.8" y="607.9" font-size="6.6" textLength="25.5" lengthAdjust="spacingAndGlyphs" stroke="#231f20" stroke-width="0.15">Baseline</text>
<circle cx="377.9" cy="605.6" r="2.8" fill="#1596b4"/>
<text x="383.8" y="607.9" font-size="6.6" textLength="26.6" lengthAdjust="spacingAndGlyphs" stroke="#231f20" stroke-width="0.15">CR (2 yr)</text>
<path d="M331.7 614.4V695.1H412.8M327.4 614.4H331.7M328.7 634.58H331.7M327.4 654.75H331.7M328.7 674.92H331.7M327.4 695.1H331.7M331.7 695.1V699.1M351.98 695.1V697.9M372.25 695.1V699.1M392.52 695.1V697.9M412.8 695.1V699.1" stroke="#b0b0b0" stroke-width="1" fill="none"/>
<text x="323.7" y="617.1" font-size="7.4" text-anchor="end" textLength="12.96" lengthAdjust="spacingAndGlyphs" stroke="#231f20" stroke-width="0.15">11.5</text>
<text x="323.7" y="657.45" font-size="7.4" text-anchor="end" textLength="12.96" lengthAdjust="spacingAndGlyphs" stroke="#231f20" stroke-width="0.15">11.0</text>
<text x="323.7" y="697.8" font-size="7.4" text-anchor="end" textLength="12.96" lengthAdjust="spacingAndGlyphs" stroke="#231f20" stroke-width="0.15">10.5</text>
<text x="331.7" y="708.6" font-size="7.4" text-anchor="middle" textLength="7.41" lengthAdjust="spacingAndGlyphs" stroke="#231f20" stroke-width="0.15">17</text>
<text x="372.25" y="708.6" font-size="7.4" text-anchor="middle" textLength="7.41" lengthAdjust="spacingAndGlyphs" stroke="#231f20" stroke-width="0.15">24</text>
<text x="412.8" y="708.6" font-size="7.4" text-anchor="middle" textLength="7.41" lengthAdjust="spacingAndGlyphs" stroke="#231f20" stroke-width="0.15">31</text>
<text x="347.6" y="724.3" font-size="8.2" textLength="40.2" lengthAdjust="spacingAndGlyphs" stroke="#231f20" stroke-width="0.15">BMI (kg m</text>
<text x="388" y="720.7" font-size="5.6" textLength="6" lengthAdjust="spacingAndGlyphs" stroke="#231f20" stroke-width="0.15">−2</text>
<text x="393.8" y="724.3" font-size="8.2" stroke="#231f20" stroke-width="0.15">)</text>
<text x="303.3" y="654.75" font-size="8.6" text-anchor="middle" textLength="58" lengthAdjust="spacingAndGlyphs" transform="rotate(-90 303.3 654.75)" stroke="#231f20" stroke-width="0.15">CFD (2946-52)</text>
<circle cx="367" cy="637.82" r="1.3" fill="#1596b4"/>
<circle cx="376.73" cy="652.22" r="1.3" fill="#1596b4"/>
<circle cx="353.39" cy="670.17" r="1.3" fill="#1596b4"/>
<circle cx="391.13" cy="642.98" r="1.3" fill="#f43c3f"/>
<circle cx="370.77" cy="644.27" r="1.3" fill="#f43c3f"/>
<circle cx="375.74" cy="628.88" r="1.3" fill="#1596b4"/>
<circle cx="366.8" cy="655.69" r="1.3" fill="#f43c3f"/>
<circle cx="361.04" cy="638.61" r="1.3" fill="#1596b4"/>
<circle cx="370.77" cy="648.54" r="1.3" fill="#f43c3f"/>
<circle cx="357.36" cy="654.2" r="1.3" fill="#1596b4"/>
<circle cx="358.36" cy="648.54" r="1.3" fill="#1596b4"/>
<circle cx="372.26" cy="643.98" r="1.3" fill="#f43c3f"/>
<circle cx="362.83" cy="645.27" r="1.3" fill="#1596b4"/>
<circle cx="393.31" cy="665.41" r="1.3" fill="#f43c3f"/>
<circle cx="384.67" cy="635.34" r="1.3" fill="#f43c3f"/>
<circle cx="380.2" cy="632.85" r="1.3" fill="#f43c3f"/>
<circle cx="373.25" cy="652.52" r="1.3" fill="#f43c3f"/>
<circle cx="361.63" cy="664.71" r="1.3" fill="#1596b4"/>
<circle cx="374.74" cy="644.27" r="1.3" fill="#f43c3f"/>
<circle cx="367.29" cy="658.45" r="1.3" fill="#1596b4"/>
<circle cx="379.71" cy="657.16" r="1.3" fill="#1596b4"/>
<circle cx="377.03" cy="634.34" r="1.3" fill="#f43c3f"/>
<circle cx="348.43" cy="663.72" r="1.3" fill="#1596b4"/>
<circle cx="368.78" cy="659.75" r="1.3" fill="#f43c3f"/>
<circle cx="355.08" cy="657.96" r="1.3" fill="#1596b4"/>
<circle cx="379.71" cy="642.78" r="1.3" fill="#f43c3f"/>
<circle cx="366.3" cy="666.9" r="1.3" fill="#1596b4"/>
<circle cx="385.17" cy="647.75" r="1.3" fill="#f43c3f"/>
<circle cx="355.87" cy="650.73" r="1.3" fill="#1596b4"/>
<circle cx="343.96" cy="652.22" r="1.3" fill="#1596b4"/>
<circle cx="385.96" cy="662.92" r="1.3" fill="#f43c3f"/>
<circle cx="365.81" cy="662.13" r="1.3" fill="#f43c3f"/>
<circle cx="374.25" cy="650.23" r="1.3" fill="#f43c3f"/>
<circle cx="392.12" cy="629.87" r="1.3" fill="#f43c3f"/>
<circle cx="345.94" cy="666.1" r="1.3" fill="#1596b4"/>
<circle cx="348.43" cy="666.4" r="1.3" fill="#1596b4"/>
<circle cx="362.83" cy="637.82" r="1.3" fill="#f43c3f"/>
<circle cx="364.61" cy="653.91" r="1.3" fill="#1596b4"/>
<circle cx="386.66" cy="644.27" r="1.3" fill="#f43c3f"/>
<circle cx="394.6" cy="654.9" r="1.3" fill="#f43c3f"/>
<circle cx="391.13" cy="654.2" r="1.3" fill="#f43c3f"/>
<circle cx="361.14" cy="665.7" r="1.3" fill="#f43c3f"/>
<circle cx="369.78" cy="651.72" r="1.3" fill="#f43c3f"/>
<circle cx="358.85" cy="660.74" r="1.3" fill="#1596b4"/>
<circle cx="385.96" cy="675.04" r="1.3" fill="#1596b4"/>
<circle cx="381.69" cy="642.78" r="1.3" fill="#f43c3f"/>
<circle cx="375.24" cy="648.54" r="1.3" fill="#1596b4"/>
<circle cx="371.27" cy="646.76" r="1.3" fill="#f43c3f"/>
<circle cx="377.72" cy="666.9" r="1.3" fill="#1596b4"/>
<circle cx="357.86" cy="667.69" r="1.3" fill="#1596b4"/>
<circle cx="377.42" cy="636.33" r="1.3" fill="#f43c3f"/>
<circle cx="371.27" cy="658.16" r="1.3" fill="#1596b4"/>
<circle cx="363.82" cy="652.22" r="1.3" fill="#1596b4"/>
<circle cx="393.41" cy="659.75" r="1.3" fill="#f43c3f"/>
<circle cx="356.57" cy="675.04" r="1.3" fill="#1596b4"/>
<circle cx="379.21" cy="656.69" r="1.3" fill="#1596b4"/>
<circle cx="365.01" cy="646.76" r="1.3" fill="#1596b4"/>
<circle cx="379.21" cy="634.64" r="1.3" fill="#1596b4"/>
<circle cx="383.18" cy="645.96" r="1.3" fill="#1596b4"/>
<circle cx="367.49" cy="676.63" r="1.3" fill="#1596b4"/>
<circle cx="350.41" cy="680.8" r="1.3" fill="#1596b4"/>
<circle cx="363.62" cy="656.19" r="1.3" fill="#f43c3f"/>
<circle cx="396.59" cy="641.79" r="1.3" fill="#f43c3f"/>
<circle cx="389.14" cy="665.41" r="1.3" fill="#f43c3f"/>
<circle cx="362.33" cy="644.27" r="1.3" fill="#1596b4"/>
<circle cx="371.27" cy="692.22" r="1.3" fill="#1596b4"/>
<circle cx="373.55" cy="662.92" r="1.3" fill="#1596b4"/>
<circle cx="394.8" cy="673.35" r="1.3" fill="#f43c3f"/>
<circle cx="380.9" cy="658.95" r="1.3" fill="#f43c3f"/>
<circle cx="378.71" cy="652.71" r="1.3" fill="#1596b4"/>
<circle cx="350.91" cy="639.51" r="1.3" fill="#1596b4"/>
<circle cx="394.41" cy="627.09" r="1.3" fill="#f43c3f"/>
<circle cx="378.22" cy="649.54" r="1.3" fill="#1596b4"/>
<circle cx="358.16" cy="644.27" r="1.3" fill="#1596b4"/>
<circle cx="359.85" cy="656.19" r="1.3" fill="#1596b4"/>
<circle cx="354.39" cy="649.93" r="1.3" fill="#1596b4"/>
<circle cx="393.11" cy="641" r="1.3" fill="#f43c3f"/>
<path d="M354.5 652.83 L358.14 652.36 L361.79 651.81 L365.43 651.15 L369.07 650.35 L372.72 649.38 L376.36 648.23 L380.01 646.94 L383.65 645.54 L387.29 644.05 L390.94 642.51 L394.58 640.93 L398.23 639.32 L401.87 637.7 L405.51 636.05 L409.16 634.4 L412.8 632.74" stroke="#8c8c8c" stroke-width="0.9" fill="none" stroke-dasharray="0.9 2.1"/>
<path d="M354.5 661.77 L358.14 660.28 L361.79 658.87 L365.43 657.56 L369.07 656.4 L372.72 655.41 L376.36 654.59 L380.01 653.92 L383.65 653.36 L387.29 652.88 L390.94 652.46 L394.58 652.08 L398.23 651.73 L401.87 651.39 L405.51 651.07 L409.16 650.76 L412.8 650.46" stroke="#8c8c8c" stroke-width="0.9" fill="none" stroke-dasharray="0.9 2.1"/>
<path d="M354.5 657.3L412.8 641.6" stroke="#111" stroke-width="1.3" fill="none"/>
<text x="381.1" y="682.5" font-size="7.1" stroke="#231f20" stroke-width="0.15"><tspan font-style="italic">R</tspan><tspan font-size="4.8" dy="-2.9">2</tspan><tspan dy="2.9"> = 0.082</tspan></text>
<text x="381.1" y="690.6" font-size="7.1" stroke="#231f20" stroke-width="0.15"><tspan font-style="italic">P</tspan> = 0.009</text>
<text x="434.1" y="604.4" font-size="12.2" fill="#000" font-weight="bold" stroke="#000" stroke-width="0.4">u</text>
<circle cx="475.2" cy="605.6" r="2.8" fill="#f43c3f"/>
<text x="481.6" y="607.9" font-size="6.6" textLength="25.5" lengthAdjust="spacingAndGlyphs" stroke="#231f20" stroke-width="0.15">Baseline</text>
<circle cx="518.1" cy="605.6" r="2.8" fill="#1596b4"/>
<text x="524" y="607.9" font-size="6.6" textLength="26.6" lengthAdjust="spacingAndGlyphs" stroke="#231f20" stroke-width="0.15">CR (2 yr)</text>
<path d="M471.1 613.4V694.5H552.8M466.8 613.4H471.1M468.1 633.67H471.1M466.8 653.95H471.1M468.1 674.23H471.1M466.8 694.5H471.1M471.1 694.5V698.5M491.52 694.5V697.3M511.95 694.5V698.5M532.38 694.5V697.3M552.8 694.5V698.5" stroke="#b0b0b0" stroke-width="1" fill="none"/>
<text x="463.1" y="616.1" font-size="7.4" text-anchor="end" textLength="12.96" lengthAdjust="spacingAndGlyphs" stroke="#231f20" stroke-width="0.15">11.2</text>
<text x="463.1" y="656.65" font-size="7.4" text-anchor="end" textLength="12.96" lengthAdjust="spacingAndGlyphs" stroke="#231f20" stroke-width="0.15">10.7</text>
<text x="463.1" y="697.2" font-size="7.4" text-anchor="end" textLength="12.96" lengthAdjust="spacingAndGlyphs" stroke="#231f20" stroke-width="0.15">10.2</text>
<text x="471.1" y="708" font-size="7.4" text-anchor="middle" textLength="7.41" lengthAdjust="spacingAndGlyphs" stroke="#231f20" stroke-width="0.15">17</text>
<text x="511.95" y="708" font-size="7.4" text-anchor="middle" textLength="7.41" lengthAdjust="spacingAndGlyphs" stroke="#231f20" stroke-width="0.15">24</text>
<text x="552.8" y="708" font-size="7.4" text-anchor="middle" textLength="7.41" lengthAdjust="spacingAndGlyphs" stroke="#231f20" stroke-width="0.15">31</text>
<text x="487.6" y="723.7" font-size="8.2" textLength="40.2" lengthAdjust="spacingAndGlyphs" stroke="#231f20" stroke-width="0.15">BMI (kg m</text>
<text x="528" y="720.1" font-size="5.6" textLength="6" lengthAdjust="spacingAndGlyphs" stroke="#231f20" stroke-width="0.15">−2</text>
<text x="533.8" y="723.7" font-size="8.2" stroke="#231f20" stroke-width="0.15">)</text>
<text x="442.1" y="653.95" font-size="8.6" text-anchor="middle" textLength="53" lengthAdjust="spacingAndGlyphs" transform="rotate(-90 442.1 653.95)" stroke="#231f20" stroke-width="0.15">C5 (2381-52)</text>
<circle cx="485.94" cy="658.16" r="1.3" fill="#1596b4"/>
<circle cx="496.37" cy="652.71" r="1.3" fill="#1596b4"/>
<circle cx="520.7" cy="656.69" r="1.3" fill="#f43c3f"/>
<circle cx="501.83" cy="656.69" r="1.3" fill="#1596b4"/>
<circle cx="532.12" cy="649.24" r="1.3" fill="#f43c3f"/>
<circle cx="505.01" cy="653.91" r="1.3" fill="#1596b4"/>
<circle cx="524.67" cy="648.25" r="1.3" fill="#f43c3f"/>
<circle cx="501.04" cy="670.07" r="1.3" fill="#1596b4"/>
<circle cx="502.63" cy="652.91" r="1.3" fill="#f43c3f"/>
<circle cx="503.82" cy="661.43" r="1.3" fill="#f43c3f"/>
<circle cx="497.36" cy="648.94" r="1.3" fill="#1596b4"/>
<circle cx="515.74" cy="645.76" r="1.3" fill="#1596b4"/>
<circle cx="501.04" cy="646.76" r="1.3" fill="#f43c3f"/>
<circle cx="513.25" cy="661.93" r="1.3" fill="#1596b4"/>
<circle cx="517.52" cy="647.75" r="1.3" fill="#f43c3f"/>
<circle cx="525.67" cy="656.19" r="1.3" fill="#f43c3f"/>
<circle cx="507.29" cy="664.91" r="1.3" fill="#1596b4"/>
<circle cx="519.51" cy="675.04" r="1.3" fill="#1596b4"/>
<circle cx="502.33" cy="657.46" r="1.3" fill="#1596b4"/>
<circle cx="514.54" cy="627.39" r="1.3" fill="#f43c3f"/>
<circle cx="487.93" cy="660.44" r="1.3" fill="#1596b4"/>
<circle cx="498.36" cy="646.76" r="1.3" fill="#1596b4"/>
<circle cx="499.55" cy="642.59" r="1.3" fill="#1596b4"/>
<circle cx="533.31" cy="658.95" r="1.3" fill="#f43c3f"/>
<circle cx="501.83" cy="661.93" r="1.3" fill="#1596b4"/>
<circle cx="510.77" cy="661.93" r="1.3" fill="#f43c3f"/>
<circle cx="514.54" cy="652.22" r="1.3" fill="#f43c3f"/>
<circle cx="523.48" cy="661.43" r="1.3" fill="#1596b4"/>
<circle cx="495.87" cy="653.21" r="1.3" fill="#1596b4"/>
<circle cx="519.71" cy="652.22" r="1.3" fill="#f43c3f"/>
<circle cx="533.41" cy="649.93" r="1.3" fill="#f43c3f"/>
<circle cx="534.8" cy="643.58" r="1.3" fill="#f43c3f"/>
<circle cx="536.39" cy="648.94" r="1.3" fill="#f43c3f"/>
<circle cx="501.83" cy="659.94" r="1.3" fill="#1596b4"/>
<circle cx="534.11" cy="638.61" r="1.3" fill="#f43c3f"/>
<circle cx="525.86" cy="644.27" r="1.3" fill="#1596b4"/>
<circle cx="518.91" cy="658.16" r="1.3" fill="#1596b4"/>
<circle cx="531.13" cy="636.83" r="1.3" fill="#f43c3f"/>
<circle cx="530.93" cy="665.9" r="1.3" fill="#f43c3f"/>
<circle cx="497.86" cy="661.93" r="1.3" fill="#1596b4"/>
<circle cx="517.52" cy="670.07" r="1.3" fill="#1596b4"/>
<circle cx="511.27" cy="649.93" r="1.3" fill="#1596b4"/>
<circle cx="519.21" cy="649.93" r="1.3" fill="#1596b4"/>
<circle cx="505.81" cy="645.96" r="1.3" fill="#f43c3f"/>
<circle cx="494.39" cy="683.98" r="1.3" fill="#1596b4"/>
<circle cx="509.58" cy="656.19" r="1.3" fill="#f43c3f"/>
<circle cx="495.08" cy="656.97" r="1.3" fill="#1596b4"/>
<circle cx="534.6" cy="663.72" r="1.3" fill="#f43c3f"/>
<circle cx="488.43" cy="656.69" r="1.3" fill="#1596b4"/>
<circle cx="520.2" cy="645.76" r="1.3" fill="#f43c3f"/>
<circle cx="490.91" cy="661.43" r="1.3" fill="#1596b4"/>
<circle cx="529.14" cy="656.19" r="1.3" fill="#f43c3f"/>
<circle cx="504.81" cy="657.46" r="1.3" fill="#f43c3f"/>
<circle cx="510.77" cy="659.94" r="1.3" fill="#1596b4"/>
<circle cx="526.16" cy="654.2" r="1.3" fill="#f43c3f"/>
<circle cx="505.81" cy="661.73" r="1.3" fill="#1596b4"/>
<circle cx="483.76" cy="660.44" r="1.3" fill="#1596b4"/>
<circle cx="513.55" cy="643.58" r="1.3" fill="#f43c3f"/>
<circle cx="520.7" cy="658.16" r="1.3" fill="#f43c3f"/>
<circle cx="515.24" cy="658.16" r="1.3" fill="#1596b4"/>
<circle cx="504.02" cy="662.43" r="1.3" fill="#1596b4"/>
<circle cx="506.5" cy="644.27" r="1.3" fill="#1596b4"/>
<circle cx="521.69" cy="651.52" r="1.3" fill="#f43c3f"/>
<circle cx="512.96" cy="644.97" r="1.3" fill="#f43c3f"/>
<circle cx="494.88" cy="656.69" r="1.3" fill="#1596b4"/>
<circle cx="493.39" cy="651.52" r="1.3" fill="#1596b4"/>
<circle cx="510.77" cy="652.22" r="1.3" fill="#f43c3f"/>
<circle cx="506.8" cy="659.45" r="1.3" fill="#1596b4"/>
<circle cx="490.21" cy="669.38" r="1.3" fill="#1596b4"/>
<circle cx="530.93" cy="664.91" r="1.3" fill="#f43c3f"/>
<circle cx="498.36" cy="664.71" r="1.3" fill="#1596b4"/>
<circle cx="518.22" cy="665.9" r="1.3" fill="#1596b4"/>
<circle cx="516.93" cy="661.93" r="1.3" fill="#1596b4"/>
<path d="M494.6 653.99 L498.24 653.95 L501.88 653.84 L505.51 653.61 L509.15 653.23 L512.79 652.69 L516.42 651.97 L520.06 651.11 L523.7 650.14 L527.34 649.09 L530.98 647.99 L534.61 646.86 L538.25 645.69 L541.89 644.51 L545.52 643.31 L549.16 642.1 L552.8 640.88" stroke="#8c8c8c" stroke-width="0.9" fill="none" stroke-dasharray="0.9 2.1"/>
<path d="M494.6 662.81 L498.24 661.77 L501.88 660.81 L505.51 659.97 L509.15 659.27 L512.79 658.74 L516.42 658.38 L520.06 658.17 L523.7 658.06 L527.34 658.03 L530.98 658.06 L534.61 658.12 L538.25 658.21 L541.89 658.32 L545.52 658.44 L549.16 658.58 L552.8 658.72" stroke="#8c8c8c" stroke-width="0.9" fill="none" stroke-dasharray="0.9 2.1"/>
<path d="M494.6 658.4L552.8 649.8" stroke="#111" stroke-width="1.3" fill="none"/>
<text x="521.2" y="681.9" font-size="7.1" stroke="#231f20" stroke-width="0.15"><tspan font-style="italic">R</tspan><tspan font-size="4.8" dy="-2.9">2</tspan><tspan dy="2.9"> = 0.048</tspan></text>
<text x="521.2" y="690" font-size="7.1" stroke="#231f20" stroke-width="0.15"><tspan font-style="italic">P</tspan> = 0.048</text>
<text x="0" y="742.4" font-size="12.2" fill="#000" font-weight="bold" stroke="#000" stroke-width="0.4">v</text>
<circle cx="43.9" cy="743.4" r="2.8" fill="#f43c3f"/>
<text x="50.3" y="745.7" font-size="6.6" textLength="25.5" lengthAdjust="spacingAndGlyphs" stroke="#231f20" stroke-width="0.15">Baseline</text>
<circle cx="87.5" cy="743.4" r="2.8" fill="#1596b4"/>
<text x="93.4" y="745.7" font-size="6.6" textLength="26.6" lengthAdjust="spacingAndGlyphs" stroke="#231f20" stroke-width="0.15">CR (2 yr)</text>
<path d="M41.5 751.6V832.7H122.2M37.2 751.6H41.5M38.5 771.88H41.5M37.2 792.15H41.5M38.5 812.43H41.5M37.2 832.7H41.5M41.5 832.7V836.7M61.67 832.7V835.5M81.85 832.7V836.7M102.03 832.7V835.5M122.2 832.7V836.7" stroke="#b0b0b0" stroke-width="1" fill="none"/>
<text x="33.5" y="754.3" font-size="7.4" text-anchor="end" textLength="12.96" lengthAdjust="spacingAndGlyphs" stroke="#231f20" stroke-width="0.15">10.6</text>
<text x="33.5" y="794.85" font-size="7.4" text-anchor="end" textLength="12.96" lengthAdjust="spacingAndGlyphs" stroke="#231f20" stroke-width="0.15">10.1</text>
<text x="33.5" y="835.4" font-size="7.4" text-anchor="end" textLength="9.26" lengthAdjust="spacingAndGlyphs" stroke="#231f20" stroke-width="0.15">9.6</text>
<text x="41.5" y="846.2" font-size="7.4" text-anchor="middle" textLength="7.41" lengthAdjust="spacingAndGlyphs" stroke="#231f20" stroke-width="0.15">17</text>
<text x="81.85" y="846.2" font-size="7.4" text-anchor="middle" textLength="7.41" lengthAdjust="spacingAndGlyphs" stroke="#231f20" stroke-width="0.15">24</text>
<text x="122.2" y="846.2" font-size="7.4" text-anchor="middle" textLength="7.41" lengthAdjust="spacingAndGlyphs" stroke="#231f20" stroke-width="0.15">31</text>
<text x="57.4" y="861.9" font-size="8.2" textLength="40.2" lengthAdjust="spacingAndGlyphs" stroke="#231f20" stroke-width="0.15">BMI (kg m</text>
<text x="97.8" y="858.3" font-size="5.6" textLength="6" lengthAdjust="spacingAndGlyphs" stroke="#231f20" stroke-width="0.15">−2</text>
<text x="103.6" y="861.9" font-size="8.2" stroke="#231f20" stroke-width="0.15">)</text>
<text x="11.9" y="792.15" font-size="8.6" text-anchor="middle" textLength="57" lengthAdjust="spacingAndGlyphs" transform="rotate(-90 11.9 792.15)" stroke="#231f20" stroke-width="0.15">C1s (8840-61)</text>
<circle cx="82.26" cy="774.64" r="1.3" fill="#f43c3f"/>
<circle cx="78.78" cy="769.87" r="1.3" fill="#f43c3f"/>
<circle cx="89.51" cy="820" r="1.3" fill="#f43c3f"/>
<circle cx="75.61" cy="771.86" r="1.3" fill="#1596b4"/>
<circle cx="64.39" cy="786.76" r="1.3" fill="#1596b4"/>
<circle cx="89.51" cy="768.39" r="1.3" fill="#f43c3f"/>
<circle cx="76.6" cy="798.16" r="1.3" fill="#f43c3f"/>
<circle cx="90.2" cy="767.09" r="1.3" fill="#f43c3f"/>
<circle cx="67.36" cy="795.5" r="1.3" fill="#1596b4"/>
<circle cx="86.23" cy="766.9" r="1.3" fill="#f43c3f"/>
<circle cx="83.75" cy="757.66" r="1.3" fill="#f43c3f"/>
<circle cx="65.87" cy="775.34" r="1.3" fill="#1596b4"/>
<circle cx="62.7" cy="773.65" r="1.3" fill="#1596b4"/>
<circle cx="57.43" cy="782.78" r="1.3" fill="#1596b4"/>
<circle cx="100.14" cy="789.93" r="1.3" fill="#f43c3f"/>
<circle cx="83.55" cy="771.36" r="1.3" fill="#f43c3f"/>
<circle cx="88.91" cy="774.64" r="1.3" fill="#f43c3f"/>
<circle cx="102.82" cy="781.79" r="1.3" fill="#f43c3f"/>
<circle cx="95.47" cy="791.72" r="1.3" fill="#f43c3f"/>
<circle cx="102.62" cy="789.54" r="1.3" fill="#f43c3f"/>
<circle cx="90.7" cy="775.34" r="1.3" fill="#f43c3f"/>
<circle cx="66.57" cy="763.22" r="1.3" fill="#1596b4"/>
<circle cx="79.98" cy="777.02" r="1.3" fill="#f43c3f"/>
<circle cx="80.97" cy="786.76" r="1.3" fill="#f43c3f"/>
<circle cx="100.63" cy="774.64" r="1.3" fill="#f43c3f"/>
<circle cx="70.34" cy="783.78" r="1.3" fill="#f43c3f"/>
<circle cx="82.76" cy="810.17" r="1.3" fill="#1596b4"/>
<circle cx="94.47" cy="767.89" r="1.3" fill="#f43c3f"/>
<circle cx="105.6" cy="781" r="1.3" fill="#f43c3f"/>
<circle cx="92.69" cy="792.91" r="1.3" fill="#1596b4"/>
<circle cx="96.16" cy="771.36" r="1.3" fill="#f43c3f"/>
<circle cx="67.86" cy="767.89" r="1.3" fill="#1596b4"/>
<circle cx="86.23" cy="794.2" r="1.3" fill="#1596b4"/>
<circle cx="86.23" cy="764.91" r="1.3" fill="#f43c3f"/>
<circle cx="80.27" cy="789.24" r="1.3" fill="#1596b4"/>
<circle cx="102.42" cy="810.87" r="1.3" fill="#f43c3f"/>
<circle cx="83.75" cy="770.37" r="1.3" fill="#f43c3f"/>
<circle cx="70.84" cy="770.67" r="1.3" fill="#1596b4"/>
<circle cx="60.12" cy="799.65" r="1.3" fill="#1596b4"/>
<circle cx="53.16" cy="802.92" r="1.3" fill="#1596b4"/>
<circle cx="88.91" cy="764.91" r="1.3" fill="#f43c3f"/>
<circle cx="72.83" cy="773.35" r="1.3" fill="#f43c3f"/>
<circle cx="59.42" cy="779.31" r="1.3" fill="#1596b4"/>
<circle cx="87.72" cy="775.34" r="1.3" fill="#1596b4"/>
<circle cx="76.8" cy="779.31" r="1.3" fill="#1596b4"/>
<circle cx="76.3" cy="781" r="1.3" fill="#1596b4"/>
<circle cx="104.11" cy="771.36" r="1.3" fill="#f43c3f"/>
<circle cx="80.57" cy="791.52" r="1.3" fill="#1596b4"/>
<circle cx="84.94" cy="780.3" r="1.3" fill="#1596b4"/>
<circle cx="67.56" cy="769.87" r="1.3" fill="#1596b4"/>
<circle cx="65.08" cy="800.74" r="1.3" fill="#1596b4"/>
<circle cx="74.32" cy="785.96" r="1.3" fill="#1596b4"/>
<circle cx="73.62" cy="776.63" r="1.3" fill="#1596b4"/>
<circle cx="74.32" cy="778.02" r="1.3" fill="#1596b4"/>
<circle cx="74.61" cy="805.41" r="1.3" fill="#f43c3f"/>
<circle cx="54.95" cy="778.02" r="1.3" fill="#1596b4"/>
<circle cx="70.64" cy="782.78" r="1.3" fill="#1596b4"/>
<circle cx="63.69" cy="806.9" r="1.3" fill="#1596b4"/>
<circle cx="100.14" cy="785.96" r="1.3" fill="#f43c3f"/>
<circle cx="76.8" cy="789.24" r="1.3" fill="#1596b4"/>
<circle cx="84.54" cy="798.16" r="1.3" fill="#1596b4"/>
<circle cx="98.15" cy="776.03" r="1.3" fill="#f43c3f"/>
<circle cx="71.63" cy="771.86" r="1.3" fill="#1596b4"/>
<circle cx="101.62" cy="811.66" r="1.3" fill="#f43c3f"/>
<circle cx="93.88" cy="775.34" r="1.3" fill="#f43c3f"/>
<circle cx="79.78" cy="785.96" r="1.3" fill="#f43c3f"/>
<circle cx="82.56" cy="764.91" r="1.3" fill="#f43c3f"/>
<circle cx="88.52" cy="783.78" r="1.3" fill="#1596b4"/>
<circle cx="71.83" cy="822.29" r="1.3" fill="#1596b4"/>
<circle cx="57.93" cy="779.31" r="1.3" fill="#1596b4"/>
<circle cx="87.23" cy="783.78" r="1.3" fill="#1596b4"/>
<circle cx="88.22" cy="815.14" r="1.3" fill="#1596b4"/>
<circle cx="67.07" cy="789.93" r="1.3" fill="#1596b4"/>
<circle cx="68.85" cy="775.83" r="1.3" fill="#1596b4"/>
<circle cx="103.61" cy="775.34" r="1.3" fill="#f43c3f"/>
<circle cx="76.3" cy="778.02" r="1.3" fill="#1596b4"/>
<circle cx="77.79" cy="774.64" r="1.3" fill="#f43c3f"/>
<circle cx="104.11" cy="786.76" r="1.3" fill="#f43c3f"/>
<circle cx="72.83" cy="774.64" r="1.3" fill="#1596b4"/>
<circle cx="95.17" cy="772.85" r="1.3" fill="#1596b4"/>
<circle cx="87.72" cy="782.78" r="1.3" fill="#1596b4"/>
<circle cx="75.01" cy="790.73" r="1.3" fill="#f43c3f"/>
<circle cx="71.83" cy="792.91" r="1.3" fill="#f43c3f"/>
<path d="M64.4 777.76 L68.01 778.4 L71.62 778.93 L75.24 779.3 L78.85 779.44 L82.46 779.28 L86.08 778.84 L89.69 778.16 L93.3 777.32 L96.91 776.37 L100.53 775.35 L104.14 774.29 L107.75 773.19 L111.36 772.07 L114.97 770.94 L118.59 769.79 L122.2 768.64" stroke="#8c8c8c" stroke-width="0.9" fill="none" stroke-dasharray="0.9 2.1"/>
<path d="M64.4 789.64 L68.01 788.69 L71.62 787.85 L75.24 787.16 L78.85 786.71 L82.46 786.55 L86.08 786.69 L89.69 787.05 L93.3 787.58 L96.91 788.22 L100.53 788.92 L104.14 789.67 L107.75 790.46 L111.36 791.26 L114.97 792.08 L118.59 792.92 L122.2 793.76" stroke="#8c8c8c" stroke-width="0.9" fill="none" stroke-dasharray="0.9 2.1"/>
<path d="M64.4 783.7L122.2 781.2" stroke="#111" stroke-width="1.3" fill="none"/>
<text x="92" y="820.1" font-size="7.1" stroke="#231f20" stroke-width="0.15"><tspan font-style="italic">R</tspan><tspan font-size="4.8" dy="-2.9">2</tspan><tspan dy="2.9"> = 0.002</tspan></text>
<text x="92" y="828.2" font-size="7.1" stroke="#231f20" stroke-width="0.15"><tspan font-style="italic">P</tspan> = 0.727</text>
<text x="154.1" y="742.4" font-size="12.2" fill="#000" font-weight="bold" stroke="#000" stroke-width="0.4">w</text>
<circle cx="193.2" cy="743.4" r="2.8" fill="#f43c3f"/>
<text x="199.6" y="745.7" font-size="6.6" textLength="25.5" lengthAdjust="spacingAndGlyphs" stroke="#231f20" stroke-width="0.15">Baseline</text>
<circle cx="236.2" cy="743.4" r="2.8" fill="#1596b4"/>
<text x="242.1" y="745.7" font-size="6.6" textLength="26.6" lengthAdjust="spacingAndGlyphs" stroke="#231f20" stroke-width="0.15">CR (2 yr)</text>
<path d="M189.8 751.6V832.7H270.9M185.5 751.6H189.8M186.8 765.12H189.8M185.5 778.63H189.8M186.8 792.15H189.8M185.5 805.67H189.8M186.8 819.18H189.8M185.5 832.7H189.8M189.8 832.7V836.7M210.07 832.7V835.5M230.35 832.7V836.7M250.62 832.7V835.5M270.9 832.7V836.7" stroke="#b0b0b0" stroke-width="1" fill="none"/>
<text x="181.8" y="754.3" font-size="7.4" text-anchor="end" textLength="12.96" lengthAdjust="spacingAndGlyphs" stroke="#231f20" stroke-width="0.15">13.0</text>
<text x="181.8" y="781.33" font-size="7.4" text-anchor="end" textLength="12.96" lengthAdjust="spacingAndGlyphs" stroke="#231f20" stroke-width="0.15">12.5</text>
<text x="181.8" y="808.37" font-size="7.4" text-anchor="end" textLength="12.96" lengthAdjust="spacingAndGlyphs" stroke="#231f20" stroke-width="0.15">12.0</text>
<text x="181.8" y="835.4" font-size="7.4" text-anchor="end" textLength="12.96" lengthAdjust="spacingAndGlyphs" stroke="#231f20" stroke-width="0.15">11.5</text>
<text x="189.8" y="846.2" font-size="7.4" text-anchor="middle" textLength="7.41" lengthAdjust="spacingAndGlyphs" stroke="#231f20" stroke-width="0.15">17</text>
<text x="230.35" y="846.2" font-size="7.4" text-anchor="middle" textLength="7.41" lengthAdjust="spacingAndGlyphs" stroke="#231f20" stroke-width="0.15">24</text>
<text x="270.9" y="846.2" font-size="7.4" text-anchor="middle" textLength="7.41" lengthAdjust="spacingAndGlyphs" stroke="#231f20" stroke-width="0.15">31</text>
<text x="205.9" y="861.9" font-size="8.2" textLength="40.2" lengthAdjust="spacingAndGlyphs" stroke="#231f20" stroke-width="0.15">BMI (kg m</text>
<text x="246.3" y="858.3" font-size="5.6" textLength="6" lengthAdjust="spacingAndGlyphs" stroke="#231f20" stroke-width="0.15">−2</text>
<text x="252.1" y="861.9" font-size="8.2" stroke="#231f20" stroke-width="0.15">)</text>
<text x="162.2" y="792.15" font-size="8.6" text-anchor="middle" textLength="54" lengthAdjust="spacingAndGlyphs" transform="rotate(-90 162.2 792.15)" stroke="#231f20" stroke-width="0.15">C3a (4900-8)</text>
<circle cx="249.13" cy="774.64" r="1.3" fill="#f43c3f"/>
<circle cx="224.5" cy="760.64" r="1.3" fill="#1596b4"/>
<circle cx="231.75" cy="800.74" r="1.3" fill="#1596b4"/>
<circle cx="233.93" cy="781.59" r="1.3" fill="#1596b4"/>
<circle cx="213.08" cy="802.92" r="1.3" fill="#1596b4"/>
<circle cx="249.33" cy="782.78" r="1.3" fill="#f43c3f"/>
<circle cx="254.59" cy="790.23" r="1.3" fill="#f43c3f"/>
<circle cx="236.91" cy="805.9" r="1.3" fill="#1596b4"/>
<circle cx="237.71" cy="787.25" r="1.3" fill="#1596b4"/>
<circle cx="211.69" cy="791.23" r="1.3" fill="#1596b4"/>
<circle cx="239.69" cy="792.71" r="1.3" fill="#f43c3f"/>
<circle cx="251.61" cy="792.91" r="1.3" fill="#f43c3f"/>
<circle cx="215.86" cy="795.69" r="1.3" fill="#1596b4"/>
<circle cx="235.52" cy="799.15" r="1.3" fill="#1596b4"/>
<circle cx="220.33" cy="786.96" r="1.3" fill="#1596b4"/>
<circle cx="220.63" cy="799.45" r="1.3" fill="#1596b4"/>
<circle cx="247.14" cy="790.73" r="1.3" fill="#f43c3f"/>
<circle cx="222.81" cy="796.19" r="1.3" fill="#1596b4"/>
<circle cx="231.25" cy="794.9" r="1.3" fill="#f43c3f"/>
<circle cx="217.65" cy="767.09" r="1.3" fill="#1596b4"/>
<circle cx="235.52" cy="775.34" r="1.3" fill="#f43c3f"/>
<circle cx="214.87" cy="792.22" r="1.3" fill="#1596b4"/>
<circle cx="206.43" cy="791.23" r="1.3" fill="#1596b4"/>
<circle cx="212.39" cy="781.59" r="1.3" fill="#1596b4"/>
<circle cx="224" cy="771.36" r="1.3" fill="#f43c3f"/>
<circle cx="233.24" cy="793.91" r="1.3" fill="#1596b4"/>
<circle cx="235.72" cy="805.9" r="1.3" fill="#1596b4"/>
<circle cx="219.83" cy="767.69" r="1.3" fill="#1596b4"/>
<circle cx="208.61" cy="774.64" r="1.3" fill="#1596b4"/>
<circle cx="230.96" cy="776.03" r="1.3" fill="#f43c3f"/>
<circle cx="229.27" cy="804.71" r="1.3" fill="#1596b4"/>
<circle cx="225.79" cy="799.15" r="1.3" fill="#1596b4"/>
<circle cx="225.59" cy="803.92" r="1.3" fill="#1596b4"/>
<circle cx="249.13" cy="780" r="1.3" fill="#f43c3f"/>
<circle cx="238.9" cy="782.78" r="1.3" fill="#f43c3f"/>
<circle cx="244.86" cy="765.9" r="1.3" fill="#f43c3f"/>
<circle cx="241.68" cy="793.71" r="1.3" fill="#1596b4"/>
<circle cx="215.86" cy="802.72" r="1.3" fill="#1596b4"/>
<circle cx="238.2" cy="790.23" r="1.3" fill="#f43c3f"/>
<circle cx="232.94" cy="771.86" r="1.3" fill="#f43c3f"/>
<circle cx="225.29" cy="769.08" r="1.3" fill="#1596b4"/>
<circle cx="251.11" cy="794.7" r="1.3" fill="#f43c3f"/>
<circle cx="213.87" cy="782.59" r="1.3" fill="#1596b4"/>
<circle cx="216.36" cy="794.2" r="1.3" fill="#1596b4"/>
<circle cx="221.82" cy="774.05" r="1.3" fill="#f43c3f"/>
<circle cx="230.26" cy="779.01" r="1.3" fill="#f43c3f"/>
<circle cx="235.23" cy="788.74" r="1.3" fill="#f43c3f"/>
<circle cx="221.02" cy="772.36" r="1.3" fill="#f43c3f"/>
<circle cx="203.94" cy="806.4" r="1.3" fill="#1596b4"/>
<circle cx="209.11" cy="792.91" r="1.3" fill="#1596b4"/>
<circle cx="206.72" cy="776.33" r="1.3" fill="#1596b4"/>
<circle cx="250.42" cy="778.02" r="1.3" fill="#f43c3f"/>
<circle cx="252.8" cy="798.95" r="1.3" fill="#f43c3f"/>
<circle cx="244.16" cy="801.14" r="1.3" fill="#f43c3f"/>
<circle cx="224.8" cy="786.96" r="1.3" fill="#1596b4"/>
<circle cx="252.41" cy="764.41" r="1.3" fill="#f43c3f"/>
<circle cx="225.59" cy="789.74" r="1.3" fill="#f43c3f"/>
<circle cx="219.34" cy="793.51" r="1.3" fill="#1596b4"/>
<circle cx="237.41" cy="772.56" r="1.3" fill="#1596b4"/>
<circle cx="228.97" cy="780.3" r="1.3" fill="#f43c3f"/>
<circle cx="229.07" cy="767.09" r="1.3" fill="#f43c3f"/>
<circle cx="219.04" cy="788.74" r="1.3" fill="#f43c3f"/>
<circle cx="232.74" cy="778.02" r="1.3" fill="#f43c3f"/>
<circle cx="244.16" cy="781" r="1.3" fill="#1596b4"/>
<circle cx="238.7" cy="770.07" r="1.3" fill="#f43c3f"/>
<circle cx="242.87" cy="769.87" r="1.3" fill="#f43c3f"/>
<circle cx="227.78" cy="791.52" r="1.3" fill="#f43c3f"/>
<circle cx="223.31" cy="791.72" r="1.3" fill="#1596b4"/>
<circle cx="226.78" cy="795.69" r="1.3" fill="#f43c3f"/>
<circle cx="232.74" cy="786.56" r="1.3" fill="#f43c3f"/>
<circle cx="243.47" cy="794.7" r="1.3" fill="#f43c3f"/>
<circle cx="229.76" cy="789.24" r="1.3" fill="#1596b4"/>
<circle cx="252.8" cy="776.63" r="1.3" fill="#f43c3f"/>
<circle cx="202.16" cy="785.96" r="1.3" fill="#1596b4"/>
<circle cx="223.61" cy="782.78" r="1.3" fill="#f43c3f"/>
<circle cx="236.52" cy="790.93" r="1.3" fill="#1596b4"/>
<circle cx="216.36" cy="783.58" r="1.3" fill="#1596b4"/>
<path d="M213.3 782.15 L216.9 782.63 L220.5 783.01 L224.1 783.21 L227.7 783.17 L231.3 782.85 L234.9 782.24 L238.5 781.4 L242.1 780.41 L245.7 779.31 L249.3 778.15 L252.9 776.94 L256.5 775.7 L260.1 774.44 L263.7 773.16 L267.3 771.88 L270.9 770.58" stroke="#8c8c8c" stroke-width="0.9" fill="none" stroke-dasharray="0.9 2.1"/>
<path d="M213.3 793.85 L216.9 792.77 L220.5 791.79 L224.1 790.99 L227.7 790.43 L231.3 790.15 L234.9 790.16 L238.5 790.4 L242.1 790.79 L245.7 791.29 L249.3 791.85 L252.9 792.46 L256.5 793.1 L260.1 793.76 L263.7 794.44 L267.3 795.12 L270.9 795.82" stroke="#8c8c8c" stroke-width="0.9" fill="none" stroke-dasharray="0.9 2.1"/>
<path d="M213.3 788L270.9 783.2" stroke="#111" stroke-width="1.3" fill="none"/>
<text x="238.6" y="820.1" font-size="7.1" stroke="#231f20" stroke-width="0.15"><tspan font-style="italic">R</tspan><tspan font-size="4.8" dy="-2.9">2</tspan><tspan dy="2.9"> = 0.009</tspan></text>
<text x="238.6" y="828.2" font-size="7.1" stroke="#231f20" stroke-width="0.15"><tspan font-style="italic">P</tspan> = 0.405</text>
<text x="298.4" y="742.4" font-size="12.2" fill="#000" font-weight="bold" stroke="#000" stroke-width="0.4">x</text>
<circle cx="336.4" cy="743.4" r="2.8" fill="#f43c3f"/>
<text x="342.8" y="745.7" font-size="6.6" textLength="25.5" lengthAdjust="spacingAndGlyphs" stroke="#231f20" stroke-width="0.15">Baseline</text>
<circle cx="379.3" cy="743.4" r="2.8" fill="#1596b4"/>
<text x="385.2" y="745.7" font-size="6.6" textLength="26.6" lengthAdjust="spacingAndGlyphs" stroke="#231f20" stroke-width="0.15">CR (2 yr)</text>
<path d="M333.3 751.6V832.7H414M329 751.6H333.3M330.3 765.12H333.3M329 778.63H333.3M330.3 792.15H333.3M329 805.67H333.3M330.3 819.18H333.3M329 832.7H333.3M333.3 832.7V836.7M353.48 832.7V835.5M373.65 832.7V836.7M393.82 832.7V835.5M414 832.7V836.7" stroke="#b0b0b0" stroke-width="1" fill="none"/>
<text x="325.3" y="754.3" font-size="7.4" text-anchor="end" textLength="12.96" lengthAdjust="spacingAndGlyphs" stroke="#231f20" stroke-width="0.15">12.7</text>
<text x="325.3" y="781.33" font-size="7.4" text-anchor="end" textLength="12.96" lengthAdjust="spacingAndGlyphs" stroke="#231f20" stroke-width="0.15">12.2</text>
<text x="325.3" y="808.37" font-size="7.4" text-anchor="end" textLength="12.96" lengthAdjust="spacingAndGlyphs" stroke="#231f20" stroke-width="0.15">11.7</text>
<text x="325.3" y="835.4" font-size="7.4" text-anchor="end" textLength="12.96" lengthAdjust="spacingAndGlyphs" stroke="#231f20" stroke-width="0.15">11.2</text>
<text x="333.3" y="846.2" font-size="7.4" text-anchor="middle" textLength="7.41" lengthAdjust="spacingAndGlyphs" stroke="#231f20" stroke-width="0.15">17</text>
<text x="373.65" y="846.2" font-size="7.4" text-anchor="middle" textLength="7.41" lengthAdjust="spacingAndGlyphs" stroke="#231f20" stroke-width="0.15">24</text>
<text x="414" y="846.2" font-size="7.4" text-anchor="middle" textLength="7.41" lengthAdjust="spacingAndGlyphs" stroke="#231f20" stroke-width="0.15">31</text>
<text x="349.6" y="861.9" font-size="8.2" textLength="40.2" lengthAdjust="spacingAndGlyphs" stroke="#231f20" stroke-width="0.15">BMI (kg m</text>
<text x="390" y="858.3" font-size="5.6" textLength="6" lengthAdjust="spacingAndGlyphs" stroke="#231f20" stroke-width="0.15">−2</text>
<text x="395.8" y="861.9" font-size="8.2" stroke="#231f20" stroke-width="0.15">)</text>
<text x="305.9" y="792.15" font-size="8.6" text-anchor="middle" textLength="79" lengthAdjust="spacingAndGlyphs" transform="rotate(-90 305.9 792.15)" stroke="#231f20" stroke-width="0.15">C3adesArg (2755-8)</text>
<circle cx="363.83" cy="791.92" r="1.3" fill="#1596b4"/>
<circle cx="380.71" cy="784.27" r="1.3" fill="#1596b4"/>
<circle cx="379.23" cy="794.7" r="1.3" fill="#1596b4"/>
<circle cx="380.71" cy="794.2" r="1.3" fill="#1596b4"/>
<circle cx="378.53" cy="789.24" r="1.3" fill="#f43c3f"/>
<circle cx="396.41" cy="803.92" r="1.3" fill="#f43c3f"/>
<circle cx="382.2" cy="785.76" r="1.3" fill="#f43c3f"/>
<circle cx="364.03" cy="782.78" r="1.3" fill="#f43c3f"/>
<circle cx="396.11" cy="811.86" r="1.3" fill="#f43c3f"/>
<circle cx="345.46" cy="794.9" r="1.3" fill="#1596b4"/>
<circle cx="372.57" cy="811.86" r="1.3" fill="#1596b4"/>
<circle cx="371.98" cy="788.94" r="1.3" fill="#f43c3f"/>
<circle cx="395.11" cy="794.2" r="1.3" fill="#f43c3f"/>
<circle cx="362.64" cy="803.12" r="1.3" fill="#f43c3f"/>
<circle cx="382.7" cy="787.75" r="1.3" fill="#f43c3f"/>
<circle cx="386.67" cy="771.07" r="1.3" fill="#f43c3f"/>
<circle cx="392.63" cy="787.95" r="1.3" fill="#f43c3f"/>
<circle cx="355.89" cy="785.96" r="1.3" fill="#1596b4"/>
<circle cx="369.79" cy="789.24" r="1.3" fill="#f43c3f"/>
<circle cx="390.15" cy="793.51" r="1.3" fill="#f43c3f"/>
<circle cx="363.83" cy="798.45" r="1.3" fill="#1596b4"/>
<circle cx="363.04" cy="765.11" r="1.3" fill="#1596b4"/>
<circle cx="380.22" cy="813.85" r="1.3" fill="#1596b4"/>
<circle cx="359.86" cy="780" r="1.3" fill="#1596b4"/>
<circle cx="365.32" cy="794.7" r="1.3" fill="#1596b4"/>
<circle cx="384.89" cy="805.21" r="1.3" fill="#1596b4"/>
<circle cx="366.81" cy="786.56" r="1.3" fill="#1596b4"/>
<circle cx="374.26" cy="787.75" r="1.3" fill="#f43c3f"/>
<circle cx="354.9" cy="796.69" r="1.3" fill="#1596b4"/>
<circle cx="378.73" cy="780.6" r="1.3" fill="#f43c3f"/>
<circle cx="387.47" cy="791.72" r="1.3" fill="#1596b4"/>
<circle cx="361.05" cy="781" r="1.3" fill="#1596b4"/>
<circle cx="371.98" cy="790.93" r="1.3" fill="#f43c3f"/>
<circle cx="363.34" cy="796.97" r="1.3" fill="#1596b4"/>
<circle cx="356.68" cy="804.41" r="1.3" fill="#1596b4"/>
<circle cx="358.87" cy="801.14" r="1.3" fill="#1596b4"/>
<circle cx="386.67" cy="796.19" r="1.3" fill="#f43c3f"/>
<circle cx="354.7" cy="797.16" r="1.3" fill="#1596b4"/>
<circle cx="351.72" cy="793.51" r="1.3" fill="#1596b4"/>
<circle cx="395.11" cy="790.93" r="1.3" fill="#f43c3f"/>
<circle cx="360.16" cy="817.12" r="1.3" fill="#1596b4"/>
<circle cx="388.16" cy="770.67" r="1.3" fill="#f43c3f"/>
<circle cx="375.75" cy="782.98" r="1.3" fill="#f43c3f"/>
<circle cx="374.76" cy="783.58" r="1.3" fill="#f43c3f"/>
<circle cx="359.07" cy="794.9" r="1.3" fill="#1596b4"/>
<circle cx="357.87" cy="810.67" r="1.3" fill="#1596b4"/>
<circle cx="359.86" cy="786.96" r="1.3" fill="#1596b4"/>
<circle cx="347.15" cy="802.43" r="1.3" fill="#1596b4"/>
<circle cx="349.73" cy="781" r="1.3" fill="#1596b4"/>
<circle cx="349.43" cy="789.74" r="1.3" fill="#1596b4"/>
<circle cx="397.6" cy="790.73" r="1.3" fill="#f43c3f"/>
<circle cx="368.8" cy="792.91" r="1.3" fill="#1596b4"/>
<circle cx="394.42" cy="802.72" r="1.3" fill="#f43c3f"/>
<circle cx="357.08" cy="778.32" r="1.3" fill="#1596b4"/>
<circle cx="381.21" cy="791.23" r="1.3" fill="#f43c3f"/>
<circle cx="368.8" cy="768.09" r="1.3" fill="#1596b4"/>
<circle cx="374.96" cy="808.68" r="1.3" fill="#1596b4"/>
<circle cx="372.27" cy="774.64" r="1.3" fill="#f43c3f"/>
<circle cx="368.8" cy="808.68" r="1.3" fill="#1596b4"/>
<circle cx="352.41" cy="784.77" r="1.3" fill="#1596b4"/>
<circle cx="367.81" cy="786.26" r="1.3" fill="#1596b4"/>
<circle cx="372.77" cy="806.4" r="1.3" fill="#1596b4"/>
<circle cx="367.81" cy="766.9" r="1.3" fill="#1596b4"/>
<circle cx="392.63" cy="781.99" r="1.3" fill="#f43c3f"/>
<circle cx="392.14" cy="792.91" r="1.3" fill="#f43c3f"/>
<circle cx="393.82" cy="780.6" r="1.3" fill="#f43c3f"/>
<circle cx="376.74" cy="800.44" r="1.3" fill="#1596b4"/>
<circle cx="383.2" cy="793.51" r="1.3" fill="#f43c3f"/>
<circle cx="377.24" cy="795.5" r="1.3" fill="#1596b4"/>
<circle cx="375.25" cy="786.26" r="1.3" fill="#f43c3f"/>
<circle cx="370.78" cy="787.25" r="1.3" fill="#f43c3f"/>
<circle cx="366.61" cy="789.93" r="1.3" fill="#1596b4"/>
<circle cx="387.47" cy="786.96" r="1.3" fill="#f43c3f"/>
<circle cx="381.91" cy="774.05" r="1.3" fill="#f43c3f"/>
<circle cx="365.02" cy="778.02" r="1.3" fill="#f43c3f"/>
<circle cx="379.03" cy="821.49" r="1.3" fill="#1596b4"/>
<path d="M356.4 784.9 L360 785.74 L363.6 786.47 L367.2 787.04 L370.8 787.37 L374.4 787.41 L378 787.16 L381.6 786.69 L385.2 786.05 L388.8 785.31 L392.4 784.5 L396 783.64 L399.6 782.75 L403.2 781.85 L406.8 780.92 L410.4 779.98 L414 779.04" stroke="#8c8c8c" stroke-width="0.9" fill="none" stroke-dasharray="0.9 2.1"/>
<path d="M356.4 796.7 L360 795.96 L363.6 795.33 L367.2 794.86 L370.8 794.63 L374.4 794.69 L378 795.04 L381.6 795.61 L385.2 796.35 L388.8 797.19 L392.4 798.1 L396 799.06 L399.6 800.05 L403.2 801.05 L406.8 802.08 L410.4 803.12 L414 804.16" stroke="#8c8c8c" stroke-width="0.9" fill="none" stroke-dasharray="0.9 2.1"/>
<path d="M356.4 790.8L414 791.6" stroke="#111" stroke-width="1.3" fill="none"/>
<text x="383.4" y="820.1" font-size="7.1" stroke="#231f20" stroke-width="0.15"><tspan font-style="italic">R</tspan><tspan font-size="4.8" dy="-2.9">2</tspan><tspan dy="2.9"> &lt; 0.001</tspan></text>
<text x="383.4" y="828.2" font-size="7.1" stroke="#231f20" stroke-width="0.15"><tspan font-style="italic">P</tspan> = 0.872</text>
<text x="438.8" y="742.4" font-size="12.2" fill="#000" font-weight="bold" stroke="#000" stroke-width="0.4">y</text>
<circle cx="477.8" cy="743.4" r="2.8" fill="#f43c3f"/>
<text x="484.2" y="745.7" font-size="6.6" textLength="25.5" lengthAdjust="spacingAndGlyphs" stroke="#231f20" stroke-width="0.15">Baseline</text>
<circle cx="521" cy="743.4" r="2.8" fill="#1596b4"/>
<text x="526.9" y="745.7" font-size="6.6" textLength="26.6" lengthAdjust="spacingAndGlyphs" stroke="#231f20" stroke-width="0.15">CR (2 yr)</text>
<path d="M474.3 751.4V832.5H555.3M470 751.4H474.3M471.3 771.67H474.3M470 791.95H474.3M471.3 812.23H474.3M470 832.5H474.3M474.3 832.5V836.5M494.55 832.5V835.3M514.8 832.5V836.5M535.05 832.5V835.3M555.3 832.5V836.5" stroke="#b0b0b0" stroke-width="1" fill="none"/>
<text x="466.3" y="754.1" font-size="7.4" text-anchor="end" textLength="12.96" lengthAdjust="spacingAndGlyphs" stroke="#231f20" stroke-width="0.15">11.9</text>
<text x="466.3" y="794.65" font-size="7.4" text-anchor="end" textLength="12.96" lengthAdjust="spacingAndGlyphs" stroke="#231f20" stroke-width="0.15">11.4</text>
<text x="466.3" y="835.2" font-size="7.4" text-anchor="end" textLength="12.96" lengthAdjust="spacingAndGlyphs" stroke="#231f20" stroke-width="0.15">10.9</text>
<text x="474.3" y="846" font-size="7.4" text-anchor="middle" textLength="7.41" lengthAdjust="spacingAndGlyphs" stroke="#231f20" stroke-width="0.15">17</text>
<text x="514.8" y="846" font-size="7.4" text-anchor="middle" textLength="7.41" lengthAdjust="spacingAndGlyphs" stroke="#231f20" stroke-width="0.15">24</text>
<text x="555.3" y="846" font-size="7.4" text-anchor="middle" textLength="7.41" lengthAdjust="spacingAndGlyphs" stroke="#231f20" stroke-width="0.15">31</text>
<text x="490.4" y="861.7" font-size="8.2" textLength="40.2" lengthAdjust="spacingAndGlyphs" stroke="#231f20" stroke-width="0.15">BMI (kg m</text>
<text x="530.8" y="858.1" font-size="5.6" textLength="6" lengthAdjust="spacingAndGlyphs" stroke="#231f20" stroke-width="0.15">−2</text>
<text x="536.6" y="861.7" font-size="8.2" stroke="#231f20" stroke-width="0.15">)</text>
<text x="446.9" y="791.95" font-size="8.6" text-anchor="middle" textLength="55" lengthAdjust="spacingAndGlyphs" transform="rotate(-90 446.9 791.95)" stroke="#231f20" stroke-width="0.15">C9 (3060-43)</text>
<circle cx="522.21" cy="778.02" r="1.3" fill="#f43c3f"/>
<circle cx="533.63" cy="774.34" r="1.3" fill="#f43c3f"/>
<circle cx="500.66" cy="761.43" r="1.3" fill="#1596b4"/>
<circle cx="523.9" cy="784.77" r="1.3" fill="#f43c3f"/>
<circle cx="500.66" cy="801.73" r="1.3" fill="#1596b4"/>
<circle cx="498.38" cy="771.86" r="1.3" fill="#1596b4"/>
<circle cx="525.89" cy="810.67" r="1.3" fill="#1596b4"/>
<circle cx="520.72" cy="791.23" r="1.3" fill="#1596b4"/>
<circle cx="501.16" cy="774.34" r="1.3" fill="#1596b4"/>
<circle cx="521.91" cy="802.72" r="1.3" fill="#1596b4"/>
<circle cx="503.34" cy="784.77" r="1.3" fill="#f43c3f"/>
<circle cx="528.47" cy="770.87" r="1.3" fill="#f43c3f"/>
<circle cx="533.14" cy="794.7" r="1.3" fill="#f43c3f"/>
<circle cx="534.82" cy="766.9" r="1.3" fill="#f43c3f"/>
<circle cx="507.81" cy="787.25" r="1.3" fill="#1596b4"/>
<circle cx="486.46" cy="795.89" r="1.3" fill="#1596b4"/>
<circle cx="535.82" cy="792.71" r="1.3" fill="#f43c3f"/>
<circle cx="509.3" cy="784.27" r="1.3" fill="#f43c3f"/>
<circle cx="521.52" cy="775.04" r="1.3" fill="#1596b4"/>
<circle cx="521.91" cy="781.59" r="1.3" fill="#f43c3f"/>
<circle cx="513.77" cy="783.28" r="1.3" fill="#1596b4"/>
<circle cx="520.52" cy="801.93" r="1.3" fill="#1596b4"/>
<circle cx="495.9" cy="770.87" r="1.3" fill="#1596b4"/>
<circle cx="508.81" cy="781.59" r="1.3" fill="#1596b4"/>
<circle cx="537.11" cy="778.32" r="1.3" fill="#f43c3f"/>
<circle cx="498.87" cy="807.39" r="1.3" fill="#1596b4"/>
<circle cx="490.63" cy="803.62" r="1.3" fill="#1596b4"/>
<circle cx="517.74" cy="803.72" r="1.3" fill="#1596b4"/>
<circle cx="499.87" cy="780.6" r="1.3" fill="#1596b4"/>
<circle cx="535.42" cy="806.7" r="1.3" fill="#f43c3f"/>
<circle cx="507.02" cy="792.22" r="1.3" fill="#1596b4"/>
<circle cx="531.15" cy="779.01" r="1.3" fill="#f43c3f"/>
<circle cx="519.73" cy="784.77" r="1.3" fill="#1596b4"/>
<circle cx="504.04" cy="796.19" r="1.3" fill="#1596b4"/>
<circle cx="487.95" cy="795.89" r="1.3" fill="#1596b4"/>
<circle cx="529.16" cy="772.66" r="1.3" fill="#f43c3f"/>
<circle cx="509.6" cy="778.32" r="1.3" fill="#1596b4"/>
<circle cx="496.89" cy="786.96" r="1.3" fill="#1596b4"/>
<circle cx="504.34" cy="790.23" r="1.3" fill="#1596b4"/>
<circle cx="515.26" cy="775.83" r="1.3" fill="#f43c3f"/>
<circle cx="538.6" cy="797.96" r="1.3" fill="#f43c3f"/>
<circle cx="535.82" cy="780.8" r="1.3" fill="#f43c3f"/>
<circle cx="516.95" cy="765.41" r="1.3" fill="#f43c3f"/>
<circle cx="493.41" cy="796.19" r="1.3" fill="#1596b4"/>
<circle cx="519.23" cy="802.72" r="1.3" fill="#f43c3f"/>
<circle cx="499.67" cy="778.81" r="1.3" fill="#1596b4"/>
<circle cx="528.17" cy="779.01" r="1.3" fill="#1596b4"/>
<circle cx="516.75" cy="776.83" r="1.3" fill="#f43c3f"/>
<circle cx="501.85" cy="790.73" r="1.3" fill="#1596b4"/>
<circle cx="515.96" cy="800.94" r="1.3" fill="#1596b4"/>
<circle cx="518.74" cy="785.27" r="1.3" fill="#1596b4"/>
<circle cx="505.83" cy="777.62" r="1.3" fill="#f43c3f"/>
<circle cx="513.27" cy="795.69" r="1.3" fill="#f43c3f"/>
<circle cx="515.76" cy="760.44" r="1.3" fill="#f43c3f"/>
<circle cx="537.6" cy="798.75" r="1.3" fill="#f43c3f"/>
<circle cx="510.99" cy="813.05" r="1.3" fill="#f43c3f"/>
<circle cx="490.73" cy="824.47" r="1.3" fill="#1596b4"/>
<circle cx="510" cy="811.56" r="1.3" fill="#1596b4"/>
<circle cx="526.88" cy="780" r="1.3" fill="#f43c3f"/>
<circle cx="503.34" cy="792.91" r="1.3" fill="#1596b4"/>
<circle cx="505.33" cy="791.52" r="1.3" fill="#1596b4"/>
<circle cx="507.81" cy="783.98" r="1.3" fill="#f43c3f"/>
<circle cx="527.67" cy="793.71" r="1.3" fill="#f43c3f"/>
<circle cx="492.72" cy="798.75" r="1.3" fill="#1596b4"/>
<circle cx="504.63" cy="783.28" r="1.3" fill="#1596b4"/>
<circle cx="509.8" cy="791.92" r="1.3" fill="#1596b4"/>
<circle cx="497.58" cy="812.36" r="1.3" fill="#1596b4"/>
<circle cx="513.77" cy="785.76" r="1.3" fill="#1596b4"/>
<circle cx="510.79" cy="784.27" r="1.3" fill="#f43c3f"/>
<circle cx="509.3" cy="788.54" r="1.3" fill="#1596b4"/>
<circle cx="519.93" cy="772.85" r="1.3" fill="#f43c3f"/>
<circle cx="523.2" cy="786.76" r="1.3" fill="#f43c3f"/>
<circle cx="516.95" cy="772.66" r="1.3" fill="#f43c3f"/>
<circle cx="504.83" cy="769.38" r="1.3" fill="#f43c3f"/>
<path d="M496.9 784.36 L500.55 784.61 L504.2 784.76 L507.85 784.76 L511.5 784.52 L515.15 783.99 L518.8 783.16 L522.45 782.09 L526.1 780.85 L529.75 779.5 L533.4 778.07 L537.05 776.6 L540.7 775.09 L544.35 773.56 L548 772.02 L551.65 770.46 L555.3 768.89" stroke="#8c8c8c" stroke-width="0.9" fill="none" stroke-dasharray="0.9 2.1"/>
<path d="M496.9 796.44 L500.55 795.08 L504.2 793.81 L507.85 792.7 L511.5 791.83 L515.15 791.25 L518.8 790.96 L522.45 790.92 L526.1 791.05 L529.75 791.29 L533.4 791.6 L537.05 791.96 L540.7 792.36 L544.35 792.77 L548 793.21 L551.65 793.65 L555.3 794.11" stroke="#8c8c8c" stroke-width="0.9" fill="none" stroke-dasharray="0.9 2.1"/>
<path d="M496.9 790.4L555.3 781.5" stroke="#111" stroke-width="1.3" fill="none"/>
<text x="523.8" y="819.9" font-size="7.1" stroke="#231f20" stroke-width="0.15"><tspan>R</tspan><tspan font-size="4.8" dy="-2.9">2</tspan><tspan dy="2.9"> = 0.025</tspan></text>
<text x="523.8" y="828" font-size="7.1" stroke="#231f20" stroke-width="0.15"><tspan>P</tspan> = 0.153</text>
<text x="585.6" y="609.3" font-size="9.6" fill="#000" font-weight="bold" stroke="#000" stroke-width="0.4">z</text>
<path d="M620.5 611.1V671.3M616.2 611.1H620.5M616.2 631.1H620.5M616.2 651.4H620.5M616.2 671.3H620.5M617.5 621.1H620.5M617.5 641.25H620.5M617.5 661.35H620.5M616.2 671.3H672.7M635.3 671.3V675.1M657.5 671.3V675.1" stroke="#6d6e71" stroke-width="0.8" fill="none"/>
<text x="613.2" y="613.65" font-size="7.2" text-anchor="end" stroke="#231f20" stroke-width="0.15">1.5</text>
<text x="613.2" y="633.65" font-size="7.2" text-anchor="end" stroke="#231f20" stroke-width="0.15">1.0</text>
<text x="613.2" y="653.95" font-size="7.2" text-anchor="end" stroke="#231f20" stroke-width="0.15">0.5</text>
<text x="613.2" y="673.85" font-size="7.2" text-anchor="end" stroke="#231f20" stroke-width="0.15">0</text>
<text x="645.6" y="612.7" font-size="6.6" text-anchor="middle" textLength="18.3" lengthAdjust="spacingAndGlyphs" stroke="#231f20" stroke-width="0.15">0.122</text>
<path d="M632.4 616.3H658.4" stroke="#b5b5b5" stroke-width="1" fill="none"/>
<path d="M632.4 614.6V618M658.4 614.6V618" stroke="#808080" stroke-width="0.9" fill="none"/>
<text x="592.5" y="641.5" font-size="8.8" text-anchor="middle" transform="rotate(-90 592.5 641.5)" stroke="#231f20" stroke-width="0.15">C3 (ng ml<tspan font-size="5.5" dy="-3">−1</tspan><tspan dy="3">)</tspan></text>
<circle cx="657.5" cy="637.71" r="2.2" fill="#1596b4"/>
<circle cx="657.5" cy="638.76" r="2.2" fill="#1596b4"/>
<circle cx="657.5" cy="636.8" r="2.2" fill="#1596b4"/>
<circle cx="657.5" cy="638.44" r="2.2" fill="#1596b4"/>
<circle cx="657.5" cy="640.38" r="2.2" fill="#1596b4"/>
<circle cx="657.5" cy="637.46" r="2.2" fill="#1596b4"/>
<circle cx="657.5" cy="639.24" r="2.2" fill="#1596b4"/>
<circle cx="657.5" cy="641.77" r="2.2" fill="#1596b4"/>
<circle cx="657.5" cy="629.3" r="2.2" fill="#1596b4"/>
<circle cx="657.5" cy="627.7" r="2.2" fill="#1596b4"/>
<circle cx="657.5" cy="642.25" r="2.2" fill="#1596b4"/>
<circle cx="657.5" cy="640.13" r="2.2" fill="#1596b4"/>
<circle cx="657.5" cy="645.46" r="2.2" fill="#1596b4"/>
<circle cx="657.5" cy="651.5" r="2.2" fill="#1596b4"/>
<circle cx="657.5" cy="643.7" r="2.2" fill="#1596b4"/>
<circle cx="657.5" cy="640.91" r="2.2" fill="#1596b4"/>
<circle cx="657.5" cy="643.35" r="2.2" fill="#1596b4"/>
<circle cx="657.5" cy="644.29" r="2.2" fill="#1596b4"/>
<circle cx="657.5" cy="642.53" r="2.2" fill="#1596b4"/>
<circle cx="657.5" cy="644.62" r="2.2" fill="#1596b4"/>
<circle cx="657.5" cy="656.5" r="2.2" fill="#1596b4"/>
<circle cx="657.5" cy="645.8" r="2.2" fill="#1596b4"/>
<path d="M635.3 626.59L657.5 637.71M635.3 627.59L657.5 638.76M635.3 628.55L657.5 636.8M635.3 629.57L657.5 638.44M635.3 630.34L657.5 640.38M635.3 631.38L657.5 637.46M635.3 631.65L657.5 639.24M635.3 632.88L657.5 641.77M635.3 634.14L657.5 629.3M635.3 634.84L657.5 627.7M635.3 635.94L657.5 642.25M635.3 636.28L657.5 640.13M635.3 637.46L657.5 645.46M635.3 638.21L657.5 651.5M635.3 639.34L657.5 643.7M635.3 640.28L657.5 640.91M635.3 640.78L657.5 643.35M635.3 641.85L657.5 644.29M635.3 642.81L657.5 642.53M635.3 644.19L657.5 644.62M635.3 644.8L657.5 656.5M635.3 649.8L657.5 645.8" stroke="#000" stroke-width="1.05" fill="none" stroke-dasharray="2.2 3.3" stroke-dashoffset="0.5"/>
<circle cx="635.3" cy="626.59" r="2.2" fill="#f43c3f"/>
<circle cx="635.3" cy="627.59" r="2.2" fill="#f43c3f"/>
<circle cx="635.3" cy="628.55" r="2.2" fill="#f43c3f"/>
<circle cx="635.3" cy="629.57" r="2.2" fill="#f43c3f"/>
<circle cx="635.3" cy="630.34" r="2.2" fill="#f43c3f"/>
<circle cx="635.3" cy="631.38" r="2.2" fill="#f43c3f"/>
<circle cx="635.3" cy="631.65" r="2.2" fill="#f43c3f"/>
<circle cx="635.3" cy="632.88" r="2.2" fill="#f43c3f"/>
<circle cx="635.3" cy="634.14" r="2.2" fill="#f43c3f"/>
<circle cx="635.3" cy="634.84" r="2.2" fill="#f43c3f"/>
<circle cx="635.3" cy="635.94" r="2.2" fill="#f43c3f"/>
<circle cx="635.3" cy="636.28" r="2.2" fill="#f43c3f"/>
<circle cx="635.3" cy="637.46" r="2.2" fill="#f43c3f"/>
<circle cx="635.3" cy="638.21" r="2.2" fill="#f43c3f"/>
<circle cx="635.3" cy="639.34" r="2.2" fill="#f43c3f"/>
<circle cx="635.3" cy="640.28" r="2.2" fill="#f43c3f"/>
<circle cx="635.3" cy="640.78" r="2.2" fill="#f43c3f"/>
<circle cx="635.3" cy="641.85" r="2.2" fill="#f43c3f"/>
<circle cx="635.3" cy="642.81" r="2.2" fill="#f43c3f"/>
<circle cx="635.3" cy="644.19" r="2.2" fill="#f43c3f"/>
<circle cx="635.3" cy="644.8" r="2.2" fill="#f43c3f"/>
<circle cx="635.3" cy="649.8" r="2.2" fill="#f43c3f"/>
<path d="M619.6 698.5V759.1M615.3 698.5H619.6M615.3 718.4H619.6M615.3 738.8H619.6M615.3 759.1H619.6M616.6 708.45H619.6M616.6 728.6H619.6M616.6 748.95H619.6M615.3 759.1H672.4M634.6 759.1V762.9M656.6 759.1V762.9" stroke="#6d6e71" stroke-width="0.8" fill="none"/>
<text x="612.3" y="701.05" font-size="7.2" text-anchor="end" stroke="#231f20" stroke-width="0.15">1,500</text>
<text x="612.3" y="720.95" font-size="7.2" text-anchor="end" stroke="#231f20" stroke-width="0.15">1,000</text>
<text x="612.3" y="741.35" font-size="7.2" text-anchor="end" stroke="#231f20" stroke-width="0.15">500</text>
<text x="612.3" y="761.65" font-size="7.2" text-anchor="end" stroke="#231f20" stroke-width="0.15">0</text>
<text x="645.2" y="696.2" font-size="6.6" text-anchor="middle" fill="#3a3aff" textLength="18.3" lengthAdjust="spacingAndGlyphs" stroke="#3a3aff" stroke-width="0.15">0.049</text>
<path d="M631.8 699.1H658.6" stroke="#b5b5b5" stroke-width="1" fill="none"/>
<path d="M631.8 697.4V700.8M658.6 697.4V700.8" stroke="#808080" stroke-width="0.9" fill="none"/>
<text x="583.8" y="729.6" font-size="8.8" text-anchor="middle" transform="rotate(-90 583.8 729.6)" stroke="#231f20" stroke-width="0.15">C3a (ng ml<tspan font-size="5.5" dy="-3">−1</tspan><tspan dy="3">)</tspan></text>
<circle cx="656.6" cy="745" r="2.2" fill="#1596b4"/>
<circle cx="656.6" cy="748" r="2.2" fill="#1596b4"/>
<circle cx="656.6" cy="750" r="2.2" fill="#1596b4"/>
<circle cx="656.6" cy="752" r="2.2" fill="#1596b4"/>
<circle cx="656.6" cy="744" r="2.2" fill="#1596b4"/>
<circle cx="656.6" cy="750.93" r="2.2" fill="#1596b4"/>
<circle cx="656.6" cy="755.4" r="2.2" fill="#1596b4"/>
<circle cx="656.6" cy="752.29" r="2.2" fill="#1596b4"/>
<circle cx="656.6" cy="753.5" r="2.2" fill="#1596b4"/>
<circle cx="656.6" cy="753.68" r="2.2" fill="#1596b4"/>
<circle cx="656.6" cy="755.66" r="2.2" fill="#1596b4"/>
<circle cx="656.6" cy="756.61" r="2.2" fill="#1596b4"/>
<circle cx="656.6" cy="755.32" r="2.2" fill="#1596b4"/>
<circle cx="656.6" cy="755.52" r="2.2" fill="#1596b4"/>
<circle cx="656.6" cy="750.89" r="2.2" fill="#1596b4"/>
<circle cx="656.6" cy="755.01" r="2.2" fill="#1596b4"/>
<circle cx="656.6" cy="749.84" r="2.2" fill="#1596b4"/>
<circle cx="656.6" cy="748.73" r="2.2" fill="#1596b4"/>
<circle cx="656.6" cy="753.04" r="2.2" fill="#1596b4"/>
<circle cx="656.6" cy="754.34" r="2.2" fill="#1596b4"/>
<circle cx="656.6" cy="755.56" r="2.2" fill="#1596b4"/>
<circle cx="656.6" cy="754.66" r="2.2" fill="#1596b4"/>
<circle cx="656.6" cy="755.65" r="2.2" fill="#1596b4"/>
<circle cx="656.6" cy="752.15" r="2.2" fill="#1596b4"/>
<circle cx="656.6" cy="755.03" r="2.2" fill="#1596b4"/>
<path d="M634.6 710.7L656.6 745M634.6 722.5L656.6 748M634.6 738.8L656.6 750M634.6 743.8L656.6 752M634.6 746.9L656.6 744M634.6 756.09L656.6 750.93M634.6 752.46L656.6 755.4M634.6 751.65L656.6 752.29M634.6 754.53L656.6 753.5M634.6 751.85L656.6 753.68M634.6 754.15L656.6 755.66M634.6 751.08L656.6 756.61M634.6 752.02L656.6 755.32M634.6 754.2L656.6 755.52M634.6 752.09L656.6 750.89M634.6 751.47L656.6 755.01M634.6 754.37L656.6 749.84M634.6 752.15L656.6 748.73M634.6 752.2L656.6 753.04M634.6 753.74L656.6 754.34M634.6 751.4L656.6 755.56M634.6 757.28L656.6 754.66M634.6 755.73L656.6 755.65M634.6 751.52L656.6 752.15M634.6 751.42L656.6 755.03" stroke="#000" stroke-width="1.05" fill="none" stroke-dasharray="2.2 3.3" stroke-dashoffset="0.5"/>
<circle cx="634.6" cy="710.7" r="2.2" fill="#f43c3f"/>
<circle cx="634.6" cy="722.5" r="2.2" fill="#f43c3f"/>
<circle cx="634.6" cy="738.8" r="2.2" fill="#f43c3f"/>
<circle cx="634.6" cy="743.8" r="2.2" fill="#f43c3f"/>
<circle cx="634.6" cy="746.9" r="2.2" fill="#f43c3f"/>
<circle cx="634.6" cy="756.09" r="2.2" fill="#f43c3f"/>
<circle cx="634.6" cy="752.46" r="2.2" fill="#f43c3f"/>
<circle cx="634.6" cy="751.65" r="2.2" fill="#f43c3f"/>
<circle cx="634.6" cy="754.53" r="2.2" fill="#f43c3f"/>
<circle cx="634.6" cy="751.85" r="2.2" fill="#f43c3f"/>
<circle cx="634.6" cy="754.15" r="2.2" fill="#f43c3f"/>
<circle cx="634.6" cy="751.08" r="2.2" fill="#f43c3f"/>
<circle cx="634.6" cy="752.02" r="2.2" fill="#f43c3f"/>
<circle cx="634.6" cy="754.2" r="2.2" fill="#f43c3f"/>
<circle cx="634.6" cy="752.09" r="2.2" fill="#f43c3f"/>
<circle cx="634.6" cy="751.47" r="2.2" fill="#f43c3f"/>
<circle cx="634.6" cy="754.37" r="2.2" fill="#f43c3f"/>
<circle cx="634.6" cy="752.15" r="2.2" fill="#f43c3f"/>
<circle cx="634.6" cy="752.2" r="2.2" fill="#f43c3f"/>
<circle cx="634.6" cy="753.74" r="2.2" fill="#f43c3f"/>
<circle cx="634.6" cy="751.4" r="2.2" fill="#f43c3f"/>
<circle cx="634.6" cy="757.28" r="2.2" fill="#f43c3f"/>
<circle cx="634.6" cy="755.73" r="2.2" fill="#f43c3f"/>
<circle cx="634.6" cy="751.52" r="2.2" fill="#f43c3f"/>
<circle cx="634.6" cy="751.42" r="2.2" fill="#f43c3f"/>
<path d="M615.5 781.4V841.3M611.2 781.4H615.5M611.2 801.3H615.5M611.2 821.2H615.5M611.2 841.3H615.5M612.5 791.35H615.5M612.5 811.25H615.5M612.5 831.25H615.5M611.2 841.3H671.8M633.8 841.3V845.1M656 841.3V845.1" stroke="#6d6e71" stroke-width="0.8" fill="none"/>
<text x="608.2" y="783.95" font-size="7.2" text-anchor="end" stroke="#231f20" stroke-width="0.15">7.5</text>
<text x="608.2" y="803.85" font-size="7.2" text-anchor="end" stroke="#231f20" stroke-width="0.15">5.0</text>
<text x="608.2" y="823.75" font-size="7.2" text-anchor="end" stroke="#231f20" stroke-width="0.15">2.5</text>
<text x="608.2" y="843.85" font-size="7.2" text-anchor="end" stroke="#231f20" stroke-width="0.15">0</text>
<text x="644.7" y="782.9" font-size="6.6" text-anchor="middle" fill="#3a3aff" textLength="18.3" lengthAdjust="spacingAndGlyphs" stroke="#3a3aff" stroke-width="0.15">0.041</text>
<path d="M631.8 787.1H657.6" stroke="#b5b5b5" stroke-width="1" fill="none"/>
<path d="M631.8 785.4V788.8M657.6 785.4V788.8" stroke="#808080" stroke-width="0.9" fill="none"/>
<text x="591.5" y="810.9" font-size="8.8" text-anchor="middle" textLength="74" lengthAdjust="spacingAndGlyphs" transform="rotate(-90 591.5 810.9)" stroke="#231f20" stroke-width="0.15">C3a/C3 ratio (a.u.)</text>
<circle cx="656" cy="814.3" r="2.2" fill="#1596b4"/>
<circle cx="656" cy="831" r="2.2" fill="#1596b4"/>
<circle cx="656" cy="833" r="2.2" fill="#1596b4"/>
<circle cx="656" cy="835" r="2.2" fill="#1596b4"/>
<circle cx="656" cy="836" r="2.2" fill="#1596b4"/>
<circle cx="656" cy="837" r="2.2" fill="#1596b4"/>
<circle cx="656" cy="833.78" r="2.2" fill="#1596b4"/>
<circle cx="656" cy="838.67" r="2.2" fill="#1596b4"/>
<circle cx="656" cy="833.89" r="2.2" fill="#1596b4"/>
<circle cx="656" cy="833.41" r="2.2" fill="#1596b4"/>
<circle cx="656" cy="840.11" r="2.2" fill="#1596b4"/>
<circle cx="656" cy="839.9" r="2.2" fill="#1596b4"/>
<circle cx="656" cy="834.6" r="2.2" fill="#1596b4"/>
<circle cx="656" cy="838.39" r="2.2" fill="#1596b4"/>
<circle cx="656" cy="835.81" r="2.2" fill="#1596b4"/>
<circle cx="656" cy="833.26" r="2.2" fill="#1596b4"/>
<circle cx="656" cy="833.29" r="2.2" fill="#1596b4"/>
<circle cx="656" cy="840.22" r="2.2" fill="#1596b4"/>
<circle cx="656" cy="840.2" r="2.2" fill="#1596b4"/>
<circle cx="656" cy="838.02" r="2.2" fill="#1596b4"/>
<circle cx="656" cy="836.44" r="2.2" fill="#1596b4"/>
<circle cx="656" cy="833.69" r="2.2" fill="#1596b4"/>
<circle cx="656" cy="833.67" r="2.2" fill="#1596b4"/>
<circle cx="656" cy="839.68" r="2.2" fill="#1596b4"/>
<path d="M633.8 797L656 814.3M633.8 811.5L656 831M633.8 813.3L656 833M633.8 822L656 835M633.8 824L656 836M633.8 830.2L656 837M633.8 838.45L656 833.78M633.8 838.08L656 838.67M633.8 838.51L656 833.89M633.8 840.05L656 833.41M633.8 839.67L656 840.11M633.8 839.3L656 839.9M633.8 838.42L656 834.6M633.8 838.19L656 838.39M633.8 839.37L656 835.81M633.8 840.09L656 833.26M633.8 838.28L656 833.29M633.8 837.73L656 840.22M633.8 836.77L656 840.2M633.8 839.92L656 838.02M633.8 836.52L656 836.44M633.8 839.07L656 833.69M633.8 837.49L656 833.67M633.8 839.67L656 839.68" stroke="#000" stroke-width="1.05" fill="none" stroke-dasharray="2.2 3.3" stroke-dashoffset="0.5"/>
<circle cx="633.8" cy="797" r="2.2" fill="#f43c3f"/>
<circle cx="633.8" cy="811.5" r="2.2" fill="#f43c3f"/>
<circle cx="633.8" cy="813.3" r="2.2" fill="#f43c3f"/>
<circle cx="633.8" cy="822" r="2.2" fill="#f43c3f"/>
<circle cx="633.8" cy="824" r="2.2" fill="#f43c3f"/>
<circle cx="633.8" cy="830.2" r="2.2" fill="#f43c3f"/>
<circle cx="633.8" cy="838.45" r="2.2" fill="#f43c3f"/>
<circle cx="633.8" cy="838.08" r="2.2" fill="#f43c3f"/>
<circle cx="633.8" cy="838.51" r="2.2" fill="#f43c3f"/>
<circle cx="633.8" cy="840.05" r="2.2" fill="#f43c3f"/>
<circle cx="633.8" cy="839.67" r="2.2" fill="#f43c3f"/>
<circle cx="633.8" cy="839.3" r="2.2" fill="#f43c3f"/>
<circle cx="633.8" cy="838.42" r="2.2" fill="#f43c3f"/>
<circle cx="633.8" cy="838.19" r="2.2" fill="#f43c3f"/>
<circle cx="633.8" cy="839.37" r="2.2" fill="#f43c3f"/>
<circle cx="633.8" cy="840.09" r="2.2" fill="#f43c3f"/>
<circle cx="633.8" cy="838.28" r="2.2" fill="#f43c3f"/>
<circle cx="633.8" cy="837.73" r="2.2" fill="#f43c3f"/>
<circle cx="633.8" cy="836.77" r="2.2" fill="#f43c3f"/>
<circle cx="633.8" cy="839.92" r="2.2" fill="#f43c3f"/>
<circle cx="633.8" cy="836.52" r="2.2" fill="#f43c3f"/>
<circle cx="633.8" cy="839.07" r="2.2" fill="#f43c3f"/>
<circle cx="633.8" cy="837.49" r="2.2" fill="#f43c3f"/>
<circle cx="633.8" cy="839.67" r="2.2" fill="#f43c3f"/>
<text x="644.4" y="857.6" font-size="9" text-anchor="end" textLength="32.9" lengthAdjust="spacingAndGlyphs" stroke="#231f20" stroke-width="0.15">Baseline</text>
<text x="650.5" y="857.6" font-size="9" textLength="34.2" lengthAdjust="spacingAndGlyphs" stroke="#231f20" stroke-width="0.15">CR (2 yr)</text></svg></body></html>
